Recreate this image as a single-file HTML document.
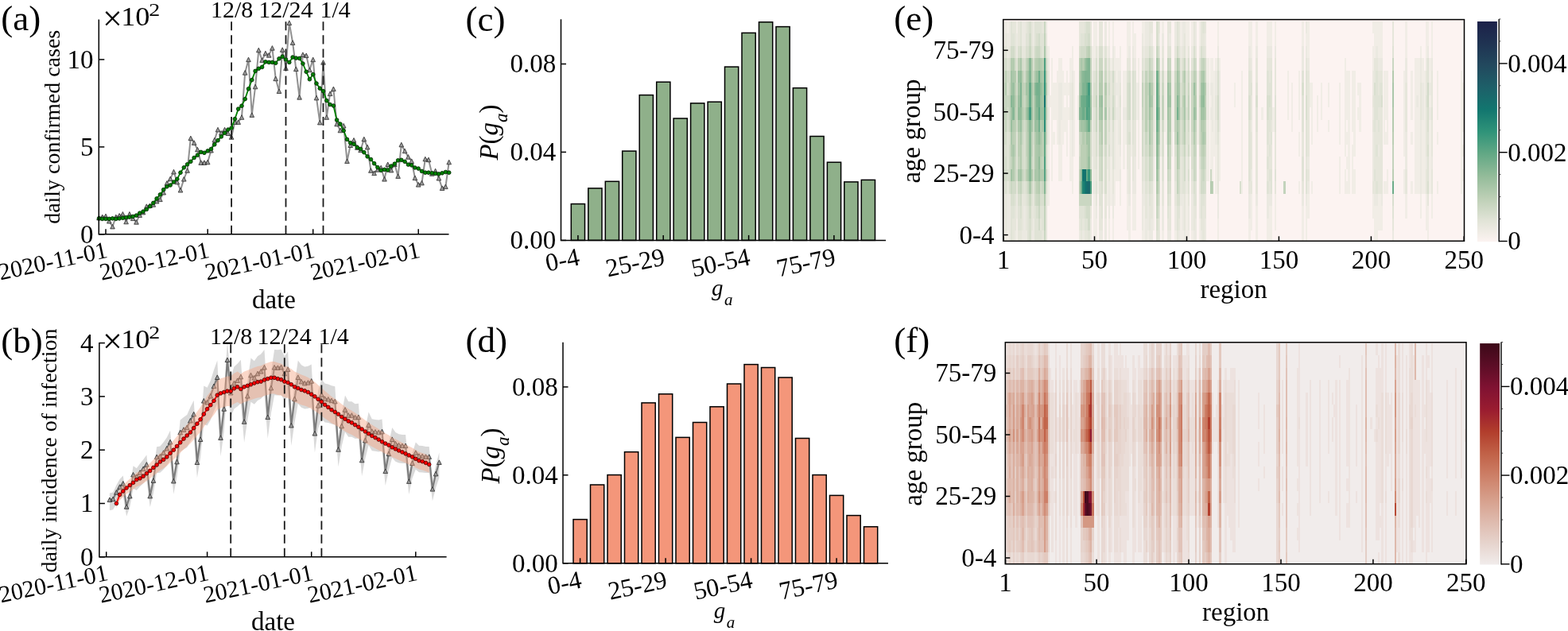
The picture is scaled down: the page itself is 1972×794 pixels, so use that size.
<!DOCTYPE html><html><head><meta charset="utf-8"><title>figure</title><style>html,body{margin:0;padding:0;background:#fff;overflow:hidden}svg{display:block}text{font-family:"Liberation Serif","Times New Roman",serif;fill:#000}</style></head><body>
<svg width="1972" height="794" viewBox="0 0 1972 794">
<rect width="1972" height="794" fill="#fff"/>
<g id="panel-a">
<path d="M124.5 274 L128.7 272.9 L133 271.9 L137.3 278.2 L141.5 285.1 L145.8 272.9 L150.1 271.3 L154.4 269.3 L158.6 279 L162.9 269.3 L167.2 274.8 L171.5 279.4 L175.7 270.6 L180 267.1 L184.3 259.6 L188.6 258.7 L192.8 257.4 L197.1 253.2 L201.4 250.8 L205.7 242.2 L209.9 230.4 L214.2 224.9 L218.5 216.1 L222.8 229 L227 239.2 L231.3 225.3 L235.6 214.5 L239.8 173.9 L244.1 179.6 L248.4 188.1 L252.7 204.6 L256.9 204.6 L261.2 204 L265.5 189.2 L269.8 176.1 L274 163.1 L278.3 167.3 L282.6 163.1 L286.9 167.7 L291.1 172.5 L295.4 153.6 L299.7 153.6 L304 147.5 L308.2 91.4 L312.5 74.9 L316.8 144.6 L321.1 109 L325.3 63 L329.6 75.6 L333.9 67 L338.2 69.4 L342.4 60.4 L346.7 98.9 L351 114.7 L355.2 62.6 L359.5 85.7 L363.8 28.7 L368.1 53.6 L372.3 86.8 L376.6 122.4 L380.9 68.7 L385.2 69.8 L389.4 87.9 L393.7 74.9 L398 123.1 L402.3 154.1 L406.5 78.4 L410.8 147.5 L415.1 117.8 L419.4 111.8 L423.6 156 L427.9 164 L432.2 158.2 L436.5 202.7 L440.7 182.7 L445 176.3 L449.3 185.5 L453.6 188.8 L457.8 175 L462.1 185.1 L466.4 214.5 L470.6 217.8 L474.9 213.4 L479.2 211 L483.5 225.3 L487.7 206.8 L492 214.1 L496.3 206.8 L500.6 221.6 L504.8 182 L509.1 189.9 L513.4 197.4 L517.7 202.7 L521.9 223.8 L526.2 232.3 L530.5 230.1 L534.8 200 L539 200.9 L543.3 218.5 L547.6 215 L551.9 224.2 L556.1 236.7 L560.4 234.8 L564.7 204" fill="none" stroke="#909090" stroke-width="2" stroke-linejoin="round"/>
<path d="M124.5 271.2L121.7 276.8L127.3 276.8ZM128.7 270.1L125.9 275.7L131.5 275.7ZM133 269.1L130.2 274.7L135.8 274.7ZM137.3 275.4L134.5 281L140.1 281ZM141.5 282.3L138.7 287.9L144.3 287.9ZM145.8 270.1L143 275.7L148.6 275.7ZM150.1 268.5L147.3 274.1L152.9 274.1ZM154.4 266.5L151.6 272.1L157.2 272.1ZM158.6 276.2L155.8 281.8L161.4 281.8ZM162.9 266.5L160.1 272.1L165.7 272.1ZM167.2 272L164.4 277.6L170 277.6ZM171.5 276.6L168.7 282.2L174.3 282.2ZM175.7 267.8L172.9 273.4L178.5 273.4ZM180 264.3L177.2 269.9L182.8 269.9ZM184.3 256.8L181.5 262.4L187.1 262.4ZM188.6 255.9L185.8 261.5L191.4 261.5ZM192.8 254.6L190 260.2L195.6 260.2ZM197.1 250.4L194.3 256L199.9 256ZM201.4 248L198.6 253.6L204.2 253.6ZM205.7 239.4L202.9 245L208.5 245ZM209.9 227.6L207.1 233.2L212.7 233.2ZM214.2 222.1L211.4 227.7L217 227.7ZM218.5 213.3L215.7 218.9L221.3 218.9ZM222.8 226.2L220 231.8L225.6 231.8ZM227 236.4L224.2 242L229.8 242ZM231.3 222.5L228.5 228.1L234.1 228.1ZM235.6 211.7L232.8 217.3L238.4 217.3ZM239.8 171.1L237 176.7L242.7 176.7ZM244.1 176.8L241.3 182.4L246.9 182.4ZM248.4 185.3L245.6 190.9L251.2 190.9ZM252.7 201.8L249.9 207.4L255.5 207.4ZM256.9 201.8L254.1 207.4L259.7 207.4ZM261.2 201.2L258.4 206.8L264 206.8ZM265.5 186.4L262.7 192L268.3 192ZM269.8 173.3L267 178.9L272.6 178.9ZM274 160.3L271.2 165.9L276.8 165.9ZM278.3 164.5L275.5 170.1L281.1 170.1ZM282.6 160.3L279.8 165.9L285.4 165.9ZM286.9 164.9L284.1 170.5L289.7 170.5ZM291.1 169.7L288.3 175.3L293.9 175.3ZM295.4 150.8L292.6 156.4L298.2 156.4ZM299.7 150.8L296.9 156.4L302.5 156.4ZM304 144.7L301.2 150.3L306.8 150.3ZM308.2 88.6L305.4 94.2L311 94.2ZM312.5 72.1L309.7 77.7L315.3 77.7ZM316.8 141.8L314 147.4L319.6 147.4ZM321.1 106.2L318.3 111.8L323.9 111.8ZM325.3 60.2L322.5 65.8L328.1 65.8ZM329.6 72.8L326.8 78.4L332.4 78.4ZM333.9 64.2L331.1 69.8L336.7 69.8ZM338.2 66.6L335.4 72.2L341 72.2ZM342.4 57.6L339.6 63.2L345.2 63.2ZM346.7 96.1L343.9 101.7L349.5 101.7ZM351 111.9L348.2 117.5L353.8 117.5ZM355.2 59.8L352.4 65.4L358 65.4ZM359.5 82.9L356.7 88.5L362.3 88.5ZM363.8 25.9L361 31.5L366.6 31.5ZM368.1 50.8L365.3 56.4L370.9 56.4ZM372.3 84L369.5 89.6L375.1 89.6ZM376.6 119.6L373.8 125.2L379.4 125.2ZM380.9 65.9L378.1 71.5L383.7 71.5ZM385.2 67L382.4 72.6L388 72.6ZM389.4 85.1L386.6 90.7L392.2 90.7ZM393.7 72.1L390.9 77.7L396.5 77.7ZM398 120.3L395.2 125.9L400.8 125.9ZM402.3 151.3L399.5 156.9L405.1 156.9ZM406.5 75.6L403.7 81.2L409.3 81.2ZM410.8 144.7L408 150.3L413.6 150.3ZM415.1 115L412.3 120.6L417.9 120.6ZM419.4 109L416.6 114.6L422.2 114.6ZM423.6 153.2L420.8 158.8L426.4 158.8ZM427.9 161.2L425.1 166.8L430.7 166.8ZM432.2 155.4L429.4 161L435 161ZM436.5 199.9L433.7 205.5L439.3 205.5ZM440.7 179.9L437.9 185.5L443.5 185.5ZM445 173.5L442.2 179.1L447.8 179.1ZM449.3 182.7L446.5 188.3L452.1 188.3ZM453.6 186L450.8 191.6L456.4 191.6ZM457.8 172.2L455 177.8L460.6 177.8ZM462.1 182.3L459.3 187.9L464.9 187.9ZM466.4 211.7L463.6 217.3L469.2 217.3ZM470.6 215L467.8 220.6L473.4 220.6ZM474.9 210.6L472.1 216.2L477.7 216.2ZM479.2 208.2L476.4 213.8L482 213.8ZM483.5 222.5L480.7 228.1L486.3 228.1ZM487.7 204L484.9 209.6L490.5 209.6ZM492 211.3L489.2 216.9L494.8 216.9ZM496.3 204L493.5 209.6L499.1 209.6ZM500.6 218.8L497.8 224.4L503.4 224.4ZM504.8 179.2L502 184.8L507.6 184.8ZM509.1 187.1L506.3 192.7L511.9 192.7ZM513.4 194.6L510.6 200.2L516.2 200.2ZM517.7 199.9L514.9 205.5L520.5 205.5ZM521.9 221L519.1 226.6L524.7 226.6ZM526.2 229.5L523.4 235.1L529 235.1ZM530.5 227.3L527.7 232.9L533.3 232.9ZM534.8 197.2L532 202.8L537.6 202.8ZM539 198.1L536.2 203.7L541.8 203.7ZM543.3 215.7L540.5 221.3L546.1 221.3ZM547.6 212.2L544.8 217.8L550.4 217.8ZM551.9 221.4L549.1 227L554.7 227ZM556.1 233.9L553.3 239.5L558.9 239.5ZM560.4 232L557.6 237.6L563.2 237.6ZM564.7 201.2L561.9 206.8L567.5 206.8Z" fill="#9a9a9a" stroke="#2a2a2a" stroke-width="0.8"/>
<path d="M291.1 294.8L291.1 26.2" stroke="#1a1a1a" stroke-width="1.8" stroke-dasharray="11.1 6"/>
<path d="M359.5 294.8L359.5 26.2" stroke="#1a1a1a" stroke-width="1.8" stroke-dasharray="11.1 6"/>
<path d="M406.5 294.8L406.5 26.2" stroke="#1a1a1a" stroke-width="1.8" stroke-dasharray="11.1 6"/>
<path d="M124.5 274.9 L128.7 275.4 L133 275.4 L137.3 275.4 L141.5 274.9 L145.8 275.4 L150.1 274.9 L154.4 274.3 L158.6 273.7 L162.9 273.2 L167.2 272.4 L171.5 271.1 L175.7 268.2 L180 266.2 L184.3 263.4 L188.6 259.6 L192.8 255.4 L197.1 249.9 L201.4 244.9 L205.7 238.7 L209.9 234.8 L214.2 233 L218.5 229 L222.8 225.3 L227 217.2 L231.3 210.8 L235.6 206.8 L239.8 203.3 L244.1 198.5 L248.4 195.2 L252.7 191.4 L256.9 192.3 L261.2 189.9 L265.5 187.5 L269.8 181.8 L274 176.7 L278.3 171.9 L282.6 167.3 L286.9 163.1 L291.1 161.1 L295.4 149.7 L299.7 137.1 L304 133.2 L308.2 124.6 L312.5 111.8 L316.8 100.6 L321.1 89.4 L325.3 86.3 L329.6 84.4 L333.9 77.8 L338.2 78.4 L342.4 78.4 L346.7 79.3 L351 73.8 L355.2 71.2 L359.5 74.9 L363.8 78.4 L368.1 72 L372.3 73.1 L376.6 73.4 L380.9 80 L385.2 90.3 L389.4 99.7 L393.7 93.6 L398 105 L402.3 111.2 L406.5 114.7 L410.8 126.6 L415.1 131.6 L419.4 133 L423.6 151 L427.9 156 L432.2 164.4 L436.5 175.4 L440.7 179.8 L445 181.3 L449.3 185.5 L453.6 187.5 L457.8 191.7 L462.1 196.9 L466.4 200.5 L470.6 205.7 L474.9 210.6 L479.2 214.3 L483.5 213.4 L487.7 214.1 L492 209 L496.3 206.2 L500.6 201.8 L504.8 201.3 L509.1 203.3 L513.4 207.1 L517.7 207.9 L521.9 211 L526.2 212.1 L530.5 215.4 L534.8 217.2 L539 217.2 L543.3 217.8 L547.6 218.3 L551.9 218.9 L556.1 217.8 L560.4 216.5 L564.7 217.2" fill="none" stroke="#008000" stroke-width="1.8" stroke-linejoin="round"/>
<g fill="#008000" stroke="#002200" stroke-width="0.8">
<circle cx="124.5" cy="274.9" r="2.35"/>
<circle cx="128.7" cy="275.4" r="2.35"/>
<circle cx="133" cy="275.4" r="2.35"/>
<circle cx="137.3" cy="275.4" r="2.35"/>
<circle cx="141.5" cy="274.9" r="2.35"/>
<circle cx="145.8" cy="275.4" r="2.35"/>
<circle cx="150.1" cy="274.9" r="2.35"/>
<circle cx="154.4" cy="274.3" r="2.35"/>
<circle cx="158.6" cy="273.7" r="2.35"/>
<circle cx="162.9" cy="273.2" r="2.35"/>
<circle cx="167.2" cy="272.4" r="2.35"/>
<circle cx="171.5" cy="271.1" r="2.35"/>
<circle cx="175.7" cy="268.2" r="2.35"/>
<circle cx="180" cy="266.2" r="2.35"/>
<circle cx="184.3" cy="263.4" r="2.35"/>
<circle cx="188.6" cy="259.6" r="2.35"/>
<circle cx="192.8" cy="255.4" r="2.35"/>
<circle cx="197.1" cy="249.9" r="2.35"/>
<circle cx="201.4" cy="244.9" r="2.35"/>
<circle cx="205.7" cy="238.7" r="2.35"/>
<circle cx="209.9" cy="234.8" r="2.35"/>
<circle cx="214.2" cy="233" r="2.35"/>
<circle cx="218.5" cy="229" r="2.35"/>
<circle cx="222.8" cy="225.3" r="2.35"/>
<circle cx="227" cy="217.2" r="2.35"/>
<circle cx="231.3" cy="210.8" r="2.35"/>
<circle cx="235.6" cy="206.8" r="2.35"/>
<circle cx="239.8" cy="203.3" r="2.35"/>
<circle cx="244.1" cy="198.5" r="2.35"/>
<circle cx="248.4" cy="195.2" r="2.35"/>
<circle cx="252.7" cy="191.4" r="2.35"/>
<circle cx="256.9" cy="192.3" r="2.35"/>
<circle cx="261.2" cy="189.9" r="2.35"/>
<circle cx="265.5" cy="187.5" r="2.35"/>
<circle cx="269.8" cy="181.8" r="2.35"/>
<circle cx="274" cy="176.7" r="2.35"/>
<circle cx="278.3" cy="171.9" r="2.35"/>
<circle cx="282.6" cy="167.3" r="2.35"/>
<circle cx="286.9" cy="163.1" r="2.35"/>
<circle cx="291.1" cy="161.1" r="2.35"/>
<circle cx="295.4" cy="149.7" r="2.35"/>
<circle cx="299.7" cy="137.1" r="2.35"/>
<circle cx="304" cy="133.2" r="2.35"/>
<circle cx="308.2" cy="124.6" r="2.35"/>
<circle cx="312.5" cy="111.8" r="2.35"/>
<circle cx="316.8" cy="100.6" r="2.35"/>
<circle cx="321.1" cy="89.4" r="2.35"/>
<circle cx="325.3" cy="86.3" r="2.35"/>
<circle cx="329.6" cy="84.4" r="2.35"/>
<circle cx="333.9" cy="77.8" r="2.35"/>
<circle cx="338.2" cy="78.4" r="2.35"/>
<circle cx="342.4" cy="78.4" r="2.35"/>
<circle cx="346.7" cy="79.3" r="2.35"/>
<circle cx="351" cy="73.8" r="2.35"/>
<circle cx="355.2" cy="71.2" r="2.35"/>
<circle cx="359.5" cy="74.9" r="2.35"/>
<circle cx="363.8" cy="78.4" r="2.35"/>
<circle cx="368.1" cy="72" r="2.35"/>
<circle cx="372.3" cy="73.1" r="2.35"/>
<circle cx="376.6" cy="73.4" r="2.35"/>
<circle cx="380.9" cy="80" r="2.35"/>
<circle cx="385.2" cy="90.3" r="2.35"/>
<circle cx="389.4" cy="99.7" r="2.35"/>
<circle cx="393.7" cy="93.6" r="2.35"/>
<circle cx="398" cy="105" r="2.35"/>
<circle cx="402.3" cy="111.2" r="2.35"/>
<circle cx="406.5" cy="114.7" r="2.35"/>
<circle cx="410.8" cy="126.6" r="2.35"/>
<circle cx="415.1" cy="131.6" r="2.35"/>
<circle cx="419.4" cy="133" r="2.35"/>
<circle cx="423.6" cy="151" r="2.35"/>
<circle cx="427.9" cy="156" r="2.35"/>
<circle cx="432.2" cy="164.4" r="2.35"/>
<circle cx="436.5" cy="175.4" r="2.35"/>
<circle cx="440.7" cy="179.8" r="2.35"/>
<circle cx="445" cy="181.3" r="2.35"/>
<circle cx="449.3" cy="185.5" r="2.35"/>
<circle cx="453.6" cy="187.5" r="2.35"/>
<circle cx="457.8" cy="191.7" r="2.35"/>
<circle cx="462.1" cy="196.9" r="2.35"/>
<circle cx="466.4" cy="200.5" r="2.35"/>
<circle cx="470.6" cy="205.7" r="2.35"/>
<circle cx="474.9" cy="210.6" r="2.35"/>
<circle cx="479.2" cy="214.3" r="2.35"/>
<circle cx="483.5" cy="213.4" r="2.35"/>
<circle cx="487.7" cy="214.1" r="2.35"/>
<circle cx="492" cy="209" r="2.35"/>
<circle cx="496.3" cy="206.2" r="2.35"/>
<circle cx="500.6" cy="201.8" r="2.35"/>
<circle cx="504.8" cy="201.3" r="2.35"/>
<circle cx="509.1" cy="203.3" r="2.35"/>
<circle cx="513.4" cy="207.1" r="2.35"/>
<circle cx="517.7" cy="207.9" r="2.35"/>
<circle cx="521.9" cy="211" r="2.35"/>
<circle cx="526.2" cy="212.1" r="2.35"/>
<circle cx="530.5" cy="215.4" r="2.35"/>
<circle cx="534.8" cy="217.2" r="2.35"/>
<circle cx="539" cy="217.2" r="2.35"/>
<circle cx="543.3" cy="217.8" r="2.35"/>
<circle cx="547.6" cy="218.3" r="2.35"/>
<circle cx="551.9" cy="218.9" r="2.35"/>
<circle cx="556.1" cy="217.8" r="2.35"/>
<circle cx="560.4" cy="216.5" r="2.35"/>
<circle cx="564.7" cy="217.2" r="2.35"/>
</g>
<path d="M124.3 24.5L124.3 294.8L564.5 294.8" fill="none" stroke="#000" stroke-width="1.5"/>
<line x1="124.3" y1="294.8" x2="131.3" y2="294.8" stroke="#000" stroke-width="1.5"/>
<text x="117.6" y="305.7" font-size="33" text-anchor="end">0</text>
<line x1="124.3" y1="184.9" x2="131.3" y2="184.9" stroke="#000" stroke-width="1.5"/>
<text x="117.6" y="195.8" font-size="33" text-anchor="end">5</text>
<line x1="124.3" y1="74.9" x2="131.3" y2="74.9" stroke="#000" stroke-width="1.5"/>
<text x="117.6" y="85.8" font-size="33" text-anchor="end">10</text>
<line x1="133" y1="294.8" x2="133" y2="288.3" stroke="#000" stroke-width="1.5"/>
<text x="136.4" y="323.7" font-size="30" text-anchor="end" transform="rotate(-12 136.4 323.7)">2020-11-01</text>
<line x1="261.2" y1="294.8" x2="261.2" y2="288.3" stroke="#000" stroke-width="1.5"/>
<text x="264.6" y="323.7" font-size="30" text-anchor="end" transform="rotate(-12 264.6 323.7)">2020-12-01</text>
<line x1="393.7" y1="294.8" x2="393.7" y2="288.3" stroke="#000" stroke-width="1.5"/>
<text x="397.1" y="323.7" font-size="30" text-anchor="end" transform="rotate(-12 397.1 323.7)">2021-01-01</text>
<line x1="526.2" y1="294.8" x2="526.2" y2="288.3" stroke="#000" stroke-width="1.5"/>
<text x="529.6" y="323.7" font-size="30" text-anchor="end" transform="rotate(-12 529.6 323.7)">2021-02-01</text>
<text x="1.2" y="38.4" font-size="45">(a)</text>
<text x="129.1" y="37.9" font-size="44">×</text>
<text transform="translate(152.2 31.9) scale(1.1 1)" font-size="33">10</text>
<text transform="translate(187.2 19.9) scale(1.2 1)" font-size="23.3">2</text>
<text x="75" y="159.8" font-size="28" text-anchor="middle" transform="rotate(-90 75 159.8)">daily confirmed cases</text>
<text x="344.5" y="387.8" font-size="33" text-anchor="middle">date</text>
<text x="291.6" y="22" font-size="30" text-anchor="middle">12/8</text>
<text x="359.3" y="22" font-size="30" text-anchor="middle">12/24</text>
<text x="402.5" y="22" font-size="30">1/4</text>
</g>
<g id="panel-b">
<path d="M137.9 620.6 L142.2 619.6 L146.4 610.4 L150.6 603.1 L154.8 598.4 L159.1 630.1 L163.3 615.5 L167.5 586.3 L171.8 589.3 L176 583.4 L180.2 578.3 L184.4 572.5 L188.7 615.5 L192.9 594.4 L197.1 562.2 L201.4 561.5 L205.6 556.4 L209.8 550.5 L214.1 541.8 L218.3 595.1 L222.5 568.8 L226.7 528.6 L231 525 L235.2 522.1 L239.4 512.6 L243.7 503.8 L247.9 569.5 L252.1 538.1 L256.3 485.6 L260.6 487.8 L264.8 479 L269 465.5 L273.3 453.4 L277.5 535.9 L281.7 496.5 L285.9 429.7 L290.2 474.6 L294.4 461.5 L298.6 457.8 L302.9 452.7 L307.1 514 L311.3 479 L315.5 450.5 L319.8 454.2 L324 448.3 L328.2 445.4 L332.5 439.9 L336.7 507.8 L340.9 468 L345.1 439.9 L349.4 440.3 L353.6 439.6 L357.8 448.3 L362.1 442.5 L366.3 519.2 L370.5 483 L374.8 453.4 L379 459.3 L383.2 461.5 L387.4 460.7 L391.7 458.5 L395.9 530.1 L400.1 492.1 L404.4 477.2 L408.6 482.6 L412.8 483.4 L417 485.2 L421.3 486.3 L425.5 552 L429.7 519.9 L434 497.6 L438.2 505.3 L442.4 505.3 L446.6 508.2 L450.9 507.8 L455.1 566.6 L459.3 539.6 L463.6 518.4 L467.8 527.2 L472 527.9 L476.2 528.6 L480.5 527.5 L484.7 581.6 L488.9 557.9 L493.2 538.1 L497.4 544 L501.6 546.2 L505.9 546.9 L510.1 546.9 L514.3 595.5 L518.5 570.6 L522.8 556.4 L527 560.8 L531.2 561.1 L535.5 561.9 L539.7 561.9 L543.9 606 L548.1 585.2 L552.4 569.5 L552.4 601.2 L548.1 613.8 L543.9 630.5 L539.7 595.1 L535.5 595.1 L531.2 594.5 L527 594.2 L522.8 590.7 L518.5 602.1 L514.3 622 L510.1 583.1 L505.9 583.1 L501.6 582.5 L497.4 580.7 L493.2 576 L488.9 591.8 L484.7 610.9 L480.5 567.5 L476.2 568.4 L472 567.8 L467.8 567.2 L463.6 560.2 L459.3 577.2 L455.1 598.9 L450.9 551.7 L446.6 552 L442.4 549.7 L438.2 549.7 L434 543.5 L429.7 561.4 L425.5 587.2 L421.3 534.5 L417 533.6 L412.8 532.1 L408.6 531.5 L404.4 527.1 L400.1 539.1 L395.9 569.6 L391.7 512.2 L387.4 514 L383.2 514.5 L379 512.8 L374.8 508.1 L370.5 531.8 L366.3 560.8 L362.1 499.3 L357.8 504 L353.6 497 L349.4 497.6 L345.1 497.3 L340.9 519.8 L336.7 551.7 L332.5 497.3 L328.2 501.7 L324 504 L319.8 508.7 L315.5 505.8 L311.3 528.6 L307.1 556.7 L302.9 507.5 L298.6 511.6 L294.4 514.5 L290.2 525.1 L285.9 489.1 L281.7 542.7 L277.5 574.3 L273.3 508.1 L269 517.8 L264.8 528.6 L260.6 535.6 L256.3 533.9 L252.1 576 L247.9 601.2 L243.7 548.5 L239.4 555.5 L235.2 563.1 L231 565.5 L226.7 568.4 L222.5 600.6 L218.3 621.7 L214.1 579 L209.8 586 L205.6 590.7 L201.4 594.8 L197.1 595.3 L192.9 621.1 L188.7 638.1 L184.4 603.5 L180.2 608.2 L176 612.3 L171.8 617 L167.5 614.7 L163.3 638.1 L159.1 649.8 L154.8 624.3 L150.6 628.1 L146.4 634 L142.2 641.3 L137.9 642.2Z" fill="#c0c0c0" fill-opacity="0.6"/>
<path d="M137.9 628.8 L142.2 627.8 L146.4 619.4 L150.6 612.6 L154.8 608.3 L159.1 637.5 L163.3 624.1 L167.5 597.2 L171.8 599.8 L176 594.5 L180.2 589.8 L184.4 584.4 L188.7 624.1 L192.9 604.6 L197.1 574.9 L201.4 574.3 L205.6 569.6 L209.8 564.2 L214.1 556.1 L218.3 605.2 L222.5 581 L226.7 544 L231 540.6 L235.2 537.9 L239.4 529.2 L243.7 521.1 L247.9 581.7 L252.1 552.7 L256.3 504.3 L260.6 506.3 L264.8 498.2 L269 485.8 L273.3 474.7 L277.5 550.7 L281.7 514.4 L285.9 452.8 L290.2 494.2 L294.4 482.1 L298.6 478.7 L302.9 474 L307.1 530.5 L311.3 498.2 L315.5 472 L319.8 475.3 L324 470 L328.2 467.3 L332.5 462.2 L336.7 524.8 L340.9 488.1 L345.1 462.2 L349.4 462.6 L353.6 461.9 L357.8 470 L362.1 464.6 L366.3 535.2 L370.5 501.9 L374.8 474.7 L379 480.1 L383.2 482.1 L387.4 481.4 L391.7 479.4 L395.9 545.3 L400.1 510.3 L404.4 496.5 L408.6 501.6 L412.8 502.3 L417 503.9 L421.3 505 L425.5 565.5 L429.7 535.9 L434 515.4 L438.2 522.5 L442.4 522.5 L446.6 525.1 L450.9 524.8 L455.1 579 L459.3 554.1 L463.6 534.6 L467.8 542.6 L472 543.3 L476.2 544 L480.5 543 L484.7 592.8 L488.9 570.9 L493.2 552.7 L497.4 558.1 L501.6 560.1 L505.9 560.8 L510.1 560.8 L514.3 605.6 L518.5 582.7 L522.8 569.6 L527 573.6 L531.2 573.9 L535.5 574.6 L539.7 574.6 L543.9 615.3 L548.1 596.1 L552.4 581.7" fill="none" stroke="#7c7c7c" stroke-width="2.2" stroke-linejoin="round"/>
<path d="M137.9 626L135.1 631.6L140.7 631.6ZM142.2 625L139.4 630.6L145 630.6ZM146.4 616.6L143.6 622.2L149.2 622.2ZM150.6 609.8L147.8 615.4L153.4 615.4ZM154.8 605.5L152 611.1L157.6 611.1ZM159.1 634.7L156.3 640.3L161.9 640.3ZM163.3 621.3L160.5 626.9L166.1 626.9ZM167.5 594.4L164.7 600L170.3 600ZM171.8 597L169 602.6L174.6 602.6ZM176 591.7L173.2 597.3L178.8 597.3ZM180.2 587L177.4 592.6L183 592.6ZM184.4 581.6L181.6 587.2L187.2 587.2ZM188.7 621.3L185.9 626.9L191.5 626.9ZM192.9 601.8L190.1 607.4L195.7 607.4ZM197.1 572.1L194.3 577.7L199.9 577.7ZM201.4 571.5L198.6 577.1L204.2 577.1ZM205.6 566.8L202.8 572.4L208.4 572.4ZM209.8 561.4L207 567L212.6 567ZM214.1 553.3L211.3 558.9L216.9 558.9ZM218.3 602.4L215.5 608L221.1 608ZM222.5 578.2L219.7 583.8L225.3 583.8ZM226.7 541.2L223.9 546.8L229.5 546.8ZM231 537.8L228.2 543.4L233.8 543.4ZM235.2 535.1L232.4 540.7L238 540.7ZM239.4 526.4L236.6 532L242.2 532ZM243.7 518.3L240.9 523.9L246.5 523.9ZM247.9 578.9L245.1 584.5L250.7 584.5ZM252.1 549.9L249.3 555.5L254.9 555.5ZM256.3 501.5L253.5 507.1L259.1 507.1ZM260.6 503.5L257.8 509.1L263.4 509.1ZM264.8 495.4L262 501L267.6 501ZM269 483L266.2 488.6L271.8 488.6ZM273.3 471.9L270.5 477.5L276.1 477.5ZM277.5 547.9L274.7 553.5L280.3 553.5ZM281.7 511.6L278.9 517.2L284.5 517.2ZM285.9 450L283.1 455.6L288.7 455.6ZM290.2 491.4L287.4 497L293 497ZM294.4 479.3L291.6 484.9L297.2 484.9ZM298.6 475.9L295.8 481.5L301.4 481.5ZM302.9 471.2L300.1 476.8L305.7 476.8ZM307.1 527.7L304.3 533.3L309.9 533.3ZM311.3 495.4L308.5 501L314.1 501ZM315.5 469.2L312.7 474.8L318.3 474.8ZM319.8 472.5L317 478.1L322.6 478.1ZM324 467.2L321.2 472.8L326.8 472.8ZM328.2 464.5L325.4 470.1L331 470.1ZM332.5 459.4L329.7 465L335.3 465ZM336.7 522L333.9 527.6L339.5 527.6ZM340.9 485.3L338.1 490.9L343.7 490.9ZM345.1 459.4L342.3 465L347.9 465ZM349.4 459.8L346.6 465.4L352.2 465.4ZM353.6 459.1L350.8 464.7L356.4 464.7ZM357.8 467.2L355 472.8L360.6 472.8ZM362.1 461.8L359.3 467.4L364.9 467.4ZM366.3 532.4L363.5 538L369.1 538ZM370.5 499.1L367.7 504.7L373.3 504.7ZM374.8 471.9L372 477.5L377.6 477.5ZM379 477.3L376.2 482.9L381.8 482.9ZM383.2 479.3L380.4 484.9L386 484.9ZM387.4 478.6L384.6 484.2L390.2 484.2ZM391.7 476.6L388.9 482.2L394.5 482.2ZM395.9 542.5L393.1 548.1L398.7 548.1ZM400.1 507.5L397.3 513.1L402.9 513.1ZM404.4 493.7L401.6 499.3L407.2 499.3ZM408.6 498.8L405.8 504.4L411.4 504.4ZM412.8 499.5L410 505.1L415.6 505.1ZM417 501.1L414.2 506.7L419.8 506.7ZM421.3 502.2L418.5 507.8L424.1 507.8ZM425.5 562.7L422.7 568.3L428.3 568.3ZM429.7 533.1L426.9 538.7L432.5 538.7ZM434 512.6L431.2 518.2L436.8 518.2ZM438.2 519.7L435.4 525.3L441 525.3ZM442.4 519.7L439.6 525.3L445.2 525.3ZM446.6 522.3L443.8 527.9L449.4 527.9ZM450.9 522L448.1 527.6L453.7 527.6ZM455.1 576.2L452.3 581.8L457.9 581.8ZM459.3 551.3L456.5 556.9L462.1 556.9ZM463.6 531.8L460.8 537.4L466.4 537.4ZM467.8 539.8L465 545.4L470.6 545.4ZM472 540.5L469.2 546.1L474.8 546.1ZM476.2 541.2L473.4 546.8L479 546.8ZM480.5 540.2L477.7 545.8L483.3 545.8ZM484.7 590L481.9 595.6L487.5 595.6ZM488.9 568.1L486.1 573.7L491.7 573.7ZM493.2 549.9L490.4 555.5L496 555.5ZM497.4 555.3L494.6 560.9L500.2 560.9ZM501.6 557.3L498.8 562.9L504.4 562.9ZM505.9 558L503.1 563.6L508.7 563.6ZM510.1 558L507.3 563.6L512.9 563.6ZM514.3 602.8L511.5 608.4L517.1 608.4ZM518.5 579.9L515.7 585.5L521.3 585.5ZM522.8 566.8L520 572.4L525.6 572.4ZM527 570.8L524.2 576.4L529.8 576.4ZM531.2 571.1L528.4 576.7L534 576.7ZM535.5 571.8L532.7 577.4L538.3 577.4ZM539.7 571.8L536.9 577.4L542.5 577.4ZM543.9 612.5L541.1 618.1L546.7 618.1ZM548.1 593.3L545.3 598.9L550.9 598.9ZM552.4 578.9L549.6 584.5L555.2 584.5Z" fill="#9a9a9a" stroke="#2a2a2a" stroke-width="0.8"/>
<path d="M146.4 627.4 L150.6 615.3 L154.8 610.6 L159.1 606.2 L163.3 602.5 L167.5 598.8 L171.8 594.8 L176 593 L180.2 590 L184.4 586.4 L188.7 582.7 L192.9 578.3 L197.1 574.6 L201.4 570.2 L205.6 567.3 L209.8 563.6 L214.1 558.5 L218.3 554.1 L222.5 549 L226.7 543.8 L231 538.7 L235.2 534.3 L239.4 529.9 L243.7 524 L247.9 518.1 L252.1 512.3 L256.3 504.9 L260.6 498 L264.8 492.5 L269 486.6 L273.3 478.9 L277.5 476.3 L281.7 474.9 L285.9 473.4 L290.2 473.4 L294.4 469.7 L298.6 467.5 L302.9 470.5 L307.1 467.5 L311.3 466.1 L315.5 464.2 L319.8 462.4 L324 460.9 L328.2 460.2 L332.5 458 L336.7 456.5 L340.9 455.1 L345.1 455.1 L349.4 456.5 L353.6 457.6 L357.8 460.2 L362.1 461.7 L366.3 464.2 L370.5 467.5 L374.8 469.4 L379 471.6 L383.2 473 L387.4 474.9 L391.7 477.8 L395.9 480.7 L400.1 484.4 L404.4 488.1 L408.6 492.1 L412.8 495.4 L417 499.1 L421.3 502 L425.5 504.9 L429.7 508.6 L434 511.5 L438.2 514.5 L442.4 516.7 L446.6 519.6 L450.9 522.5 L455.1 525.5 L459.3 528.8 L463.6 531.7 L467.8 534.6 L472 537.2 L476.2 539.8 L480.5 542.7 L484.7 545.3 L488.9 547.5 L493.2 550.4 L497.4 552.6 L501.6 554.8 L505.9 557 L510.1 559.2 L514.3 561.4 L518.5 563.6 L522.8 566.2 L527 568.8 L531.2 569.9 L535.5 571.7 L539.7 573.9 L539.7 594.8 L535.5 593 L531.2 591.5 L527 590.6 L522.8 588.4 L518.5 586.3 L514.3 584.4 L510.1 582.6 L505.9 580.8 L501.6 578.9 L497.4 577.1 L493.2 575.3 L488.9 572.8 L484.7 571 L480.5 568.8 L476.2 566.4 L472 564.2 L467.8 562.1 L463.6 559.6 L459.3 557.2 L455.1 554.4 L450.9 552 L446.6 549.5 L442.4 547.1 L438.2 545.2 L434 542.8 L429.7 540.3 L425.5 537.3 L421.3 534.8 L417 532.4 L412.8 529.3 L408.6 526.6 L404.4 523.2 L400.1 520.1 L395.9 517.1 L391.7 514.6 L387.4 512.2 L383.2 510.6 L379 509.4 L374.8 507.6 L370.5 506 L366.3 503.3 L362.1 501.1 L357.8 499.9 L353.6 497.8 L349.4 496.9 L345.1 495.6 L340.9 495.6 L336.7 496.9 L332.5 498.1 L328.2 499.9 L324 500.5 L319.8 501.8 L315.5 503.3 L311.3 504.8 L307.1 506 L302.9 508.5 L298.6 506 L294.4 507.9 L290.2 510.9 L285.9 510.9 L281.7 512.2 L277.5 513.4 L273.3 515.5 L269 522 L264.8 526.9 L260.6 531.5 L256.3 537.3 L252.1 543.4 L247.9 548.3 L243.7 553.2 L239.4 558.1 L235.2 561.8 L231 565.5 L226.7 569.7 L222.5 574 L218.3 578.3 L214.1 582 L209.8 586.3 L205.6 589.3 L201.4 591.8 L197.1 595.5 L192.9 598.5 L188.7 602.2 L184.4 605.3 L180.2 608.3 L176 610.8 L171.8 612.3 L167.5 615.7 L163.3 618.7 L159.1 621.8 L154.8 625.5 L150.6 629.5 L146.4 639.6Z" fill="#f4a582" fill-opacity="0.45"/>
<path d="M290.2 700.8L290.2 432" stroke="#1a1a1a" stroke-width="1.8" stroke-dasharray="11.1 6"/>
<path d="M357.8 700.8L357.8 432" stroke="#1a1a1a" stroke-width="1.8" stroke-dasharray="11.1 6"/>
<path d="M404.4 700.8L404.4 432" stroke="#1a1a1a" stroke-width="1.8" stroke-dasharray="11.1 6"/>
<path d="M146.4 633.5 L150.6 622.4 L154.8 618 L159.1 614 L163.3 610.6 L167.5 607.3 L171.8 603.6 L176 601.9 L180.2 599.2 L184.4 595.8 L188.7 592.4 L192.9 588.4 L197.1 585 L201.4 581 L205.6 578.3 L209.8 574.9 L214.1 570.2 L218.3 566.2 L222.5 561.5 L226.7 556.8 L231 552.1 L235.2 548 L239.4 544 L243.7 538.6 L247.9 533.2 L252.1 527.8 L256.3 521.1 L260.6 514.7 L264.8 509.7 L269 504.3 L273.3 497.2 L277.5 494.9 L281.7 493.5 L285.9 492.2 L290.2 492.2 L294.4 488.8 L298.6 486.8 L302.9 489.5 L307.1 486.8 L311.3 485.4 L315.5 483.8 L319.8 482.1 L324 480.7 L328.2 480.1 L332.5 478 L336.7 476.7 L340.9 475.3 L345.1 475.3 L349.4 476.7 L353.6 477.7 L357.8 480.1 L362.1 481.4 L366.3 483.8 L370.5 486.8 L374.8 488.5 L379 490.5 L383.2 491.8 L387.4 493.5 L391.7 496.2 L395.9 498.9 L400.1 502.3 L404.4 505.6 L408.6 509.3 L412.8 512.4 L417 515.7 L421.3 518.4 L425.5 521.1 L429.7 524.5 L434 527.2 L438.2 529.9 L442.4 531.9 L446.6 534.6 L450.9 537.3 L455.1 540 L459.3 543 L463.6 545.7 L467.8 548.4 L472 550.7 L476.2 553.1 L480.5 555.8 L484.7 558.1 L488.9 560.1 L493.2 562.8 L497.4 564.9 L501.6 566.9 L505.9 568.9 L510.1 570.9 L514.3 572.9 L518.5 574.9 L522.8 577.3 L527 579.7 L531.2 580.7 L535.5 582.4 L539.7 584.4" fill="none" stroke="#ff0000" stroke-width="1.8" stroke-linejoin="round"/>
<g fill="#ff0000" stroke="#400000" stroke-width="0.8">
<circle cx="146.4" cy="633.5" r="2.35"/>
<circle cx="150.6" cy="622.4" r="2.35"/>
<circle cx="154.8" cy="618" r="2.35"/>
<circle cx="159.1" cy="614" r="2.35"/>
<circle cx="163.3" cy="610.6" r="2.35"/>
<circle cx="167.5" cy="607.3" r="2.35"/>
<circle cx="171.8" cy="603.6" r="2.35"/>
<circle cx="176" cy="601.9" r="2.35"/>
<circle cx="180.2" cy="599.2" r="2.35"/>
<circle cx="184.4" cy="595.8" r="2.35"/>
<circle cx="188.7" cy="592.4" r="2.35"/>
<circle cx="192.9" cy="588.4" r="2.35"/>
<circle cx="197.1" cy="585" r="2.35"/>
<circle cx="201.4" cy="581" r="2.35"/>
<circle cx="205.6" cy="578.3" r="2.35"/>
<circle cx="209.8" cy="574.9" r="2.35"/>
<circle cx="214.1" cy="570.2" r="2.35"/>
<circle cx="218.3" cy="566.2" r="2.35"/>
<circle cx="222.5" cy="561.5" r="2.35"/>
<circle cx="226.7" cy="556.8" r="2.35"/>
<circle cx="231" cy="552.1" r="2.35"/>
<circle cx="235.2" cy="548" r="2.35"/>
<circle cx="239.4" cy="544" r="2.35"/>
<circle cx="243.7" cy="538.6" r="2.35"/>
<circle cx="247.9" cy="533.2" r="2.35"/>
<circle cx="252.1" cy="527.8" r="2.35"/>
<circle cx="256.3" cy="521.1" r="2.35"/>
<circle cx="260.6" cy="514.7" r="2.35"/>
<circle cx="264.8" cy="509.7" r="2.35"/>
<circle cx="269" cy="504.3" r="2.35"/>
<circle cx="273.3" cy="497.2" r="2.35"/>
<circle cx="277.5" cy="494.9" r="2.35"/>
<circle cx="281.7" cy="493.5" r="2.35"/>
<circle cx="285.9" cy="492.2" r="2.35"/>
<circle cx="290.2" cy="492.2" r="2.35"/>
<circle cx="294.4" cy="488.8" r="2.35"/>
<circle cx="298.6" cy="486.8" r="2.35"/>
<circle cx="302.9" cy="489.5" r="2.35"/>
<circle cx="307.1" cy="486.8" r="2.35"/>
<circle cx="311.3" cy="485.4" r="2.35"/>
<circle cx="315.5" cy="483.8" r="2.35"/>
<circle cx="319.8" cy="482.1" r="2.35"/>
<circle cx="324" cy="480.7" r="2.35"/>
<circle cx="328.2" cy="480.1" r="2.35"/>
<circle cx="332.5" cy="478" r="2.35"/>
<circle cx="336.7" cy="476.7" r="2.35"/>
<circle cx="340.9" cy="475.3" r="2.35"/>
<circle cx="345.1" cy="475.3" r="2.35"/>
<circle cx="349.4" cy="476.7" r="2.35"/>
<circle cx="353.6" cy="477.7" r="2.35"/>
<circle cx="357.8" cy="480.1" r="2.35"/>
<circle cx="362.1" cy="481.4" r="2.35"/>
<circle cx="366.3" cy="483.8" r="2.35"/>
<circle cx="370.5" cy="486.8" r="2.35"/>
<circle cx="374.8" cy="488.5" r="2.35"/>
<circle cx="379" cy="490.5" r="2.35"/>
<circle cx="383.2" cy="491.8" r="2.35"/>
<circle cx="387.4" cy="493.5" r="2.35"/>
<circle cx="391.7" cy="496.2" r="2.35"/>
<circle cx="395.9" cy="498.9" r="2.35"/>
<circle cx="400.1" cy="502.3" r="2.35"/>
<circle cx="404.4" cy="505.6" r="2.35"/>
<circle cx="408.6" cy="509.3" r="2.35"/>
<circle cx="412.8" cy="512.4" r="2.35"/>
<circle cx="417" cy="515.7" r="2.35"/>
<circle cx="421.3" cy="518.4" r="2.35"/>
<circle cx="425.5" cy="521.1" r="2.35"/>
<circle cx="429.7" cy="524.5" r="2.35"/>
<circle cx="434" cy="527.2" r="2.35"/>
<circle cx="438.2" cy="529.9" r="2.35"/>
<circle cx="442.4" cy="531.9" r="2.35"/>
<circle cx="446.6" cy="534.6" r="2.35"/>
<circle cx="450.9" cy="537.3" r="2.35"/>
<circle cx="455.1" cy="540" r="2.35"/>
<circle cx="459.3" cy="543" r="2.35"/>
<circle cx="463.6" cy="545.7" r="2.35"/>
<circle cx="467.8" cy="548.4" r="2.35"/>
<circle cx="472" cy="550.7" r="2.35"/>
<circle cx="476.2" cy="553.1" r="2.35"/>
<circle cx="480.5" cy="555.8" r="2.35"/>
<circle cx="484.7" cy="558.1" r="2.35"/>
<circle cx="488.9" cy="560.1" r="2.35"/>
<circle cx="493.2" cy="562.8" r="2.35"/>
<circle cx="497.4" cy="564.9" r="2.35"/>
<circle cx="501.6" cy="566.9" r="2.35"/>
<circle cx="505.9" cy="568.9" r="2.35"/>
<circle cx="510.1" cy="570.9" r="2.35"/>
<circle cx="514.3" cy="572.9" r="2.35"/>
<circle cx="518.5" cy="574.9" r="2.35"/>
<circle cx="522.8" cy="577.3" r="2.35"/>
<circle cx="527" cy="579.7" r="2.35"/>
<circle cx="531.2" cy="580.7" r="2.35"/>
<circle cx="535.5" cy="582.4" r="2.35"/>
<circle cx="539.7" cy="584.4" r="2.35"/>
</g>
<path d="M124.9 430.9L124.9 700.8L561.6 700.8" fill="none" stroke="#000" stroke-width="1.5"/>
<line x1="124.9" y1="700.8" x2="131.9" y2="700.8" stroke="#000" stroke-width="1.5"/>
<text x="117.6" y="711.7" font-size="33" text-anchor="end">0</text>
<line x1="124.9" y1="633.5" x2="131.9" y2="633.5" stroke="#000" stroke-width="1.5"/>
<text x="117.6" y="644.4" font-size="33" text-anchor="end">1</text>
<line x1="124.9" y1="566.2" x2="131.9" y2="566.2" stroke="#000" stroke-width="1.5"/>
<text x="117.6" y="577.1" font-size="33" text-anchor="end">2</text>
<line x1="124.9" y1="498.9" x2="131.9" y2="498.9" stroke="#000" stroke-width="1.5"/>
<text x="117.6" y="509.8" font-size="33" text-anchor="end">3</text>
<line x1="124.9" y1="431.6" x2="131.9" y2="431.6" stroke="#000" stroke-width="1.5"/>
<text x="117.6" y="442.5" font-size="33" text-anchor="end">4</text>
<line x1="133.7" y1="700.8" x2="133.7" y2="694.3" stroke="#000" stroke-width="1.5"/>
<text x="137.1" y="729.7" font-size="30" text-anchor="end" transform="rotate(-12 137.1 729.7)">2020-11-01</text>
<line x1="260.6" y1="700.8" x2="260.6" y2="694.3" stroke="#000" stroke-width="1.5"/>
<text x="264" y="729.7" font-size="30" text-anchor="end" transform="rotate(-12 264 729.7)">2020-12-01</text>
<line x1="391.7" y1="700.8" x2="391.7" y2="694.3" stroke="#000" stroke-width="1.5"/>
<text x="395.1" y="729.7" font-size="30" text-anchor="end" transform="rotate(-12 395.1 729.7)">2021-01-01</text>
<line x1="522.8" y1="700.8" x2="522.8" y2="694.3" stroke="#000" stroke-width="1.5"/>
<text x="526.2" y="729.7" font-size="30" text-anchor="end" transform="rotate(-12 526.2 729.7)">2021-02-01</text>
<text x="1.2" y="443.7" font-size="45">(b)</text>
<text x="129.1" y="443.8" font-size="44">×</text>
<text transform="translate(152.2 437.8) scale(1.1 1)" font-size="33">10</text>
<text transform="translate(187.2 425.8) scale(1.2 1)" font-size="23.3">2</text>
<text x="71.2" y="567" font-size="28" text-anchor="middle" transform="rotate(-90 71.2 567)">daily incidence of infection</text>
<text x="343.5" y="793" font-size="33" text-anchor="middle">date</text>
<text x="290.7" y="433.3" font-size="30" text-anchor="middle">12/8</text>
<text x="357.6" y="433.3" font-size="30" text-anchor="middle">12/24</text>
<text x="400.4" y="433.3" font-size="30">1/4</text>
</g>
<g id="panel-c">
<rect x="718.3" y="256.6" width="17.2" height="45.8" fill="#8fb08a" stroke="#000" stroke-width="1.5"/>
<rect x="739.8" y="236.9" width="17.2" height="65.5" fill="#8fb08a" stroke="#000" stroke-width="1.5"/>
<rect x="761.3" y="228.3" width="17.2" height="74.1" fill="#8fb08a" stroke="#000" stroke-width="1.5"/>
<rect x="782.7" y="190.1" width="17.2" height="112.3" fill="#8fb08a" stroke="#000" stroke-width="1.5"/>
<rect x="804.2" y="119.6" width="17.2" height="182.8" fill="#8fb08a" stroke="#000" stroke-width="1.5"/>
<rect x="825.7" y="103.2" width="17.2" height="199.2" fill="#8fb08a" stroke="#000" stroke-width="1.5"/>
<rect x="847.1" y="149" width="17.2" height="153.4" fill="#8fb08a" stroke="#000" stroke-width="1.5"/>
<rect x="868.6" y="129.9" width="17.2" height="172.5" fill="#8fb08a" stroke="#000" stroke-width="1.5"/>
<rect x="890.1" y="128.2" width="17.2" height="174.2" fill="#8fb08a" stroke="#000" stroke-width="1.5"/>
<rect x="911.5" y="84.1" width="17.2" height="218.3" fill="#8fb08a" stroke="#000" stroke-width="1.5"/>
<rect x="933" y="41.4" width="17.2" height="261" fill="#8fb08a" stroke="#000" stroke-width="1.5"/>
<rect x="954.5" y="27.8" width="17.2" height="274.6" fill="#8fb08a" stroke="#000" stroke-width="1.5"/>
<rect x="976" y="33.6" width="17.2" height="268.8" fill="#8fb08a" stroke="#000" stroke-width="1.5"/>
<rect x="997.4" y="110.7" width="17.2" height="191.7" fill="#8fb08a" stroke="#000" stroke-width="1.5"/>
<rect x="1018.9" y="171.5" width="17.2" height="130.9" fill="#8fb08a" stroke="#000" stroke-width="1.5"/>
<rect x="1040.4" y="204.2" width="17.2" height="98.2" fill="#8fb08a" stroke="#000" stroke-width="1.5"/>
<rect x="1061.8" y="228.9" width="17.2" height="73.5" fill="#8fb08a" stroke="#000" stroke-width="1.5"/>
<rect x="1083.3" y="226.4" width="17.2" height="76" fill="#8fb08a" stroke="#000" stroke-width="1.5"/>
<path d="M705.5 24.2L705.5 302.4L1114 302.4" fill="none" stroke="#000" stroke-width="1.5"/>
<line x1="705.5" y1="302.4" x2="712" y2="302.4" stroke="#000" stroke-width="1.5"/>
<text x="699.2" y="313.3" font-size="33" text-anchor="end">0.00</text>
<line x1="705.5" y1="191.4" x2="712" y2="191.4" stroke="#000" stroke-width="1.5"/>
<text x="699.2" y="202.3" font-size="33" text-anchor="end">0.04</text>
<line x1="705.5" y1="80.5" x2="712" y2="80.5" stroke="#000" stroke-width="1.5"/>
<text x="699.2" y="91.4" font-size="33" text-anchor="end">0.08</text>
<line x1="726.9" y1="302.4" x2="726.9" y2="295.9" stroke="#000" stroke-width="1.5"/>
<text x="730.3" y="332.9" font-size="32" text-anchor="end" transform="rotate(-12 730.3 332.9)">0-4</text>
<line x1="834.2" y1="302.4" x2="834.2" y2="295.9" stroke="#000" stroke-width="1.5"/>
<text x="837.6" y="332.9" font-size="32" text-anchor="end" transform="rotate(-12 837.6 332.9)">25-29</text>
<line x1="941.6" y1="302.4" x2="941.6" y2="295.9" stroke="#000" stroke-width="1.5"/>
<text x="945" y="332.9" font-size="32" text-anchor="end" transform="rotate(-12 945 332.9)">50-54</text>
<line x1="1048.9" y1="302.4" x2="1048.9" y2="295.9" stroke="#000" stroke-width="1.5"/>
<text x="1052.3" y="332.9" font-size="32" text-anchor="end" transform="rotate(-12 1052.3 332.9)">75-79</text>
<text x="585.5" y="38.6" font-size="45">(c)</text>
<text transform="translate(625.7 166.5) rotate(-90)" font-size="33" text-anchor="middle"><tspan font-style="italic">P</tspan>(<tspan font-style="italic">g</tspan><tspan font-style="italic" font-size="23" dy="12">a</tspan><tspan dy="-12">)</tspan></text>
<text x="894.9" y="371.5" font-size="29" font-style="italic">g<tspan font-size="21" dx="1.5" dy="12.5">a</tspan></text>
</g>
<g id="panel-d">
<rect x="721" y="653.6" width="17.2" height="55.2" fill="#f4967a" stroke="#000" stroke-width="1.5"/>
<rect x="742.5" y="610" width="17.2" height="98.8" fill="#f4967a" stroke="#000" stroke-width="1.5"/>
<rect x="764" y="597.6" width="17.2" height="111.2" fill="#f4967a" stroke="#000" stroke-width="1.5"/>
<rect x="785.5" y="568.7" width="17.2" height="140.1" fill="#f4967a" stroke="#000" stroke-width="1.5"/>
<rect x="807" y="506.9" width="17.2" height="201.9" fill="#f4967a" stroke="#000" stroke-width="1.5"/>
<rect x="828.5" y="495.8" width="17.2" height="213" fill="#f4967a" stroke="#000" stroke-width="1.5"/>
<rect x="850" y="550.4" width="17.2" height="158.4" fill="#f4967a" stroke="#000" stroke-width="1.5"/>
<rect x="871.5" y="531.5" width="17.2" height="177.3" fill="#f4967a" stroke="#000" stroke-width="1.5"/>
<rect x="893" y="511.8" width="17.2" height="197" fill="#f4967a" stroke="#000" stroke-width="1.5"/>
<rect x="914.5" y="483" width="17.2" height="225.8" fill="#f4967a" stroke="#000" stroke-width="1.5"/>
<rect x="936" y="458.6" width="17.2" height="250.2" fill="#f4967a" stroke="#000" stroke-width="1.5"/>
<rect x="957.5" y="462.5" width="17.2" height="246.3" fill="#f4967a" stroke="#000" stroke-width="1.5"/>
<rect x="979" y="475" width="17.2" height="233.8" fill="#f4967a" stroke="#000" stroke-width="1.5"/>
<rect x="1000.5" y="551.5" width="17.2" height="157.3" fill="#f4967a" stroke="#000" stroke-width="1.5"/>
<rect x="1022" y="597.6" width="17.2" height="111.2" fill="#f4967a" stroke="#000" stroke-width="1.5"/>
<rect x="1043.5" y="623.4" width="17.2" height="85.4" fill="#f4967a" stroke="#000" stroke-width="1.5"/>
<rect x="1065" y="648.6" width="17.2" height="60.2" fill="#f4967a" stroke="#000" stroke-width="1.5"/>
<rect x="1086.5" y="662.8" width="17.2" height="46" fill="#f4967a" stroke="#000" stroke-width="1.5"/>
<path d="M708 430.8L708 708.8L1117 708.8" fill="none" stroke="#000" stroke-width="1.5"/>
<line x1="708" y1="708.8" x2="714.5" y2="708.8" stroke="#000" stroke-width="1.5"/>
<text x="701.7" y="719.7" font-size="33" text-anchor="end">0.00</text>
<line x1="708" y1="597.8" x2="714.5" y2="597.8" stroke="#000" stroke-width="1.5"/>
<text x="701.7" y="608.7" font-size="33" text-anchor="end">0.04</text>
<line x1="708" y1="486.9" x2="714.5" y2="486.9" stroke="#000" stroke-width="1.5"/>
<text x="701.7" y="497.8" font-size="33" text-anchor="end">0.08</text>
<line x1="729.6" y1="708.8" x2="729.6" y2="702.3" stroke="#000" stroke-width="1.5"/>
<text x="733" y="739.3" font-size="32" text-anchor="end" transform="rotate(-12 733 739.3)">0-4</text>
<line x1="837.1" y1="708.8" x2="837.1" y2="702.3" stroke="#000" stroke-width="1.5"/>
<text x="840.5" y="739.3" font-size="32" text-anchor="end" transform="rotate(-12 840.5 739.3)">25-29</text>
<line x1="944.6" y1="708.8" x2="944.6" y2="702.3" stroke="#000" stroke-width="1.5"/>
<text x="948" y="739.3" font-size="32" text-anchor="end" transform="rotate(-12 948 739.3)">50-54</text>
<line x1="1052.1" y1="708.8" x2="1052.1" y2="702.3" stroke="#000" stroke-width="1.5"/>
<text x="1055.5" y="739.3" font-size="32" text-anchor="end" transform="rotate(-12 1055.5 739.3)">75-79</text>
<text x="585.5" y="443.3" font-size="45">(d)</text>
<text transform="translate(628.2 573.5) rotate(-90)" font-size="33" text-anchor="middle"><tspan font-style="italic">P</tspan>(<tspan font-style="italic">g</tspan><tspan font-style="italic" font-size="23" dy="12">a</tspan><tspan dy="-12">)</tspan></text>
<text x="897.7" y="777.8" font-size="29" font-style="italic">g<tspan font-size="21" dx="1.5" dy="12.5">a</tspan></text>
</g>
<g id="panel-e">
<rect x="1261.7" y="24.6" width="579.8" height="278.7" fill="#fcf3f1"/>
<defs><clipPath id="clipe"><rect x="1261.7" y="24.6" width="579.8" height="278.7"/></clipPath></defs>
<g clip-path="url(#clipe)"><g transform="translate(0 2.3)">
<path fill="#f1ede6" shape-rendering="crispEdges" d="M1261.7 287.8h2.3v15.5h-2.3zM1261.7 272.3h2.3v15.5h-2.3zM1261.7 40.1h2.3v15.5h-2.3zM1261.7 24.6h2.3v15.5h-2.3zM1266.3 287.8h2.3v15.5h-2.3zM1266.3 24.6h2.3v15.5h-2.3zM1277.9 287.8h2.3v15.5h-2.3zM1277.9 272.3h2.3v15.5h-2.3zM1277.9 24.6h2.3v15.5h-2.3zM1317.4 241.4h2.3v15.5h-2.3zM1317.4 225.9h2.3v15.5h-2.3zM1317.4 194.9h2.3v15.5h-2.3zM1317.4 179.4h2.3v15.5h-2.3zM1317.4 55.6h2.3v15.5h-2.3zM1319.7 117.5h2.3v15.5h-2.3zM1322 210.4h2.3v15.5h-2.3zM1322 194.9h2.3v15.5h-2.3zM1322 179.4h2.3v15.5h-2.3zM1322 164h2.3v15.5h-2.3zM1322 148.5h2.3v15.5h-2.3zM1322 133h2.3v15.5h-2.3zM1322 117.5h2.3v15.5h-2.3zM1322 102h2.3v15.5h-2.3zM1322 86.5h2.3v15.5h-2.3zM1322 71.1h2.3v15.5h-2.3zM1324.3 164h2.3v15.5h-2.3zM1324.3 133h2.3v15.5h-2.3zM1324.3 117.5h2.3v15.5h-2.3zM1324.3 102h2.3v15.5h-2.3zM1326.6 133h2.3v15.5h-2.3zM1326.6 117.5h2.3v15.5h-2.3zM1326.6 102h2.3v15.5h-2.3zM1329 164h2.3v15.5h-2.3zM1329 148.5h2.3v15.5h-2.3zM1329 133h2.3v15.5h-2.3zM1329 117.5h2.3v15.5h-2.3zM1329 102h2.3v15.5h-2.3zM1329 86.5h2.3v15.5h-2.3zM1331.3 210.4h2.3v15.5h-2.3zM1331.3 194.9h2.3v15.5h-2.3zM1331.3 179.4h2.3v15.5h-2.3zM1331.3 86.5h2.3v15.5h-2.3zM1331.3 71.1h2.3v15.5h-2.3zM1333.6 210.4h2.3v15.5h-2.3zM1333.6 194.9h2.3v15.5h-2.3zM1333.6 179.4h2.3v15.5h-2.3zM1333.6 164h2.3v15.5h-2.3zM1333.6 148.5h2.3v15.5h-2.3zM1333.6 86.5h2.3v15.5h-2.3zM1333.6 71.1h2.3v15.5h-2.3zM1335.9 164h2.3v15.5h-2.3zM1335.9 148.5h2.3v15.5h-2.3zM1335.9 133h2.3v15.5h-2.3zM1335.9 117.5h2.3v15.5h-2.3zM1335.9 102h2.3v15.5h-2.3zM1335.9 86.5h2.3v15.5h-2.3zM1338.2 148.5h2.3v15.5h-2.3zM1338.2 133h2.3v15.5h-2.3zM1338.2 102h2.3v15.5h-2.3zM1340.6 179.4h2.3v15.5h-2.3zM1340.6 164h2.3v15.5h-2.3zM1340.6 148.5h2.3v15.5h-2.3zM1340.6 133h2.3v15.5h-2.3zM1340.6 117.5h2.3v15.5h-2.3zM1340.6 102h2.3v15.5h-2.3zM1340.6 86.5h2.3v15.5h-2.3zM1342.9 133h2.3v15.5h-2.3zM1342.9 102h2.3v15.5h-2.3zM1345.2 210.4h2.3v15.5h-2.3zM1345.2 194.9h2.3v15.5h-2.3zM1345.2 179.4h2.3v15.5h-2.3zM1345.2 164h2.3v15.5h-2.3zM1345.2 148.5h2.3v15.5h-2.3zM1345.2 86.5h2.3v15.5h-2.3zM1345.2 71.1h2.3v15.5h-2.3zM1347.5 225.9h2.3v15.5h-2.3zM1347.5 210.4h2.3v15.5h-2.3zM1347.5 194.9h2.3v15.5h-2.3zM1347.5 71.1h2.3v15.5h-2.3zM1347.5 55.6h2.3v15.5h-2.3zM1349.8 179.4h2.3v15.5h-2.3zM1349.8 164h2.3v15.5h-2.3zM1349.8 148.5h2.3v15.5h-2.3zM1349.8 133h2.3v15.5h-2.3zM1349.8 117.5h2.3v15.5h-2.3zM1349.8 102h2.3v15.5h-2.3zM1349.8 86.5h2.3v15.5h-2.3zM1354.5 133h2.3v15.5h-2.3zM1354.5 117.5h2.3v15.5h-2.3zM1373 225.9h2.3v15.5h-2.3zM1373 210.4h2.3v15.5h-2.3zM1373 194.9h2.3v15.5h-2.3zM1373 71.1h2.3v15.5h-2.3zM1373 55.6h2.3v15.5h-2.3zM1375.3 287.8h2.3v15.5h-2.3zM1375.3 272.3h2.3v15.5h-2.3zM1375.3 256.9h2.3v15.5h-2.3zM1375.3 241.4h2.3v15.5h-2.3zM1375.3 55.6h2.3v15.5h-2.3zM1375.3 40.1h2.3v15.5h-2.3zM1375.3 24.6h2.3v15.5h-2.3zM1377.7 287.8h2.3v15.5h-2.3zM1377.7 272.3h2.3v15.5h-2.3zM1377.7 40.1h2.3v15.5h-2.3zM1377.7 24.6h2.3v15.5h-2.3zM1380 225.9h2.3v15.5h-2.3zM1380 210.4h2.3v15.5h-2.3zM1380 194.9h2.3v15.5h-2.3zM1380 71.1h2.3v15.5h-2.3zM1380 55.6h2.3v15.5h-2.3zM1386.9 225.9h2.3v15.5h-2.3zM1386.9 210.4h2.3v15.5h-2.3zM1386.9 194.9h2.3v15.5h-2.3zM1386.9 71.1h2.3v15.5h-2.3zM1386.9 55.6h2.3v15.5h-2.3zM1391.6 241.4h2.3v15.5h-2.3zM1391.6 225.9h2.3v15.5h-2.3zM1391.6 210.4h2.3v15.5h-2.3zM1391.6 55.6h2.3v15.5h-2.3zM1393.9 287.8h2.3v15.5h-2.3zM1393.9 272.3h2.3v15.5h-2.3zM1393.9 40.1h2.3v15.5h-2.3zM1393.9 24.6h2.3v15.5h-2.3zM1396.2 241.4h2.3v15.5h-2.3zM1396.2 225.9h2.3v15.5h-2.3zM1396.2 210.4h2.3v15.5h-2.3zM1396.2 194.9h2.3v15.5h-2.3zM1396.2 71.1h2.3v15.5h-2.3zM1398.5 287.8h2.3v15.5h-2.3zM1398.5 272.3h2.3v15.5h-2.3zM1398.5 40.1h2.3v15.5h-2.3zM1398.5 24.6h2.3v15.5h-2.3zM1400.9 241.4h2.3v15.5h-2.3zM1400.9 225.9h2.3v15.5h-2.3zM1400.9 210.4h2.3v15.5h-2.3zM1400.9 71.1h2.3v15.5h-2.3zM1400.9 55.6h2.3v15.5h-2.3zM1403.2 210.4h2.3v15.5h-2.3zM1403.2 194.9h2.3v15.5h-2.3zM1403.2 179.4h2.3v15.5h-2.3zM1403.2 164h2.3v15.5h-2.3zM1403.2 148.5h2.3v15.5h-2.3zM1403.2 117.5h2.3v15.5h-2.3zM1403.2 86.5h2.3v15.5h-2.3zM1403.2 71.1h2.3v15.5h-2.3zM1405.5 210.4h2.3v15.5h-2.3zM1405.5 194.9h2.3v15.5h-2.3zM1405.5 179.4h2.3v15.5h-2.3zM1405.5 71.1h2.3v15.5h-2.3zM1407.8 241.4h2.3v15.5h-2.3zM1407.8 225.9h2.3v15.5h-2.3zM1407.8 194.9h2.3v15.5h-2.3zM1407.8 71.1h2.3v15.5h-2.3zM1407.8 55.6h2.3v15.5h-2.3zM1412.4 194.9h2.3v15.5h-2.3zM1412.4 179.4h2.3v15.5h-2.3zM1412.4 164h2.3v15.5h-2.3zM1412.4 148.5h2.3v15.5h-2.3zM1412.4 117.5h2.3v15.5h-2.3zM1412.4 102h2.3v15.5h-2.3zM1412.4 86.5h2.3v15.5h-2.3zM1414.8 164h2.3v15.5h-2.3zM1414.8 148.5h2.3v15.5h-2.3zM1414.8 117.5h2.3v15.5h-2.3zM1414.8 102h2.3v15.5h-2.3zM1414.8 86.5h2.3v15.5h-2.3zM1417.1 272.3h2.3v15.5h-2.3zM1417.1 256.9h2.3v15.5h-2.3zM1417.1 241.4h2.3v15.5h-2.3zM1417.1 55.6h2.3v15.5h-2.3zM1417.1 40.1h2.3v15.5h-2.3zM1417.1 24.6h2.3v15.5h-2.3zM1419.4 287.8h2.3v15.5h-2.3zM1419.4 272.3h2.3v15.5h-2.3zM1419.4 256.9h2.3v15.5h-2.3zM1419.4 40.1h2.3v15.5h-2.3zM1419.4 24.6h2.3v15.5h-2.3zM1421.7 179.4h2.3v15.5h-2.3zM1421.7 164h2.3v15.5h-2.3zM1421.7 148.5h2.3v15.5h-2.3zM1421.7 133h2.3v15.5h-2.3zM1421.7 117.5h2.3v15.5h-2.3zM1421.7 102h2.3v15.5h-2.3zM1421.7 86.5h2.3v15.5h-2.3zM1424 272.3h2.3v15.5h-2.3zM1424 256.9h2.3v15.5h-2.3zM1424 241.4h2.3v15.5h-2.3zM1424 40.1h2.3v15.5h-2.3zM1424 24.6h2.3v15.5h-2.3zM1426.4 272.3h2.3v15.5h-2.3zM1426.4 256.9h2.3v15.5h-2.3zM1426.4 241.4h2.3v15.5h-2.3zM1426.4 55.6h2.3v15.5h-2.3zM1426.4 40.1h2.3v15.5h-2.3zM1428.7 133h2.3v15.5h-2.3zM1428.7 117.5h2.3v15.5h-2.3zM1428.7 102h2.3v15.5h-2.3zM1431 194.9h2.3v15.5h-2.3zM1431 179.4h2.3v15.5h-2.3zM1431 164h2.3v15.5h-2.3zM1431 148.5h2.3v15.5h-2.3zM1431 86.5h2.3v15.5h-2.3zM1431 71.1h2.3v15.5h-2.3zM1435.6 287.8h2.3v15.5h-2.3zM1435.6 24.6h2.3v15.5h-2.3zM1438 287.8h2.3v15.5h-2.3zM1438 272.3h2.3v15.5h-2.3zM1438 256.9h2.3v15.5h-2.3zM1438 40.1h2.3v15.5h-2.3zM1438 24.6h2.3v15.5h-2.3zM1442.6 287.8h2.3v15.5h-2.3zM1449.6 272.3h2.3v15.5h-2.3zM1449.6 256.9h2.3v15.5h-2.3zM1449.6 241.4h2.3v15.5h-2.3zM1449.6 225.9h2.3v15.5h-2.3zM1449.6 55.6h2.3v15.5h-2.3zM1451.9 179.4h2.3v15.5h-2.3zM1451.9 164h2.3v15.5h-2.3zM1451.9 148.5h2.3v15.5h-2.3zM1451.9 133h2.3v15.5h-2.3zM1451.9 117.5h2.3v15.5h-2.3zM1451.9 102h2.3v15.5h-2.3zM1451.9 86.5h2.3v15.5h-2.3zM1458.8 179.4h2.3v15.5h-2.3zM1458.8 164h2.3v15.5h-2.3zM1458.8 148.5h2.3v15.5h-2.3zM1458.8 133h2.3v15.5h-2.3zM1458.8 117.5h2.3v15.5h-2.3zM1458.8 102h2.3v15.5h-2.3zM1458.8 86.5h2.3v15.5h-2.3zM1461.2 287.8h2.3v15.5h-2.3zM1461.2 24.6h2.3v15.5h-2.3zM1463.5 148.5h2.3v15.5h-2.3zM1463.5 133h2.3v15.5h-2.3zM1463.5 117.5h2.3v15.5h-2.3zM1463.5 102h2.3v15.5h-2.3zM1463.5 86.5h2.3v15.5h-2.3zM1465.8 164h2.3v15.5h-2.3zM1465.8 148.5h2.3v15.5h-2.3zM1465.8 133h2.3v15.5h-2.3zM1465.8 117.5h2.3v15.5h-2.3zM1465.8 102h2.3v15.5h-2.3zM1465.8 86.5h2.3v15.5h-2.3zM1472.7 179.4h2.3v15.5h-2.3zM1472.7 164h2.3v15.5h-2.3zM1472.7 148.5h2.3v15.5h-2.3zM1472.7 133h2.3v15.5h-2.3zM1472.7 117.5h2.3v15.5h-2.3zM1472.7 102h2.3v15.5h-2.3zM1472.7 86.5h2.3v15.5h-2.3zM1475.1 148.5h2.3v15.5h-2.3zM1475.1 133h2.3v15.5h-2.3zM1475.1 117.5h2.3v15.5h-2.3zM1475.1 102h2.3v15.5h-2.3zM1475.1 86.5h2.3v15.5h-2.3zM1477.4 287.8h2.3v15.5h-2.3zM1484.3 287.8h2.3v15.5h-2.3zM1484.3 272.3h2.3v15.5h-2.3zM1484.3 256.9h2.3v15.5h-2.3zM1484.3 40.1h2.3v15.5h-2.3zM1484.3 24.6h2.3v15.5h-2.3zM1486.7 287.8h2.3v15.5h-2.3zM1491.3 287.8h2.3v15.5h-2.3zM1491.3 272.3h2.3v15.5h-2.3zM1491.3 256.9h2.3v15.5h-2.3zM1491.3 241.4h2.3v15.5h-2.3zM1491.3 55.6h2.3v15.5h-2.3zM1491.3 40.1h2.3v15.5h-2.3zM1491.3 24.6h2.3v15.5h-2.3zM1493.6 287.8h2.3v15.5h-2.3zM1493.6 40.1h2.3v15.5h-2.3zM1493.6 24.6h2.3v15.5h-2.3zM1495.9 179.4h2.3v15.5h-2.3zM1495.9 164h2.3v15.5h-2.3zM1495.9 148.5h2.3v15.5h-2.3zM1495.9 133h2.3v15.5h-2.3zM1495.9 117.5h2.3v15.5h-2.3zM1495.9 102h2.3v15.5h-2.3zM1495.9 86.5h2.3v15.5h-2.3zM1498.3 287.8h2.3v15.5h-2.3zM1498.3 40.1h2.3v15.5h-2.3zM1498.3 24.6h2.3v15.5h-2.3zM1505.2 164h2.3v15.5h-2.3zM1505.2 148.5h2.3v15.5h-2.3zM1505.2 133h2.3v15.5h-2.3zM1505.2 117.5h2.3v15.5h-2.3zM1505.2 102h2.3v15.5h-2.3zM1505.2 86.5h2.3v15.5h-2.3zM1507.5 287.8h2.3v15.5h-2.3zM1507.5 272.3h2.3v15.5h-2.3zM1507.5 40.1h2.3v15.5h-2.3zM1507.5 24.6h2.3v15.5h-2.3zM1516.8 210.4h2.3v15.5h-2.3zM1516.8 194.9h2.3v15.5h-2.3zM1516.8 179.4h2.3v15.5h-2.3zM1516.8 164h2.3v15.5h-2.3zM1516.8 148.5h2.3v15.5h-2.3zM1516.8 86.5h2.3v15.5h-2.3zM1516.8 71.1h2.3v15.5h-2.3zM1519.1 210.4h2.3v15.5h-2.3zM1519.1 194.9h2.3v15.5h-2.3zM1519.1 179.4h2.3v15.5h-2.3zM1519.1 164h2.3v15.5h-2.3zM1519.1 148.5h2.3v15.5h-2.3zM1519.1 86.5h2.3v15.5h-2.3zM1519.1 71.1h2.3v15.5h-2.3zM1521.5 194.9h2.3v15.5h-2.3zM1521.5 179.4h2.3v15.5h-2.3zM1521.5 164h2.3v15.5h-2.3zM1521.5 148.5h2.3v15.5h-2.3zM1521.5 117.5h2.3v15.5h-2.3zM1521.5 86.5h2.3v15.5h-2.3zM1521.5 71.1h2.3v15.5h-2.3zM1523.8 210.4h2.3v15.5h-2.3zM1523.8 194.9h2.3v15.5h-2.3zM1523.8 179.4h2.3v15.5h-2.3zM1523.8 164h2.3v15.5h-2.3zM1523.8 86.5h2.3v15.5h-2.3zM1523.8 71.1h2.3v15.5h-2.3zM1526.1 179.4h2.3v15.5h-2.3zM1526.1 164h2.3v15.5h-2.3zM1526.1 148.5h2.3v15.5h-2.3zM1526.1 133h2.3v15.5h-2.3zM1526.1 117.5h2.3v15.5h-2.3zM1526.1 102h2.3v15.5h-2.3zM1526.1 86.5h2.3v15.5h-2.3zM1528.4 225.9h2.3v15.5h-2.3zM1528.4 210.4h2.3v15.5h-2.3zM1528.4 194.9h2.3v15.5h-2.3zM1528.4 179.4h2.3v15.5h-2.3zM1528.4 71.1h2.3v15.5h-2.3zM1530.7 287.8h2.3v15.5h-2.3zM1530.7 272.3h2.3v15.5h-2.3zM1530.7 40.1h2.3v15.5h-2.3zM1530.7 24.6h2.3v15.5h-2.3zM1533 210.4h2.3v15.5h-2.3zM1533 194.9h2.3v15.5h-2.3zM1533 179.4h2.3v15.5h-2.3zM1533 164h2.3v15.5h-2.3zM1533 71.1h2.3v15.5h-2.3zM1551.6 117.5h2.3v15.5h-2.3zM1551.6 102h2.3v15.5h-2.3zM1560.9 225.9h2.3v15.5h-2.3zM1560.9 210.4h2.3v15.5h-2.3zM1560.9 194.9h2.3v15.5h-2.3zM1560.9 179.4h2.3v15.5h-2.3zM1560.9 164h2.3v15.5h-2.3zM1560.9 148.5h2.3v15.5h-2.3zM1560.9 133h2.3v15.5h-2.3zM1560.9 117.5h2.3v15.5h-2.3zM1560.9 102h2.3v15.5h-2.3zM1560.9 86.5h2.3v15.5h-2.3zM1570.2 287.8h2.3v15.5h-2.3zM1570.2 272.3h2.3v15.5h-2.3zM1570.2 40.1h2.3v15.5h-2.3zM1570.2 24.6h2.3v15.5h-2.3zM1572.5 272.3h2.3v15.5h-2.3zM1572.5 256.9h2.3v15.5h-2.3zM1572.5 241.4h2.3v15.5h-2.3zM1572.5 55.6h2.3v15.5h-2.3zM1572.5 40.1h2.3v15.5h-2.3zM1572.5 24.6h2.3v15.5h-2.3zM1579.4 287.8h2.3v15.5h-2.3zM1579.4 272.3h2.3v15.5h-2.3zM1579.4 256.9h2.3v15.5h-2.3zM1579.4 40.1h2.3v15.5h-2.3zM1579.4 24.6h2.3v15.5h-2.3zM1586.4 133h2.3v15.5h-2.3zM1593.3 287.8h2.3v15.5h-2.3zM1593.3 272.3h2.3v15.5h-2.3zM1593.3 40.1h2.3v15.5h-2.3zM1593.3 24.6h2.3v15.5h-2.3zM1595.7 287.8h2.3v15.5h-2.3zM1595.7 272.3h2.3v15.5h-2.3zM1595.7 256.9h2.3v15.5h-2.3zM1595.7 40.1h2.3v15.5h-2.3zM1595.7 24.6h2.3v15.5h-2.3zM1598 287.8h2.3v15.5h-2.3zM1598 272.3h2.3v15.5h-2.3zM1598 256.9h2.3v15.5h-2.3zM1598 40.1h2.3v15.5h-2.3zM1598 24.6h2.3v15.5h-2.3zM1600.3 148.5h2.3v15.5h-2.3zM1600.3 133h2.3v15.5h-2.3zM1602.6 272.3h2.3v15.5h-2.3zM1602.6 256.9h2.3v15.5h-2.3zM1602.6 241.4h2.3v15.5h-2.3zM1602.6 40.1h2.3v15.5h-2.3zM1602.6 24.6h2.3v15.5h-2.3zM1618.9 133h2.3v15.5h-2.3zM1618.9 117.5h2.3v15.5h-2.3zM1618.9 102h2.3v15.5h-2.3zM1618.9 86.5h2.3v15.5h-2.3zM1623.5 148.5h2.3v15.5h-2.3zM1623.5 133h2.3v15.5h-2.3zM1623.5 117.5h2.3v15.5h-2.3zM1623.5 102h2.3v15.5h-2.3zM1632.8 225.9h2.3v15.5h-2.3zM1632.8 179.4h2.3v15.5h-2.3zM1632.8 164h2.3v15.5h-2.3zM1632.8 133h2.3v15.5h-2.3zM1632.8 117.5h2.3v15.5h-2.3zM1632.8 102h2.3v15.5h-2.3zM1632.8 86.5h2.3v15.5h-2.3zM1637.4 287.8h2.3v15.5h-2.3zM1637.4 272.3h2.3v15.5h-2.3zM1637.4 256.9h2.3v15.5h-2.3zM1637.4 40.1h2.3v15.5h-2.3zM1637.4 24.6h2.3v15.5h-2.3zM1642 287.8h2.3v15.5h-2.3zM1642 272.3h2.3v15.5h-2.3zM1642 256.9h2.3v15.5h-2.3zM1642 40.1h2.3v15.5h-2.3zM1644.4 256.9h2.3v15.5h-2.3zM1644.4 241.4h2.3v15.5h-2.3zM1644.4 55.6h2.3v15.5h-2.3zM1644.4 40.1h2.3v15.5h-2.3zM1644.4 24.6h2.3v15.5h-2.3zM1646.7 117.5h2.3v15.5h-2.3zM1646.7 102h2.3v15.5h-2.3zM1649 225.9h2.3v15.5h-2.3zM1649 164h2.3v15.5h-2.3zM1649 148.5h2.3v15.5h-2.3zM1649 133h2.3v15.5h-2.3zM1649 117.5h2.3v15.5h-2.3zM1649 102h2.3v15.5h-2.3zM1656 148.5h2.3v15.5h-2.3zM1656 133h2.3v15.5h-2.3zM1656 117.5h2.3v15.5h-2.3zM1660.6 133h2.3v15.5h-2.3zM1660.6 117.5h2.3v15.5h-2.3zM1660.6 102h2.3v15.5h-2.3zM1669.9 148.5h2.3v15.5h-2.3zM1669.9 117.5h2.3v15.5h-2.3zM1669.9 102h2.3v15.5h-2.3zM1683.8 225.9h2.3v15.5h-2.3zM1683.8 210.4h2.3v15.5h-2.3zM1683.8 194.9h2.3v15.5h-2.3zM1683.8 164h2.3v15.5h-2.3zM1683.8 148.5h2.3v15.5h-2.3zM1683.8 133h2.3v15.5h-2.3zM1683.8 117.5h2.3v15.5h-2.3zM1683.8 102h2.3v15.5h-2.3zM1690.8 225.9h2.3v15.5h-2.3zM1690.8 210.4h2.3v15.5h-2.3zM1690.8 179.4h2.3v15.5h-2.3zM1690.8 164h2.3v15.5h-2.3zM1690.8 148.5h2.3v15.5h-2.3zM1690.8 133h2.3v15.5h-2.3zM1690.8 117.5h2.3v15.5h-2.3zM1690.8 102h2.3v15.5h-2.3zM1690.8 86.5h2.3v15.5h-2.3zM1690.8 71.1h2.3v15.5h-2.3zM1693.1 225.9h2.3v15.5h-2.3zM1693.1 194.9h2.3v15.5h-2.3zM1693.1 164h2.3v15.5h-2.3zM1693.1 133h2.3v15.5h-2.3zM1693.1 117.5h2.3v15.5h-2.3zM1693.1 102h2.3v15.5h-2.3zM1693.1 86.5h2.3v15.5h-2.3zM1695.4 225.9h2.3v15.5h-2.3zM1695.4 210.4h2.3v15.5h-2.3zM1695.4 194.9h2.3v15.5h-2.3zM1695.4 179.4h2.3v15.5h-2.3zM1695.4 164h2.3v15.5h-2.3zM1695.4 148.5h2.3v15.5h-2.3zM1695.4 133h2.3v15.5h-2.3zM1695.4 117.5h2.3v15.5h-2.3zM1695.4 102h2.3v15.5h-2.3zM1695.4 86.5h2.3v15.5h-2.3zM1700 225.9h2.3v15.5h-2.3zM1700 210.4h2.3v15.5h-2.3zM1700 194.9h2.3v15.5h-2.3zM1700 179.4h2.3v15.5h-2.3zM1700 148.5h2.3v15.5h-2.3zM1700 133h2.3v15.5h-2.3zM1700 117.5h2.3v15.5h-2.3zM1700 102h2.3v15.5h-2.3zM1700 86.5h2.3v15.5h-2.3zM1702.3 225.9h2.3v15.5h-2.3zM1702.3 210.4h2.3v15.5h-2.3zM1702.3 179.4h2.3v15.5h-2.3zM1702.3 164h2.3v15.5h-2.3zM1702.3 148.5h2.3v15.5h-2.3zM1702.3 133h2.3v15.5h-2.3zM1702.3 117.5h2.3v15.5h-2.3zM1702.3 102h2.3v15.5h-2.3zM1702.3 86.5h2.3v15.5h-2.3zM1707 133h2.3v15.5h-2.3zM1707 102h2.3v15.5h-2.3zM1709.3 148.5h2.3v15.5h-2.3zM1709.3 133h2.3v15.5h-2.3zM1709.3 117.5h2.3v15.5h-2.3zM1709.3 102h2.3v15.5h-2.3zM1725.5 256.9h2.3v15.5h-2.3zM1725.5 241.4h2.3v15.5h-2.3zM1725.5 71.1h2.3v15.5h-2.3zM1725.5 55.6h2.3v15.5h-2.3zM1725.5 24.6h2.3v15.5h-2.3zM1727.9 287.8h2.3v15.5h-2.3zM1727.9 272.3h2.3v15.5h-2.3zM1727.9 256.9h2.3v15.5h-2.3zM1727.9 55.6h2.3v15.5h-2.3zM1727.9 40.1h2.3v15.5h-2.3zM1727.9 24.6h2.3v15.5h-2.3zM1730.2 287.8h2.3v15.5h-2.3zM1730.2 272.3h2.3v15.5h-2.3zM1730.2 256.9h2.3v15.5h-2.3zM1730.2 40.1h2.3v15.5h-2.3zM1730.2 24.6h2.3v15.5h-2.3zM1732.5 272.3h2.3v15.5h-2.3zM1732.5 256.9h2.3v15.5h-2.3zM1732.5 241.4h2.3v15.5h-2.3zM1732.5 55.6h2.3v15.5h-2.3zM1732.5 40.1h2.3v15.5h-2.3zM1732.5 24.6h2.3v15.5h-2.3zM1734.8 272.3h2.3v15.5h-2.3zM1734.8 256.9h2.3v15.5h-2.3zM1734.8 241.4h2.3v15.5h-2.3zM1734.8 55.6h2.3v15.5h-2.3zM1734.8 40.1h2.3v15.5h-2.3zM1734.8 24.6h2.3v15.5h-2.3zM1737.1 272.3h2.3v15.5h-2.3zM1737.1 256.9h2.3v15.5h-2.3zM1737.1 55.6h2.3v15.5h-2.3zM1737.1 40.1h2.3v15.5h-2.3zM1737.1 24.6h2.3v15.5h-2.3zM1739.5 225.9h2.3v15.5h-2.3zM1739.5 164h2.3v15.5h-2.3zM1739.5 148.5h2.3v15.5h-2.3zM1739.5 133h2.3v15.5h-2.3zM1739.5 117.5h2.3v15.5h-2.3zM1739.5 102h2.3v15.5h-2.3zM1739.5 86.5h2.3v15.5h-2.3zM1741.8 225.9h2.3v15.5h-2.3zM1741.8 164h2.3v15.5h-2.3zM1741.8 133h2.3v15.5h-2.3zM1741.8 117.5h2.3v15.5h-2.3zM1741.8 102h2.3v15.5h-2.3zM1741.8 86.5h2.3v15.5h-2.3zM1744.1 225.9h2.3v15.5h-2.3zM1744.1 210.4h2.3v15.5h-2.3zM1744.1 164h2.3v15.5h-2.3zM1744.1 148.5h2.3v15.5h-2.3zM1744.1 133h2.3v15.5h-2.3zM1744.1 117.5h2.3v15.5h-2.3zM1744.1 102h2.3v15.5h-2.3zM1744.1 86.5h2.3v15.5h-2.3zM1765 225.9h2.3v15.5h-2.3zM1765 210.4h2.3v15.5h-2.3zM1765 179.4h2.3v15.5h-2.3zM1765 164h2.3v15.5h-2.3zM1765 148.5h2.3v15.5h-2.3zM1765 133h2.3v15.5h-2.3zM1765 117.5h2.3v15.5h-2.3zM1765 102h2.3v15.5h-2.3zM1765 86.5h2.3v15.5h-2.3zM1767.3 256.9h2.3v15.5h-2.3zM1767.3 241.4h2.3v15.5h-2.3zM1767.3 55.6h2.3v15.5h-2.3zM1767.3 40.1h2.3v15.5h-2.3zM1767.3 24.6h2.3v15.5h-2.3zM1774.2 225.9h2.3v15.5h-2.3zM1774.2 164h2.3v15.5h-2.3zM1774.2 133h2.3v15.5h-2.3zM1774.2 117.5h2.3v15.5h-2.3zM1774.2 102h2.3v15.5h-2.3zM1774.2 86.5h2.3v15.5h-2.3zM1778.9 225.9h2.3v15.5h-2.3zM1778.9 210.4h2.3v15.5h-2.3zM1778.9 194.9h2.3v15.5h-2.3zM1778.9 179.4h2.3v15.5h-2.3zM1778.9 164h2.3v15.5h-2.3zM1778.9 148.5h2.3v15.5h-2.3zM1778.9 133h2.3v15.5h-2.3zM1778.9 117.5h2.3v15.5h-2.3zM1778.9 102h2.3v15.5h-2.3zM1778.9 86.5h2.3v15.5h-2.3zM1778.9 71.1h2.3v15.5h-2.3zM1781.2 225.9h2.3v15.5h-2.3zM1781.2 210.4h2.3v15.5h-2.3zM1781.2 194.9h2.3v15.5h-2.3zM1781.2 179.4h2.3v15.5h-2.3zM1781.2 164h2.3v15.5h-2.3zM1781.2 148.5h2.3v15.5h-2.3zM1781.2 133h2.3v15.5h-2.3zM1781.2 102h2.3v15.5h-2.3zM1781.2 86.5h2.3v15.5h-2.3zM1781.2 71.1h2.3v15.5h-2.3zM1783.5 225.9h2.3v15.5h-2.3zM1783.5 210.4h2.3v15.5h-2.3zM1783.5 194.9h2.3v15.5h-2.3zM1783.5 179.4h2.3v15.5h-2.3zM1783.5 164h2.3v15.5h-2.3zM1783.5 148.5h2.3v15.5h-2.3zM1783.5 133h2.3v15.5h-2.3zM1783.5 117.5h2.3v15.5h-2.3zM1783.5 102h2.3v15.5h-2.3zM1783.5 86.5h2.3v15.5h-2.3zM1783.5 71.1h2.3v15.5h-2.3zM1785.8 256.9h2.3v15.5h-2.3zM1785.8 241.4h2.3v15.5h-2.3zM1785.8 55.6h2.3v15.5h-2.3zM1788.2 225.9h2.3v15.5h-2.3zM1788.2 210.4h2.3v15.5h-2.3zM1788.2 194.9h2.3v15.5h-2.3zM1788.2 179.4h2.3v15.5h-2.3zM1788.2 164h2.3v15.5h-2.3zM1788.2 148.5h2.3v15.5h-2.3zM1788.2 86.5h2.3v15.5h-2.3zM1788.2 71.1h2.3v15.5h-2.3zM1790.5 225.9h2.3v15.5h-2.3zM1790.5 210.4h2.3v15.5h-2.3zM1790.5 194.9h2.3v15.5h-2.3zM1790.5 179.4h2.3v15.5h-2.3zM1790.5 164h2.3v15.5h-2.3zM1790.5 148.5h2.3v15.5h-2.3zM1790.5 133h2.3v15.5h-2.3zM1790.5 117.5h2.3v15.5h-2.3zM1790.5 102h2.3v15.5h-2.3zM1790.5 86.5h2.3v15.5h-2.3zM1792.8 272.3h2.3v15.5h-2.3zM1792.8 256.9h2.3v15.5h-2.3zM1792.8 241.4h2.3v15.5h-2.3zM1792.8 55.6h2.3v15.5h-2.3zM1792.8 40.1h2.3v15.5h-2.3zM1792.8 24.6h2.3v15.5h-2.3zM1795.1 287.8h2.3v15.5h-2.3zM1795.1 272.3h2.3v15.5h-2.3zM1795.1 256.9h2.3v15.5h-2.3zM1795.1 40.1h2.3v15.5h-2.3zM1795.1 24.6h2.3v15.5h-2.3zM1797.4 225.9h2.3v15.5h-2.3zM1797.4 210.4h2.3v15.5h-2.3zM1797.4 194.9h2.3v15.5h-2.3zM1797.4 179.4h2.3v15.5h-2.3zM1797.4 164h2.3v15.5h-2.3zM1797.4 148.5h2.3v15.5h-2.3zM1797.4 117.5h2.3v15.5h-2.3zM1797.4 86.5h2.3v15.5h-2.3zM1797.4 71.1h2.3v15.5h-2.3zM1799.8 256.9h2.3v15.5h-2.3zM1799.8 241.4h2.3v15.5h-2.3zM1799.8 55.6h2.3v15.5h-2.3zM1799.8 40.1h2.3v15.5h-2.3zM1799.8 24.6h2.3v15.5h-2.3zM1806.7 225.9h2.3v15.5h-2.3zM1806.7 164h2.3v15.5h-2.3zM1806.7 133h2.3v15.5h-2.3zM1806.7 117.5h2.3v15.5h-2.3zM1806.7 102h2.3v15.5h-2.3zM1806.7 86.5h2.3v15.5h-2.3zM1836.9 225.9h2.3v15.5h-2.3zM1836.9 210.4h2.3v15.5h-2.3zM1836.9 194.9h2.3v15.5h-2.3zM1836.9 179.4h2.3v15.5h-2.3zM1836.9 164h2.3v15.5h-2.3zM1836.9 148.5h2.3v15.5h-2.3zM1836.9 133h2.3v15.5h-2.3zM1836.9 117.5h2.3v15.5h-2.3zM1836.9 102h2.3v15.5h-2.3zM1836.9 86.5h2.3v15.5h-2.3zM1839.2 210.4h2.3v15.5h-2.3zM1839.2 179.4h2.3v15.5h-2.3zM1839.2 148.5h2.3v15.5h-2.3zM1839.2 133h2.3v15.5h-2.3zM1839.2 117.5h2.3v15.5h-2.3zM1839.2 102h2.3v15.5h-2.3z"/>
<path fill="#ebe9e1" shape-rendering="crispEdges" d="M1261.7 256.9h2.3v15.5h-2.3zM1261.7 241.4h2.3v15.5h-2.3zM1261.7 55.6h2.3v15.5h-2.3zM1264 287.8h2.3v15.5h-2.3zM1264 24.6h2.3v15.5h-2.3zM1266.3 272.3h2.3v15.5h-2.3zM1266.3 256.9h2.3v15.5h-2.3zM1266.3 241.4h2.3v15.5h-2.3zM1266.3 55.6h2.3v15.5h-2.3zM1266.3 40.1h2.3v15.5h-2.3zM1268.7 287.8h2.3v15.5h-2.3zM1268.7 272.3h2.3v15.5h-2.3zM1268.7 256.9h2.3v15.5h-2.3zM1268.7 241.4h2.3v15.5h-2.3zM1268.7 40.1h2.3v15.5h-2.3zM1268.7 24.6h2.3v15.5h-2.3zM1275.6 287.8h2.3v15.5h-2.3zM1277.9 256.9h2.3v15.5h-2.3zM1277.9 241.4h2.3v15.5h-2.3zM1277.9 55.6h2.3v15.5h-2.3zM1277.9 40.1h2.3v15.5h-2.3zM1284.9 287.8h2.3v15.5h-2.3zM1284.9 40.1h2.3v15.5h-2.3zM1284.9 24.6h2.3v15.5h-2.3zM1287.2 287.8h2.3v15.5h-2.3zM1287.2 272.3h2.3v15.5h-2.3zM1287.2 256.9h2.3v15.5h-2.3zM1287.2 40.1h2.3v15.5h-2.3zM1287.2 24.6h2.3v15.5h-2.3zM1289.5 287.8h2.3v15.5h-2.3zM1296.5 287.8h2.3v15.5h-2.3zM1298.8 287.8h2.3v15.5h-2.3zM1298.8 272.3h2.3v15.5h-2.3zM1298.8 40.1h2.3v15.5h-2.3zM1298.8 24.6h2.3v15.5h-2.3zM1315 24.6h2.3v15.5h-2.3zM1317.4 210.4h2.3v15.5h-2.3zM1317.4 164h2.3v15.5h-2.3zM1317.4 148.5h2.3v15.5h-2.3zM1317.4 117.5h2.3v15.5h-2.3zM1317.4 71.1h2.3v15.5h-2.3zM1331.3 164h2.3v15.5h-2.3zM1331.3 148.5h2.3v15.5h-2.3zM1331.3 133h2.3v15.5h-2.3zM1331.3 117.5h2.3v15.5h-2.3zM1331.3 102h2.3v15.5h-2.3zM1333.6 133h2.3v15.5h-2.3zM1333.6 117.5h2.3v15.5h-2.3zM1333.6 102h2.3v15.5h-2.3zM1345.2 133h2.3v15.5h-2.3zM1345.2 117.5h2.3v15.5h-2.3zM1345.2 102h2.3v15.5h-2.3zM1347.5 179.4h2.3v15.5h-2.3zM1347.5 164h2.3v15.5h-2.3zM1347.5 148.5h2.3v15.5h-2.3zM1347.5 86.5h2.3v15.5h-2.3zM1356.8 287.8h2.3v15.5h-2.3zM1361.4 287.8h2.3v15.5h-2.3zM1370.7 287.8h2.3v15.5h-2.3zM1370.7 272.3h2.3v15.5h-2.3zM1373 179.4h2.3v15.5h-2.3zM1373 164h2.3v15.5h-2.3zM1373 148.5h2.3v15.5h-2.3zM1373 133h2.3v15.5h-2.3zM1373 102h2.3v15.5h-2.3zM1373 86.5h2.3v15.5h-2.3zM1375.3 225.9h2.3v15.5h-2.3zM1375.3 210.4h2.3v15.5h-2.3zM1375.3 71.1h2.3v15.5h-2.3zM1377.7 256.9h2.3v15.5h-2.3zM1380 179.4h2.3v15.5h-2.3zM1380 164h2.3v15.5h-2.3zM1380 148.5h2.3v15.5h-2.3zM1380 117.5h2.3v15.5h-2.3zM1380 102h2.3v15.5h-2.3zM1380 86.5h2.3v15.5h-2.3zM1382.3 287.8h2.3v15.5h-2.3zM1384.6 287.8h2.3v15.5h-2.3zM1386.9 179.4h2.3v15.5h-2.3zM1386.9 164h2.3v15.5h-2.3zM1386.9 148.5h2.3v15.5h-2.3zM1386.9 86.5h2.3v15.5h-2.3zM1389.3 287.8h2.3v15.5h-2.3zM1389.3 272.3h2.3v15.5h-2.3zM1389.3 40.1h2.3v15.5h-2.3zM1389.3 24.6h2.3v15.5h-2.3zM1391.6 194.9h2.3v15.5h-2.3zM1391.6 179.4h2.3v15.5h-2.3zM1391.6 71.1h2.3v15.5h-2.3zM1393.9 256.9h2.3v15.5h-2.3zM1393.9 241.4h2.3v15.5h-2.3zM1393.9 225.9h2.3v15.5h-2.3zM1393.9 55.6h2.3v15.5h-2.3zM1396.2 179.4h2.3v15.5h-2.3zM1396.2 164h2.3v15.5h-2.3zM1396.2 148.5h2.3v15.5h-2.3zM1398.5 256.9h2.3v15.5h-2.3zM1398.5 241.4h2.3v15.5h-2.3zM1398.5 55.6h2.3v15.5h-2.3zM1400.9 194.9h2.3v15.5h-2.3zM1400.9 179.4h2.3v15.5h-2.3zM1400.9 164h2.3v15.5h-2.3zM1400.9 148.5h2.3v15.5h-2.3zM1403.2 133h2.3v15.5h-2.3zM1403.2 102h2.3v15.5h-2.3zM1405.5 164h2.3v15.5h-2.3zM1405.5 148.5h2.3v15.5h-2.3zM1405.5 133h2.3v15.5h-2.3zM1405.5 117.5h2.3v15.5h-2.3zM1405.5 102h2.3v15.5h-2.3zM1405.5 86.5h2.3v15.5h-2.3zM1407.8 210.4h2.3v15.5h-2.3zM1407.8 179.4h2.3v15.5h-2.3zM1407.8 86.5h2.3v15.5h-2.3zM1412.4 133h2.3v15.5h-2.3zM1414.8 133h2.3v15.5h-2.3zM1417.1 225.9h2.3v15.5h-2.3zM1417.1 210.4h2.3v15.5h-2.3zM1419.4 241.4h2.3v15.5h-2.3zM1419.4 55.6h2.3v15.5h-2.3zM1424 225.9h2.3v15.5h-2.3zM1424 55.6h2.3v15.5h-2.3zM1426.4 225.9h2.3v15.5h-2.3zM1426.4 210.4h2.3v15.5h-2.3zM1426.4 194.9h2.3v15.5h-2.3zM1426.4 71.1h2.3v15.5h-2.3zM1431 133h2.3v15.5h-2.3zM1431 117.5h2.3v15.5h-2.3zM1431 102h2.3v15.5h-2.3zM1435.6 272.3h2.3v15.5h-2.3zM1435.6 256.9h2.3v15.5h-2.3zM1435.6 241.4h2.3v15.5h-2.3zM1435.6 40.1h2.3v15.5h-2.3zM1438 241.4h2.3v15.5h-2.3zM1438 225.9h2.3v15.5h-2.3zM1438 55.6h2.3v15.5h-2.3zM1440.3 287.8h2.3v15.5h-2.3zM1440.3 272.3h2.3v15.5h-2.3zM1440.3 40.1h2.3v15.5h-2.3zM1440.3 24.6h2.3v15.5h-2.3zM1442.6 272.3h2.3v15.5h-2.3zM1442.6 256.9h2.3v15.5h-2.3zM1442.6 241.4h2.3v15.5h-2.3zM1442.6 40.1h2.3v15.5h-2.3zM1442.6 24.6h2.3v15.5h-2.3zM1444.9 287.8h2.3v15.5h-2.3zM1447.2 287.8h2.3v15.5h-2.3zM1447.2 272.3h2.3v15.5h-2.3zM1447.2 40.1h2.3v15.5h-2.3zM1449.6 210.4h2.3v15.5h-2.3zM1449.6 194.9h2.3v15.5h-2.3zM1449.6 71.1h2.3v15.5h-2.3zM1456.5 40.1h2.3v15.5h-2.3zM1461.2 272.3h2.3v15.5h-2.3zM1461.2 256.9h2.3v15.5h-2.3zM1461.2 40.1h2.3v15.5h-2.3zM1468.1 287.8h2.3v15.5h-2.3zM1470.4 287.8h2.3v15.5h-2.3zM1470.4 40.1h2.3v15.5h-2.3zM1477.4 272.3h2.3v15.5h-2.3zM1477.4 256.9h2.3v15.5h-2.3zM1477.4 40.1h2.3v15.5h-2.3zM1477.4 24.6h2.3v15.5h-2.3zM1482 287.8h2.3v15.5h-2.3zM1484.3 241.4h2.3v15.5h-2.3zM1484.3 55.6h2.3v15.5h-2.3zM1486.7 272.3h2.3v15.5h-2.3zM1486.7 256.9h2.3v15.5h-2.3zM1486.7 241.4h2.3v15.5h-2.3zM1486.7 40.1h2.3v15.5h-2.3zM1486.7 24.6h2.3v15.5h-2.3zM1489 287.8h2.3v15.5h-2.3zM1489 24.6h2.3v15.5h-2.3zM1491.3 225.9h2.3v15.5h-2.3zM1491.3 210.4h2.3v15.5h-2.3zM1491.3 194.9h2.3v15.5h-2.3zM1491.3 71.1h2.3v15.5h-2.3zM1493.6 272.3h2.3v15.5h-2.3zM1493.6 256.9h2.3v15.5h-2.3zM1498.3 272.3h2.3v15.5h-2.3zM1498.3 256.9h2.3v15.5h-2.3zM1498.3 241.4h2.3v15.5h-2.3zM1498.3 55.6h2.3v15.5h-2.3zM1500.6 287.8h2.3v15.5h-2.3zM1502.9 287.8h2.3v15.5h-2.3zM1502.9 272.3h2.3v15.5h-2.3zM1502.9 40.1h2.3v15.5h-2.3zM1502.9 24.6h2.3v15.5h-2.3zM1507.5 256.9h2.3v15.5h-2.3zM1507.5 241.4h2.3v15.5h-2.3zM1507.5 55.6h2.3v15.5h-2.3zM1509.9 287.8h2.3v15.5h-2.3zM1514.5 287.8h2.3v15.5h-2.3zM1514.5 272.3h2.3v15.5h-2.3zM1514.5 40.1h2.3v15.5h-2.3zM1516.8 133h2.3v15.5h-2.3zM1516.8 117.5h2.3v15.5h-2.3zM1516.8 102h2.3v15.5h-2.3zM1519.1 133h2.3v15.5h-2.3zM1519.1 117.5h2.3v15.5h-2.3zM1519.1 102h2.3v15.5h-2.3zM1521.5 133h2.3v15.5h-2.3zM1521.5 102h2.3v15.5h-2.3zM1523.8 148.5h2.3v15.5h-2.3zM1523.8 133h2.3v15.5h-2.3zM1523.8 117.5h2.3v15.5h-2.3zM1523.8 102h2.3v15.5h-2.3zM1528.4 164h2.3v15.5h-2.3zM1528.4 148.5h2.3v15.5h-2.3zM1528.4 102h2.3v15.5h-2.3zM1528.4 86.5h2.3v15.5h-2.3zM1530.7 256.9h2.3v15.5h-2.3zM1530.7 241.4h2.3v15.5h-2.3zM1530.7 55.6h2.3v15.5h-2.3zM1533 148.5h2.3v15.5h-2.3zM1533 133h2.3v15.5h-2.3zM1533 117.5h2.3v15.5h-2.3zM1533 102h2.3v15.5h-2.3zM1533 86.5h2.3v15.5h-2.3zM1570.2 256.9h2.3v15.5h-2.3zM1570.2 241.4h2.3v15.5h-2.3zM1570.2 55.6h2.3v15.5h-2.3zM1572.5 210.4h2.3v15.5h-2.3zM1572.5 148.5h2.3v15.5h-2.3zM1572.5 71.1h2.3v15.5h-2.3zM1579.4 241.4h2.3v15.5h-2.3zM1579.4 55.6h2.3v15.5h-2.3zM1593.3 256.9h2.3v15.5h-2.3zM1593.3 241.4h2.3v15.5h-2.3zM1593.3 55.6h2.3v15.5h-2.3zM1595.7 241.4h2.3v15.5h-2.3zM1595.7 55.6h2.3v15.5h-2.3zM1598 241.4h2.3v15.5h-2.3zM1598 55.6h2.3v15.5h-2.3zM1602.6 55.6h2.3v15.5h-2.3zM1637.4 241.4h2.3v15.5h-2.3zM1637.4 71.1h2.3v15.5h-2.3zM1637.4 55.6h2.3v15.5h-2.3zM1642 241.4h2.3v15.5h-2.3zM1642 55.6h2.3v15.5h-2.3zM1642 24.6h2.3v15.5h-2.3zM1644.4 225.9h2.3v15.5h-2.3zM1644.4 194.9h2.3v15.5h-2.3zM1644.4 71.1h2.3v15.5h-2.3zM1725.5 210.4h2.3v15.5h-2.3zM1725.5 194.9h2.3v15.5h-2.3zM1725.5 179.4h2.3v15.5h-2.3zM1725.5 164h2.3v15.5h-2.3zM1725.5 133h2.3v15.5h-2.3zM1725.5 102h2.3v15.5h-2.3zM1725.5 86.5h2.3v15.5h-2.3zM1727.9 241.4h2.3v15.5h-2.3zM1730.2 241.4h2.3v15.5h-2.3zM1730.2 55.6h2.3v15.5h-2.3zM1732.5 179.4h2.3v15.5h-2.3zM1732.5 71.1h2.3v15.5h-2.3zM1734.8 71.1h2.3v15.5h-2.3zM1737.1 241.4h2.3v15.5h-2.3zM1737.1 71.1h2.3v15.5h-2.3zM1751.1 287.8h2.3v15.5h-2.3zM1767.3 194.9h2.3v15.5h-2.3zM1767.3 179.4h2.3v15.5h-2.3zM1767.3 164h2.3v15.5h-2.3zM1767.3 86.5h2.3v15.5h-2.3zM1767.3 71.1h2.3v15.5h-2.3zM1781.2 117.5h2.3v15.5h-2.3zM1785.8 225.9h2.3v15.5h-2.3zM1785.8 210.4h2.3v15.5h-2.3zM1785.8 194.9h2.3v15.5h-2.3zM1785.8 179.4h2.3v15.5h-2.3zM1785.8 164h2.3v15.5h-2.3zM1785.8 148.5h2.3v15.5h-2.3zM1785.8 86.5h2.3v15.5h-2.3zM1785.8 71.1h2.3v15.5h-2.3zM1788.2 133h2.3v15.5h-2.3zM1788.2 117.5h2.3v15.5h-2.3zM1788.2 102h2.3v15.5h-2.3zM1792.8 194.9h2.3v15.5h-2.3zM1792.8 71.1h2.3v15.5h-2.3zM1795.1 55.6h2.3v15.5h-2.3zM1797.4 133h2.3v15.5h-2.3zM1797.4 102h2.3v15.5h-2.3zM1799.8 194.9h2.3v15.5h-2.3zM1799.8 71.1h2.3v15.5h-2.3z"/>
<path fill="#e6e6db" shape-rendering="crispEdges" d="M1261.7 225.9h2.3v15.5h-2.3zM1264 272.3h2.3v15.5h-2.3zM1264 256.9h2.3v15.5h-2.3zM1264 241.4h2.3v15.5h-2.3zM1264 40.1h2.3v15.5h-2.3zM1266.3 225.9h2.3v15.5h-2.3zM1268.7 55.6h2.3v15.5h-2.3zM1273.3 287.8h2.3v15.5h-2.3zM1273.3 272.3h2.3v15.5h-2.3zM1273.3 24.6h2.3v15.5h-2.3zM1275.6 272.3h2.3v15.5h-2.3zM1275.6 256.9h2.3v15.5h-2.3zM1275.6 40.1h2.3v15.5h-2.3zM1275.6 24.6h2.3v15.5h-2.3zM1277.9 225.9h2.3v15.5h-2.3zM1280.3 287.8h2.3v15.5h-2.3zM1280.3 40.1h2.3v15.5h-2.3zM1280.3 24.6h2.3v15.5h-2.3zM1282.6 287.8h2.3v15.5h-2.3zM1284.9 272.3h2.3v15.5h-2.3zM1284.9 256.9h2.3v15.5h-2.3zM1284.9 241.4h2.3v15.5h-2.3zM1284.9 55.6h2.3v15.5h-2.3zM1287.2 241.4h2.3v15.5h-2.3zM1287.2 55.6h2.3v15.5h-2.3zM1289.5 272.3h2.3v15.5h-2.3zM1289.5 256.9h2.3v15.5h-2.3zM1289.5 24.6h2.3v15.5h-2.3zM1296.5 272.3h2.3v15.5h-2.3zM1296.5 256.9h2.3v15.5h-2.3zM1296.5 40.1h2.3v15.5h-2.3zM1296.5 24.6h2.3v15.5h-2.3zM1298.8 256.9h2.3v15.5h-2.3zM1298.8 241.4h2.3v15.5h-2.3zM1298.8 55.6h2.3v15.5h-2.3zM1308.1 272.3h2.3v15.5h-2.3zM1310.4 287.8h2.3v15.5h-2.3zM1310.4 24.6h2.3v15.5h-2.3zM1315 287.8h2.3v15.5h-2.3zM1315 272.3h2.3v15.5h-2.3zM1315 256.9h2.3v15.5h-2.3zM1315 241.4h2.3v15.5h-2.3zM1315 40.1h2.3v15.5h-2.3zM1317.4 133h2.3v15.5h-2.3zM1317.4 102h2.3v15.5h-2.3zM1317.4 86.5h2.3v15.5h-2.3zM1347.5 133h2.3v15.5h-2.3zM1347.5 117.5h2.3v15.5h-2.3zM1347.5 102h2.3v15.5h-2.3zM1356.8 272.3h2.3v15.5h-2.3zM1356.8 40.1h2.3v15.5h-2.3zM1356.8 24.6h2.3v15.5h-2.3zM1359.1 287.8h2.3v15.5h-2.3zM1359.1 24.6h2.3v15.5h-2.3zM1361.4 272.3h2.3v15.5h-2.3zM1361.4 24.6h2.3v15.5h-2.3zM1363.7 287.8h2.3v15.5h-2.3zM1366.1 287.8h2.3v15.5h-2.3zM1370.7 256.9h2.3v15.5h-2.3zM1370.7 40.1h2.3v15.5h-2.3zM1370.7 24.6h2.3v15.5h-2.3zM1373 117.5h2.3v15.5h-2.3zM1375.3 194.9h2.3v15.5h-2.3zM1375.3 179.4h2.3v15.5h-2.3zM1375.3 164h2.3v15.5h-2.3zM1377.7 241.4h2.3v15.5h-2.3zM1377.7 210.4h2.3v15.5h-2.3zM1377.7 55.6h2.3v15.5h-2.3zM1380 133h2.3v15.5h-2.3zM1382.3 272.3h2.3v15.5h-2.3zM1382.3 256.9h2.3v15.5h-2.3zM1382.3 40.1h2.3v15.5h-2.3zM1382.3 24.6h2.3v15.5h-2.3zM1384.6 272.3h2.3v15.5h-2.3zM1384.6 40.1h2.3v15.5h-2.3zM1384.6 24.6h2.3v15.5h-2.3zM1386.9 133h2.3v15.5h-2.3zM1386.9 117.5h2.3v15.5h-2.3zM1386.9 102h2.3v15.5h-2.3zM1389.3 256.9h2.3v15.5h-2.3zM1389.3 241.4h2.3v15.5h-2.3zM1391.6 164h2.3v15.5h-2.3zM1391.6 148.5h2.3v15.5h-2.3zM1391.6 133h2.3v15.5h-2.3zM1391.6 86.5h2.3v15.5h-2.3zM1393.9 210.4h2.3v15.5h-2.3zM1393.9 194.9h2.3v15.5h-2.3zM1396.2 133h2.3v15.5h-2.3zM1396.2 117.5h2.3v15.5h-2.3zM1396.2 102h2.3v15.5h-2.3zM1396.2 86.5h2.3v15.5h-2.3zM1398.5 225.9h2.3v15.5h-2.3zM1398.5 210.4h2.3v15.5h-2.3zM1398.5 71.1h2.3v15.5h-2.3zM1400.9 102h2.3v15.5h-2.3zM1400.9 86.5h2.3v15.5h-2.3zM1407.8 164h2.3v15.5h-2.3zM1407.8 148.5h2.3v15.5h-2.3zM1407.8 133h2.3v15.5h-2.3zM1407.8 102h2.3v15.5h-2.3zM1417.1 194.9h2.3v15.5h-2.3zM1417.1 179.4h2.3v15.5h-2.3zM1417.1 71.1h2.3v15.5h-2.3zM1419.4 225.9h2.3v15.5h-2.3zM1419.4 210.4h2.3v15.5h-2.3zM1419.4 194.9h2.3v15.5h-2.3zM1419.4 179.4h2.3v15.5h-2.3zM1419.4 71.1h2.3v15.5h-2.3zM1424 210.4h2.3v15.5h-2.3zM1424 194.9h2.3v15.5h-2.3zM1424 179.4h2.3v15.5h-2.3zM1424 71.1h2.3v15.5h-2.3zM1426.4 179.4h2.3v15.5h-2.3zM1426.4 164h2.3v15.5h-2.3zM1426.4 148.5h2.3v15.5h-2.3zM1435.6 225.9h2.3v15.5h-2.3zM1435.6 55.6h2.3v15.5h-2.3zM1438 210.4h2.3v15.5h-2.3zM1438 194.9h2.3v15.5h-2.3zM1438 71.1h2.3v15.5h-2.3zM1440.3 256.9h2.3v15.5h-2.3zM1440.3 241.4h2.3v15.5h-2.3zM1440.3 55.6h2.3v15.5h-2.3zM1442.6 225.9h2.3v15.5h-2.3zM1442.6 55.6h2.3v15.5h-2.3zM1444.9 272.3h2.3v15.5h-2.3zM1444.9 256.9h2.3v15.5h-2.3zM1444.9 40.1h2.3v15.5h-2.3zM1444.9 24.6h2.3v15.5h-2.3zM1447.2 256.9h2.3v15.5h-2.3zM1447.2 241.4h2.3v15.5h-2.3zM1447.2 24.6h2.3v15.5h-2.3zM1449.6 179.4h2.3v15.5h-2.3zM1449.6 164h2.3v15.5h-2.3zM1456.5 287.8h2.3v15.5h-2.3zM1456.5 272.3h2.3v15.5h-2.3zM1456.5 24.6h2.3v15.5h-2.3zM1461.2 241.4h2.3v15.5h-2.3zM1461.2 225.9h2.3v15.5h-2.3zM1461.2 55.6h2.3v15.5h-2.3zM1468.1 272.3h2.3v15.5h-2.3zM1468.1 40.1h2.3v15.5h-2.3zM1468.1 24.6h2.3v15.5h-2.3zM1470.4 272.3h2.3v15.5h-2.3zM1470.4 256.9h2.3v15.5h-2.3zM1470.4 24.6h2.3v15.5h-2.3zM1477.4 241.4h2.3v15.5h-2.3zM1477.4 225.9h2.3v15.5h-2.3zM1477.4 55.6h2.3v15.5h-2.3zM1479.7 287.8h2.3v15.5h-2.3zM1482 272.3h2.3v15.5h-2.3zM1482 40.1h2.3v15.5h-2.3zM1482 24.6h2.3v15.5h-2.3zM1484.3 225.9h2.3v15.5h-2.3zM1484.3 210.4h2.3v15.5h-2.3zM1484.3 194.9h2.3v15.5h-2.3zM1484.3 71.1h2.3v15.5h-2.3zM1486.7 55.6h2.3v15.5h-2.3zM1489 272.3h2.3v15.5h-2.3zM1489 256.9h2.3v15.5h-2.3zM1489 241.4h2.3v15.5h-2.3zM1489 40.1h2.3v15.5h-2.3zM1491.3 179.4h2.3v15.5h-2.3zM1493.6 241.4h2.3v15.5h-2.3zM1493.6 55.6h2.3v15.5h-2.3zM1498.3 225.9h2.3v15.5h-2.3zM1500.6 272.3h2.3v15.5h-2.3zM1500.6 256.9h2.3v15.5h-2.3zM1500.6 40.1h2.3v15.5h-2.3zM1500.6 24.6h2.3v15.5h-2.3zM1502.9 256.9h2.3v15.5h-2.3zM1502.9 55.6h2.3v15.5h-2.3zM1507.5 225.9h2.3v15.5h-2.3zM1507.5 210.4h2.3v15.5h-2.3zM1509.9 272.3h2.3v15.5h-2.3zM1509.9 40.1h2.3v15.5h-2.3zM1509.9 24.6h2.3v15.5h-2.3zM1512.2 287.8h2.3v15.5h-2.3zM1512.2 272.3h2.3v15.5h-2.3zM1512.2 256.9h2.3v15.5h-2.3zM1512.2 40.1h2.3v15.5h-2.3zM1514.5 256.9h2.3v15.5h-2.3zM1514.5 241.4h2.3v15.5h-2.3zM1514.5 55.6h2.3v15.5h-2.3zM1514.5 24.6h2.3v15.5h-2.3zM1528.4 133h2.3v15.5h-2.3zM1528.4 117.5h2.3v15.5h-2.3zM1530.7 225.9h2.3v15.5h-2.3zM1530.7 210.4h2.3v15.5h-2.3zM1530.7 194.9h2.3v15.5h-2.3zM1530.7 179.4h2.3v15.5h-2.3zM1570.2 225.9h2.3v15.5h-2.3zM1570.2 71.1h2.3v15.5h-2.3zM1572.5 225.9h2.3v15.5h-2.3zM1572.5 194.9h2.3v15.5h-2.3zM1572.5 179.4h2.3v15.5h-2.3zM1572.5 164h2.3v15.5h-2.3zM1572.5 133h2.3v15.5h-2.3zM1572.5 117.5h2.3v15.5h-2.3zM1572.5 86.5h2.3v15.5h-2.3zM1579.4 225.9h2.3v15.5h-2.3zM1579.4 210.4h2.3v15.5h-2.3zM1579.4 194.9h2.3v15.5h-2.3zM1579.4 179.4h2.3v15.5h-2.3zM1579.4 164h2.3v15.5h-2.3zM1579.4 86.5h2.3v15.5h-2.3zM1579.4 71.1h2.3v15.5h-2.3zM1593.3 210.4h2.3v15.5h-2.3zM1593.3 179.4h2.3v15.5h-2.3zM1593.3 71.1h2.3v15.5h-2.3zM1595.7 225.9h2.3v15.5h-2.3zM1595.7 194.9h2.3v15.5h-2.3zM1595.7 164h2.3v15.5h-2.3zM1595.7 86.5h2.3v15.5h-2.3zM1595.7 71.1h2.3v15.5h-2.3zM1598 194.9h2.3v15.5h-2.3zM1598 179.4h2.3v15.5h-2.3zM1598 148.5h2.3v15.5h-2.3zM1598 71.1h2.3v15.5h-2.3zM1602.6 225.9h2.3v15.5h-2.3zM1602.6 194.9h2.3v15.5h-2.3zM1602.6 179.4h2.3v15.5h-2.3zM1602.6 164h2.3v15.5h-2.3zM1602.6 102h2.3v15.5h-2.3zM1602.6 86.5h2.3v15.5h-2.3zM1602.6 71.1h2.3v15.5h-2.3zM1637.4 225.9h2.3v15.5h-2.3zM1637.4 179.4h2.3v15.5h-2.3zM1637.4 164h2.3v15.5h-2.3zM1642 194.9h2.3v15.5h-2.3zM1642 71.1h2.3v15.5h-2.3zM1644.4 210.4h2.3v15.5h-2.3zM1644.4 179.4h2.3v15.5h-2.3zM1644.4 164h2.3v15.5h-2.3zM1644.4 148.5h2.3v15.5h-2.3zM1644.4 133h2.3v15.5h-2.3zM1644.4 117.5h2.3v15.5h-2.3zM1644.4 102h2.3v15.5h-2.3zM1644.4 86.5h2.3v15.5h-2.3zM1725.5 225.9h2.3v15.5h-2.3zM1725.5 148.5h2.3v15.5h-2.3zM1725.5 117.5h2.3v15.5h-2.3zM1727.9 225.9h2.3v15.5h-2.3zM1727.9 194.9h2.3v15.5h-2.3zM1727.9 179.4h2.3v15.5h-2.3zM1727.9 164h2.3v15.5h-2.3zM1727.9 86.5h2.3v15.5h-2.3zM1727.9 71.1h2.3v15.5h-2.3zM1730.2 210.4h2.3v15.5h-2.3zM1730.2 194.9h2.3v15.5h-2.3zM1730.2 164h2.3v15.5h-2.3zM1730.2 148.5h2.3v15.5h-2.3zM1730.2 71.1h2.3v15.5h-2.3zM1732.5 225.9h2.3v15.5h-2.3zM1732.5 210.4h2.3v15.5h-2.3zM1732.5 194.9h2.3v15.5h-2.3zM1732.5 164h2.3v15.5h-2.3zM1732.5 133h2.3v15.5h-2.3zM1732.5 102h2.3v15.5h-2.3zM1732.5 86.5h2.3v15.5h-2.3zM1734.8 225.9h2.3v15.5h-2.3zM1734.8 210.4h2.3v15.5h-2.3zM1734.8 194.9h2.3v15.5h-2.3zM1734.8 179.4h2.3v15.5h-2.3zM1734.8 164h2.3v15.5h-2.3zM1734.8 148.5h2.3v15.5h-2.3zM1734.8 133h2.3v15.5h-2.3zM1734.8 86.5h2.3v15.5h-2.3zM1737.1 225.9h2.3v15.5h-2.3zM1737.1 210.4h2.3v15.5h-2.3zM1737.1 194.9h2.3v15.5h-2.3zM1737.1 179.4h2.3v15.5h-2.3zM1737.1 164h2.3v15.5h-2.3zM1737.1 148.5h2.3v15.5h-2.3zM1737.1 133h2.3v15.5h-2.3zM1737.1 86.5h2.3v15.5h-2.3zM1751.1 272.3h2.3v15.5h-2.3zM1751.1 40.1h2.3v15.5h-2.3zM1751.1 24.6h2.3v15.5h-2.3zM1767.3 225.9h2.3v15.5h-2.3zM1767.3 210.4h2.3v15.5h-2.3zM1767.3 148.5h2.3v15.5h-2.3zM1767.3 133h2.3v15.5h-2.3zM1767.3 117.5h2.3v15.5h-2.3zM1767.3 102h2.3v15.5h-2.3zM1785.8 133h2.3v15.5h-2.3zM1785.8 117.5h2.3v15.5h-2.3zM1785.8 102h2.3v15.5h-2.3zM1792.8 225.9h2.3v15.5h-2.3zM1792.8 210.4h2.3v15.5h-2.3zM1792.8 179.4h2.3v15.5h-2.3zM1792.8 164h2.3v15.5h-2.3zM1792.8 148.5h2.3v15.5h-2.3zM1792.8 133h2.3v15.5h-2.3zM1792.8 102h2.3v15.5h-2.3zM1792.8 86.5h2.3v15.5h-2.3zM1795.1 241.4h2.3v15.5h-2.3zM1799.8 225.9h2.3v15.5h-2.3zM1799.8 210.4h2.3v15.5h-2.3zM1799.8 179.4h2.3v15.5h-2.3zM1799.8 164h2.3v15.5h-2.3zM1799.8 148.5h2.3v15.5h-2.3zM1799.8 117.5h2.3v15.5h-2.3zM1799.8 102h2.3v15.5h-2.3zM1799.8 86.5h2.3v15.5h-2.3z"/>
<path fill="#e0e3d6" shape-rendering="crispEdges" d="M1261.7 194.9h2.3v15.5h-2.3zM1261.7 179.4h2.3v15.5h-2.3zM1261.7 71.1h2.3v15.5h-2.3zM1264 55.6h2.3v15.5h-2.3zM1266.3 194.9h2.3v15.5h-2.3zM1266.3 179.4h2.3v15.5h-2.3zM1266.3 164h2.3v15.5h-2.3zM1266.3 71.1h2.3v15.5h-2.3zM1271 287.8h2.3v15.5h-2.3zM1271 272.3h2.3v15.5h-2.3zM1271 256.9h2.3v15.5h-2.3zM1271 40.1h2.3v15.5h-2.3zM1271 24.6h2.3v15.5h-2.3zM1273.3 256.9h2.3v15.5h-2.3zM1273.3 40.1h2.3v15.5h-2.3zM1275.6 241.4h2.3v15.5h-2.3zM1275.6 55.6h2.3v15.5h-2.3zM1277.9 194.9h2.3v15.5h-2.3zM1277.9 179.4h2.3v15.5h-2.3zM1277.9 164h2.3v15.5h-2.3zM1277.9 71.1h2.3v15.5h-2.3zM1280.3 272.3h2.3v15.5h-2.3zM1280.3 256.9h2.3v15.5h-2.3zM1282.6 272.3h2.3v15.5h-2.3zM1282.6 40.1h2.3v15.5h-2.3zM1282.6 24.6h2.3v15.5h-2.3zM1287.2 225.9h2.3v15.5h-2.3zM1289.5 241.4h2.3v15.5h-2.3zM1289.5 40.1h2.3v15.5h-2.3zM1291.8 287.8h2.3v15.5h-2.3zM1291.8 272.3h2.3v15.5h-2.3zM1291.8 256.9h2.3v15.5h-2.3zM1291.8 40.1h2.3v15.5h-2.3zM1291.8 24.6h2.3v15.5h-2.3zM1296.5 241.4h2.3v15.5h-2.3zM1296.5 55.6h2.3v15.5h-2.3zM1298.8 225.9h2.3v15.5h-2.3zM1301.1 287.8h2.3v15.5h-2.3zM1301.1 272.3h2.3v15.5h-2.3zM1301.1 256.9h2.3v15.5h-2.3zM1301.1 40.1h2.3v15.5h-2.3zM1301.1 24.6h2.3v15.5h-2.3zM1303.4 287.8h2.3v15.5h-2.3zM1303.4 272.3h2.3v15.5h-2.3zM1303.4 24.6h2.3v15.5h-2.3zM1305.8 287.8h2.3v15.5h-2.3zM1305.8 24.6h2.3v15.5h-2.3zM1308.1 287.8h2.3v15.5h-2.3zM1308.1 256.9h2.3v15.5h-2.3zM1308.1 40.1h2.3v15.5h-2.3zM1308.1 24.6h2.3v15.5h-2.3zM1310.4 272.3h2.3v15.5h-2.3zM1310.4 256.9h2.3v15.5h-2.3zM1310.4 55.6h2.3v15.5h-2.3zM1310.4 40.1h2.3v15.5h-2.3zM1315 55.6h2.3v15.5h-2.3zM1356.8 256.9h2.3v15.5h-2.3zM1359.1 272.3h2.3v15.5h-2.3zM1359.1 256.9h2.3v15.5h-2.3zM1359.1 40.1h2.3v15.5h-2.3zM1361.4 256.9h2.3v15.5h-2.3zM1361.4 40.1h2.3v15.5h-2.3zM1363.7 272.3h2.3v15.5h-2.3zM1363.7 24.6h2.3v15.5h-2.3zM1366.1 272.3h2.3v15.5h-2.3zM1368.4 287.8h2.3v15.5h-2.3zM1375.3 148.5h2.3v15.5h-2.3zM1375.3 133h2.3v15.5h-2.3zM1375.3 86.5h2.3v15.5h-2.3zM1377.7 225.9h2.3v15.5h-2.3zM1377.7 194.9h2.3v15.5h-2.3zM1382.3 241.4h2.3v15.5h-2.3zM1382.3 225.9h2.3v15.5h-2.3zM1384.6 256.9h2.3v15.5h-2.3zM1384.6 241.4h2.3v15.5h-2.3zM1389.3 55.6h2.3v15.5h-2.3zM1391.6 117.5h2.3v15.5h-2.3zM1391.6 102h2.3v15.5h-2.3zM1393.9 164h2.3v15.5h-2.3zM1393.9 71.1h2.3v15.5h-2.3zM1398.5 194.9h2.3v15.5h-2.3zM1398.5 179.4h2.3v15.5h-2.3zM1398.5 164h2.3v15.5h-2.3zM1400.9 133h2.3v15.5h-2.3zM1400.9 117.5h2.3v15.5h-2.3zM1407.8 117.5h2.3v15.5h-2.3zM1417.1 164h2.3v15.5h-2.3zM1417.1 148.5h2.3v15.5h-2.3zM1417.1 86.5h2.3v15.5h-2.3zM1419.4 148.5h2.3v15.5h-2.3zM1424 164h2.3v15.5h-2.3zM1424 148.5h2.3v15.5h-2.3zM1426.4 133h2.3v15.5h-2.3zM1426.4 117.5h2.3v15.5h-2.3zM1426.4 102h2.3v15.5h-2.3zM1426.4 86.5h2.3v15.5h-2.3zM1435.6 210.4h2.3v15.5h-2.3zM1435.6 194.9h2.3v15.5h-2.3zM1435.6 71.1h2.3v15.5h-2.3zM1438 179.4h2.3v15.5h-2.3zM1438 164h2.3v15.5h-2.3zM1438 86.5h2.3v15.5h-2.3zM1440.3 225.9h2.3v15.5h-2.3zM1442.6 210.4h2.3v15.5h-2.3zM1442.6 194.9h2.3v15.5h-2.3zM1444.9 241.4h2.3v15.5h-2.3zM1447.2 225.9h2.3v15.5h-2.3zM1447.2 55.6h2.3v15.5h-2.3zM1449.6 148.5h2.3v15.5h-2.3zM1449.6 133h2.3v15.5h-2.3zM1449.6 117.5h2.3v15.5h-2.3zM1449.6 86.5h2.3v15.5h-2.3zM1454.2 287.8h2.3v15.5h-2.3zM1456.5 256.9h2.3v15.5h-2.3zM1456.5 55.6h2.3v15.5h-2.3zM1461.2 210.4h2.3v15.5h-2.3zM1461.2 194.9h2.3v15.5h-2.3zM1461.2 71.1h2.3v15.5h-2.3zM1468.1 256.9h2.3v15.5h-2.3zM1468.1 55.6h2.3v15.5h-2.3zM1470.4 241.4h2.3v15.5h-2.3zM1470.4 55.6h2.3v15.5h-2.3zM1477.4 210.4h2.3v15.5h-2.3zM1477.4 194.9h2.3v15.5h-2.3zM1479.7 272.3h2.3v15.5h-2.3zM1479.7 256.9h2.3v15.5h-2.3zM1479.7 40.1h2.3v15.5h-2.3zM1479.7 24.6h2.3v15.5h-2.3zM1482 256.9h2.3v15.5h-2.3zM1482 55.6h2.3v15.5h-2.3zM1484.3 179.4h2.3v15.5h-2.3zM1484.3 86.5h2.3v15.5h-2.3zM1486.7 225.9h2.3v15.5h-2.3zM1486.7 210.4h2.3v15.5h-2.3zM1486.7 194.9h2.3v15.5h-2.3zM1489 225.9h2.3v15.5h-2.3zM1489 55.6h2.3v15.5h-2.3zM1491.3 164h2.3v15.5h-2.3zM1491.3 148.5h2.3v15.5h-2.3zM1491.3 117.5h2.3v15.5h-2.3zM1491.3 102h2.3v15.5h-2.3zM1491.3 86.5h2.3v15.5h-2.3zM1493.6 225.9h2.3v15.5h-2.3zM1493.6 194.9h2.3v15.5h-2.3zM1498.3 210.4h2.3v15.5h-2.3zM1498.3 71.1h2.3v15.5h-2.3zM1500.6 241.4h2.3v15.5h-2.3zM1502.9 241.4h2.3v15.5h-2.3zM1502.9 225.9h2.3v15.5h-2.3zM1507.5 194.9h2.3v15.5h-2.3zM1507.5 71.1h2.3v15.5h-2.3zM1509.9 256.9h2.3v15.5h-2.3zM1509.9 241.4h2.3v15.5h-2.3zM1512.2 241.4h2.3v15.5h-2.3zM1512.2 55.6h2.3v15.5h-2.3zM1512.2 24.6h2.3v15.5h-2.3zM1530.7 164h2.3v15.5h-2.3zM1530.7 71.1h2.3v15.5h-2.3zM1570.2 210.4h2.3v15.5h-2.3zM1570.2 194.9h2.3v15.5h-2.3zM1570.2 179.4h2.3v15.5h-2.3zM1570.2 164h2.3v15.5h-2.3zM1570.2 148.5h2.3v15.5h-2.3zM1570.2 102h2.3v15.5h-2.3zM1570.2 86.5h2.3v15.5h-2.3zM1572.5 102h2.3v15.5h-2.3zM1579.4 148.5h2.3v15.5h-2.3zM1579.4 133h2.3v15.5h-2.3zM1579.4 102h2.3v15.5h-2.3zM1593.3 225.9h2.3v15.5h-2.3zM1593.3 194.9h2.3v15.5h-2.3zM1593.3 164h2.3v15.5h-2.3zM1593.3 148.5h2.3v15.5h-2.3zM1593.3 102h2.3v15.5h-2.3zM1593.3 86.5h2.3v15.5h-2.3zM1595.7 210.4h2.3v15.5h-2.3zM1595.7 179.4h2.3v15.5h-2.3zM1595.7 148.5h2.3v15.5h-2.3zM1595.7 133h2.3v15.5h-2.3zM1595.7 102h2.3v15.5h-2.3zM1598 225.9h2.3v15.5h-2.3zM1598 210.4h2.3v15.5h-2.3zM1598 164h2.3v15.5h-2.3zM1598 133h2.3v15.5h-2.3zM1598 117.5h2.3v15.5h-2.3zM1598 102h2.3v15.5h-2.3zM1598 86.5h2.3v15.5h-2.3zM1602.6 210.4h2.3v15.5h-2.3zM1602.6 148.5h2.3v15.5h-2.3zM1602.6 133h2.3v15.5h-2.3zM1602.6 117.5h2.3v15.5h-2.3zM1637.4 210.4h2.3v15.5h-2.3zM1637.4 194.9h2.3v15.5h-2.3zM1637.4 148.5h2.3v15.5h-2.3zM1637.4 133h2.3v15.5h-2.3zM1637.4 117.5h2.3v15.5h-2.3zM1637.4 86.5h2.3v15.5h-2.3zM1642 225.9h2.3v15.5h-2.3zM1642 210.4h2.3v15.5h-2.3zM1642 179.4h2.3v15.5h-2.3zM1642 164h2.3v15.5h-2.3zM1642 148.5h2.3v15.5h-2.3zM1642 102h2.3v15.5h-2.3zM1642 86.5h2.3v15.5h-2.3zM1727.9 210.4h2.3v15.5h-2.3zM1727.9 148.5h2.3v15.5h-2.3zM1727.9 133h2.3v15.5h-2.3zM1727.9 117.5h2.3v15.5h-2.3zM1730.2 225.9h2.3v15.5h-2.3zM1730.2 179.4h2.3v15.5h-2.3zM1730.2 133h2.3v15.5h-2.3zM1730.2 117.5h2.3v15.5h-2.3zM1730.2 102h2.3v15.5h-2.3zM1730.2 86.5h2.3v15.5h-2.3zM1732.5 148.5h2.3v15.5h-2.3zM1732.5 117.5h2.3v15.5h-2.3zM1734.8 117.5h2.3v15.5h-2.3zM1734.8 102h2.3v15.5h-2.3zM1737.1 102h2.3v15.5h-2.3zM1751.1 256.9h2.3v15.5h-2.3zM1751.1 55.6h2.3v15.5h-2.3zM1792.8 117.5h2.3v15.5h-2.3zM1795.1 210.4h2.3v15.5h-2.3zM1795.1 194.9h2.3v15.5h-2.3zM1795.1 164h2.3v15.5h-2.3zM1795.1 86.5h2.3v15.5h-2.3zM1795.1 71.1h2.3v15.5h-2.3zM1799.8 133h2.3v15.5h-2.3z"/>
<path fill="#d9dfcf" shape-rendering="crispEdges" d="M1261.7 210.4h2.3v15.5h-2.3zM1261.7 164h2.3v15.5h-2.3zM1261.7 148.5h2.3v15.5h-2.3zM1261.7 86.5h2.3v15.5h-2.3zM1264 225.9h2.3v15.5h-2.3zM1264 179.4h2.3v15.5h-2.3zM1266.3 210.4h2.3v15.5h-2.3zM1266.3 148.5h2.3v15.5h-2.3zM1266.3 102h2.3v15.5h-2.3zM1268.7 225.9h2.3v15.5h-2.3zM1268.7 164h2.3v15.5h-2.3zM1268.7 71.1h2.3v15.5h-2.3zM1271 241.4h2.3v15.5h-2.3zM1273.3 241.4h2.3v15.5h-2.3zM1277.9 210.4h2.3v15.5h-2.3zM1277.9 86.5h2.3v15.5h-2.3zM1280.3 241.4h2.3v15.5h-2.3zM1280.3 55.6h2.3v15.5h-2.3zM1282.6 256.9h2.3v15.5h-2.3zM1284.9 225.9h2.3v15.5h-2.3zM1287.2 194.9h2.3v15.5h-2.3zM1287.2 179.4h2.3v15.5h-2.3zM1287.2 164h2.3v15.5h-2.3zM1287.2 71.1h2.3v15.5h-2.3zM1289.5 225.9h2.3v15.5h-2.3zM1289.5 55.6h2.3v15.5h-2.3zM1291.8 241.4h2.3v15.5h-2.3zM1291.8 55.6h2.3v15.5h-2.3zM1294.2 287.8h2.3v15.5h-2.3zM1294.2 272.3h2.3v15.5h-2.3zM1294.2 24.6h2.3v15.5h-2.3zM1298.8 194.9h2.3v15.5h-2.3zM1298.8 179.4h2.3v15.5h-2.3zM1298.8 71.1h2.3v15.5h-2.3zM1303.4 256.9h2.3v15.5h-2.3zM1303.4 40.1h2.3v15.5h-2.3zM1308.1 241.4h2.3v15.5h-2.3zM1308.1 55.6h2.3v15.5h-2.3zM1310.4 241.4h2.3v15.5h-2.3zM1315 225.9h2.3v15.5h-2.3zM1356.8 55.6h2.3v15.5h-2.3zM1363.7 256.9h2.3v15.5h-2.3zM1363.7 40.1h2.3v15.5h-2.3zM1366.1 40.1h2.3v15.5h-2.3zM1366.1 24.6h2.3v15.5h-2.3zM1368.4 24.6h2.3v15.5h-2.3zM1370.7 55.6h2.3v15.5h-2.3zM1375.3 117.5h2.3v15.5h-2.3zM1375.3 102h2.3v15.5h-2.3zM1377.7 179.4h2.3v15.5h-2.3zM1377.7 164h2.3v15.5h-2.3zM1377.7 71.1h2.3v15.5h-2.3zM1382.3 55.6h2.3v15.5h-2.3zM1384.6 225.9h2.3v15.5h-2.3zM1384.6 55.6h2.3v15.5h-2.3zM1389.3 225.9h2.3v15.5h-2.3zM1389.3 210.4h2.3v15.5h-2.3zM1389.3 194.9h2.3v15.5h-2.3zM1393.9 179.4h2.3v15.5h-2.3zM1393.9 148.5h2.3v15.5h-2.3zM1393.9 117.5h2.3v15.5h-2.3zM1393.9 86.5h2.3v15.5h-2.3zM1398.5 148.5h2.3v15.5h-2.3zM1398.5 102h2.3v15.5h-2.3zM1417.1 133h2.3v15.5h-2.3zM1417.1 117.5h2.3v15.5h-2.3zM1417.1 102h2.3v15.5h-2.3zM1419.4 164h2.3v15.5h-2.3zM1419.4 86.5h2.3v15.5h-2.3zM1424 133h2.3v15.5h-2.3zM1424 117.5h2.3v15.5h-2.3zM1424 102h2.3v15.5h-2.3zM1424 86.5h2.3v15.5h-2.3zM1438 148.5h2.3v15.5h-2.3zM1438 133h2.3v15.5h-2.3zM1438 117.5h2.3v15.5h-2.3zM1438 102h2.3v15.5h-2.3zM1440.3 210.4h2.3v15.5h-2.3zM1440.3 194.9h2.3v15.5h-2.3zM1440.3 71.1h2.3v15.5h-2.3zM1442.6 179.4h2.3v15.5h-2.3zM1442.6 164h2.3v15.5h-2.3zM1442.6 71.1h2.3v15.5h-2.3zM1444.9 225.9h2.3v15.5h-2.3zM1444.9 55.6h2.3v15.5h-2.3zM1449.6 102h2.3v15.5h-2.3zM1454.2 272.3h2.3v15.5h-2.3zM1454.2 40.1h2.3v15.5h-2.3zM1454.2 24.6h2.3v15.5h-2.3zM1456.5 241.4h2.3v15.5h-2.3zM1461.2 179.4h2.3v15.5h-2.3zM1461.2 164h2.3v15.5h-2.3zM1468.1 241.4h2.3v15.5h-2.3zM1470.4 225.9h2.3v15.5h-2.3zM1477.4 179.4h2.3v15.5h-2.3zM1477.4 71.1h2.3v15.5h-2.3zM1479.7 241.4h2.3v15.5h-2.3zM1482 241.4h2.3v15.5h-2.3zM1484.3 164h2.3v15.5h-2.3zM1484.3 148.5h2.3v15.5h-2.3zM1484.3 117.5h2.3v15.5h-2.3zM1484.3 102h2.3v15.5h-2.3zM1486.7 179.4h2.3v15.5h-2.3zM1486.7 71.1h2.3v15.5h-2.3zM1491.3 133h2.3v15.5h-2.3zM1493.6 210.4h2.3v15.5h-2.3zM1493.6 164h2.3v15.5h-2.3zM1493.6 71.1h2.3v15.5h-2.3zM1498.3 194.9h2.3v15.5h-2.3zM1498.3 179.4h2.3v15.5h-2.3zM1500.6 225.9h2.3v15.5h-2.3zM1500.6 55.6h2.3v15.5h-2.3zM1507.5 179.4h2.3v15.5h-2.3zM1509.9 55.6h2.3v15.5h-2.3zM1514.5 225.9h2.3v15.5h-2.3zM1514.5 210.4h2.3v15.5h-2.3zM1530.7 148.5h2.3v15.5h-2.3zM1530.7 102h2.3v15.5h-2.3zM1530.7 86.5h2.3v15.5h-2.3zM1558.6 225.9h2.3v15.5h-2.3zM1570.2 133h2.3v15.5h-2.3zM1570.2 117.5h2.3v15.5h-2.3zM1579.4 117.5h2.3v15.5h-2.3zM1593.3 133h2.3v15.5h-2.3zM1593.3 117.5h2.3v15.5h-2.3zM1595.7 117.5h2.3v15.5h-2.3zM1637.4 102h2.3v15.5h-2.3zM1642 133h2.3v15.5h-2.3zM1642 117.5h2.3v15.5h-2.3zM1727.9 102h2.3v15.5h-2.3zM1737.1 117.5h2.3v15.5h-2.3zM1751.1 241.4h2.3v15.5h-2.3zM1795.1 225.9h2.3v15.5h-2.3zM1795.1 179.4h2.3v15.5h-2.3zM1795.1 148.5h2.3v15.5h-2.3zM1795.1 133h2.3v15.5h-2.3z"/>
<path fill="#d2dbc9" shape-rendering="crispEdges" d="M1261.7 117.5h2.3v15.5h-2.3zM1261.7 102h2.3v15.5h-2.3zM1264 210.4h2.3v15.5h-2.3zM1264 194.9h2.3v15.5h-2.3zM1264 164h2.3v15.5h-2.3zM1264 71.1h2.3v15.5h-2.3zM1266.3 133h2.3v15.5h-2.3zM1266.3 86.5h2.3v15.5h-2.3zM1268.7 210.4h2.3v15.5h-2.3zM1268.7 194.9h2.3v15.5h-2.3zM1268.7 179.4h2.3v15.5h-2.3zM1268.7 86.5h2.3v15.5h-2.3zM1271 55.6h2.3v15.5h-2.3zM1273.3 225.9h2.3v15.5h-2.3zM1273.3 55.6h2.3v15.5h-2.3zM1275.6 225.9h2.3v15.5h-2.3zM1275.6 71.1h2.3v15.5h-2.3zM1277.9 148.5h2.3v15.5h-2.3zM1277.9 102h2.3v15.5h-2.3zM1282.6 241.4h2.3v15.5h-2.3zM1282.6 55.6h2.3v15.5h-2.3zM1284.9 194.9h2.3v15.5h-2.3zM1284.9 179.4h2.3v15.5h-2.3zM1284.9 71.1h2.3v15.5h-2.3zM1287.2 210.4h2.3v15.5h-2.3zM1287.2 148.5h2.3v15.5h-2.3zM1287.2 86.5h2.3v15.5h-2.3zM1294.2 256.9h2.3v15.5h-2.3zM1294.2 40.1h2.3v15.5h-2.3zM1296.5 225.9h2.3v15.5h-2.3zM1298.8 210.4h2.3v15.5h-2.3zM1298.8 164h2.3v15.5h-2.3zM1301.1 241.4h2.3v15.5h-2.3zM1301.1 55.6h2.3v15.5h-2.3zM1305.8 272.3h2.3v15.5h-2.3zM1305.8 40.1h2.3v15.5h-2.3zM1308.1 225.9h2.3v15.5h-2.3zM1315 194.9h2.3v15.5h-2.3zM1315 179.4h2.3v15.5h-2.3zM1356.8 179.4h2.3v15.5h-2.3zM1359.1 55.6h2.3v15.5h-2.3zM1361.4 55.6h2.3v15.5h-2.3zM1363.7 55.6h2.3v15.5h-2.3zM1366.1 256.9h2.3v15.5h-2.3zM1368.4 272.3h2.3v15.5h-2.3zM1368.4 256.9h2.3v15.5h-2.3zM1368.4 40.1h2.3v15.5h-2.3zM1370.7 194.9h2.3v15.5h-2.3zM1370.7 179.4h2.3v15.5h-2.3zM1370.7 164h2.3v15.5h-2.3zM1377.7 102h2.3v15.5h-2.3zM1377.7 86.5h2.3v15.5h-2.3zM1382.3 210.4h2.3v15.5h-2.3zM1382.3 194.9h2.3v15.5h-2.3zM1389.3 179.4h2.3v15.5h-2.3zM1389.3 71.1h2.3v15.5h-2.3zM1393.9 133h2.3v15.5h-2.3zM1393.9 102h2.3v15.5h-2.3zM1398.5 117.5h2.3v15.5h-2.3zM1398.5 86.5h2.3v15.5h-2.3zM1419.4 133h2.3v15.5h-2.3zM1419.4 117.5h2.3v15.5h-2.3zM1419.4 102h2.3v15.5h-2.3zM1435.6 179.4h2.3v15.5h-2.3zM1435.6 164h2.3v15.5h-2.3zM1435.6 148.5h2.3v15.5h-2.3zM1435.6 86.5h2.3v15.5h-2.3zM1440.3 179.4h2.3v15.5h-2.3zM1442.6 148.5h2.3v15.5h-2.3zM1442.6 86.5h2.3v15.5h-2.3zM1447.2 210.4h2.3v15.5h-2.3zM1447.2 194.9h2.3v15.5h-2.3zM1447.2 71.1h2.3v15.5h-2.3zM1456.5 225.9h2.3v15.5h-2.3zM1456.5 210.4h2.3v15.5h-2.3zM1461.2 148.5h2.3v15.5h-2.3zM1461.2 86.5h2.3v15.5h-2.3zM1468.1 225.9h2.3v15.5h-2.3zM1470.4 210.4h2.3v15.5h-2.3zM1479.7 55.6h2.3v15.5h-2.3zM1482 225.9h2.3v15.5h-2.3zM1482 210.4h2.3v15.5h-2.3zM1484.3 133h2.3v15.5h-2.3zM1489 210.4h2.3v15.5h-2.3zM1489 194.9h2.3v15.5h-2.3zM1493.6 179.4h2.3v15.5h-2.3zM1493.6 148.5h2.3v15.5h-2.3zM1493.6 86.5h2.3v15.5h-2.3zM1498.3 164h2.3v15.5h-2.3zM1498.3 86.5h2.3v15.5h-2.3zM1502.9 210.4h2.3v15.5h-2.3zM1502.9 194.9h2.3v15.5h-2.3zM1502.9 71.1h2.3v15.5h-2.3zM1507.5 164h2.3v15.5h-2.3zM1507.5 148.5h2.3v15.5h-2.3zM1507.5 133h2.3v15.5h-2.3zM1507.5 102h2.3v15.5h-2.3zM1507.5 86.5h2.3v15.5h-2.3zM1509.9 225.9h2.3v15.5h-2.3zM1509.9 210.4h2.3v15.5h-2.3zM1512.2 225.9h2.3v15.5h-2.3zM1514.5 194.9h2.3v15.5h-2.3zM1514.5 71.1h2.3v15.5h-2.3zM1530.7 133h2.3v15.5h-2.3zM1530.7 117.5h2.3v15.5h-2.3zM1795.1 117.5h2.3v15.5h-2.3zM1795.1 102h2.3v15.5h-2.3z"/>
<path fill="#cad7c2" shape-rendering="crispEdges" d="M1261.7 133h2.3v15.5h-2.3zM1266.3 117.5h2.3v15.5h-2.3zM1268.7 148.5h2.3v15.5h-2.3zM1268.7 102h2.3v15.5h-2.3zM1271 225.9h2.3v15.5h-2.3zM1275.6 210.4h2.3v15.5h-2.3zM1275.6 194.9h2.3v15.5h-2.3zM1277.9 133h2.3v15.5h-2.3zM1277.9 117.5h2.3v15.5h-2.3zM1280.3 225.9h2.3v15.5h-2.3zM1284.9 164h2.3v15.5h-2.3zM1287.2 117.5h2.3v15.5h-2.3zM1289.5 194.9h2.3v15.5h-2.3zM1291.8 225.9h2.3v15.5h-2.3zM1294.2 241.4h2.3v15.5h-2.3zM1294.2 55.6h2.3v15.5h-2.3zM1296.5 194.9h2.3v15.5h-2.3zM1298.8 148.5h2.3v15.5h-2.3zM1298.8 86.5h2.3v15.5h-2.3zM1301.1 225.9h2.3v15.5h-2.3zM1303.4 241.4h2.3v15.5h-2.3zM1303.4 55.6h2.3v15.5h-2.3zM1305.8 256.9h2.3v15.5h-2.3zM1305.8 55.6h2.3v15.5h-2.3zM1310.4 225.9h2.3v15.5h-2.3zM1312.7 287.8h2.3v15.5h-2.3zM1312.7 24.6h2.3v15.5h-2.3zM1315 71.1h2.3v15.5h-2.3zM1356.8 241.4h2.3v15.5h-2.3zM1356.8 194.9h2.3v15.5h-2.3zM1356.8 164h2.3v15.5h-2.3zM1359.1 241.4h2.3v15.5h-2.3zM1361.4 241.4h2.3v15.5h-2.3zM1363.7 241.4h2.3v15.5h-2.3zM1366.1 241.4h2.3v15.5h-2.3zM1368.4 241.4h2.3v15.5h-2.3zM1370.7 241.4h2.3v15.5h-2.3zM1377.7 148.5h2.3v15.5h-2.3zM1377.7 133h2.3v15.5h-2.3zM1382.3 179.4h2.3v15.5h-2.3zM1382.3 71.1h2.3v15.5h-2.3zM1384.6 210.4h2.3v15.5h-2.3zM1384.6 194.9h2.3v15.5h-2.3zM1384.6 71.1h2.3v15.5h-2.3zM1389.3 86.5h2.3v15.5h-2.3zM1398.5 133h2.3v15.5h-2.3zM1435.6 133h2.3v15.5h-2.3zM1440.3 164h2.3v15.5h-2.3zM1442.6 133h2.3v15.5h-2.3zM1442.6 117.5h2.3v15.5h-2.3zM1444.9 210.4h2.3v15.5h-2.3zM1444.9 194.9h2.3v15.5h-2.3zM1447.2 179.4h2.3v15.5h-2.3zM1454.2 256.9h2.3v15.5h-2.3zM1454.2 55.6h2.3v15.5h-2.3zM1456.5 194.9h2.3v15.5h-2.3zM1456.5 71.1h2.3v15.5h-2.3zM1461.2 102h2.3v15.5h-2.3zM1468.1 210.4h2.3v15.5h-2.3zM1470.4 194.9h2.3v15.5h-2.3zM1470.4 179.4h2.3v15.5h-2.3zM1470.4 71.1h2.3v15.5h-2.3zM1477.4 164h2.3v15.5h-2.3zM1477.4 86.5h2.3v15.5h-2.3zM1486.7 164h2.3v15.5h-2.3zM1486.7 148.5h2.3v15.5h-2.3zM1486.7 102h2.3v15.5h-2.3zM1489 179.4h2.3v15.5h-2.3zM1489 71.1h2.3v15.5h-2.3zM1493.6 102h2.3v15.5h-2.3zM1498.3 148.5h2.3v15.5h-2.3zM1498.3 133h2.3v15.5h-2.3zM1498.3 117.5h2.3v15.5h-2.3zM1498.3 102h2.3v15.5h-2.3zM1500.6 210.4h2.3v15.5h-2.3zM1500.6 194.9h2.3v15.5h-2.3zM1500.6 71.1h2.3v15.5h-2.3zM1502.9 179.4h2.3v15.5h-2.3zM1502.9 164h2.3v15.5h-2.3zM1507.5 117.5h2.3v15.5h-2.3zM1509.9 194.9h2.3v15.5h-2.3zM1509.9 71.1h2.3v15.5h-2.3zM1512.2 210.4h2.3v15.5h-2.3zM1514.5 179.4h2.3v15.5h-2.3zM1514.5 86.5h2.3v15.5h-2.3zM1521.5 210.4h2.3v15.5h-2.3zM1751.1 71.1h2.3v15.5h-2.3z"/>
<path fill="#c3d3bc" shape-rendering="crispEdges" d="M1264 148.5h2.3v15.5h-2.3zM1264 133h2.3v15.5h-2.3zM1264 117.5h2.3v15.5h-2.3zM1268.7 133h2.3v15.5h-2.3zM1268.7 117.5h2.3v15.5h-2.3zM1271 194.9h2.3v15.5h-2.3zM1275.6 179.4h2.3v15.5h-2.3zM1275.6 164h2.3v15.5h-2.3zM1280.3 194.9h2.3v15.5h-2.3zM1282.6 225.9h2.3v15.5h-2.3zM1284.9 210.4h2.3v15.5h-2.3zM1284.9 148.5h2.3v15.5h-2.3zM1287.2 133h2.3v15.5h-2.3zM1287.2 102h2.3v15.5h-2.3zM1289.5 179.4h2.3v15.5h-2.3zM1289.5 164h2.3v15.5h-2.3zM1289.5 148.5h2.3v15.5h-2.3zM1289.5 71.1h2.3v15.5h-2.3zM1296.5 179.4h2.3v15.5h-2.3zM1296.5 164h2.3v15.5h-2.3zM1298.8 133h2.3v15.5h-2.3zM1298.8 117.5h2.3v15.5h-2.3zM1305.8 241.4h2.3v15.5h-2.3zM1310.4 194.9h2.3v15.5h-2.3zM1312.7 272.3h2.3v15.5h-2.3zM1312.7 256.9h2.3v15.5h-2.3zM1312.7 40.1h2.3v15.5h-2.3zM1315 210.4h2.3v15.5h-2.3zM1315 164h2.3v15.5h-2.3zM1315 148.5h2.3v15.5h-2.3zM1359.1 164h2.3v15.5h-2.3zM1366.1 55.6h2.3v15.5h-2.3zM1370.7 148.5h2.3v15.5h-2.3zM1370.7 86.5h2.3v15.5h-2.3zM1370.7 71.1h2.3v15.5h-2.3zM1377.7 117.5h2.3v15.5h-2.3zM1382.3 164h2.3v15.5h-2.3zM1384.6 179.4h2.3v15.5h-2.3zM1389.3 164h2.3v15.5h-2.3zM1389.3 148.5h2.3v15.5h-2.3zM1435.6 117.5h2.3v15.5h-2.3zM1435.6 102h2.3v15.5h-2.3zM1440.3 86.5h2.3v15.5h-2.3zM1442.6 102h2.3v15.5h-2.3zM1444.9 71.1h2.3v15.5h-2.3zM1447.2 164h2.3v15.5h-2.3zM1447.2 148.5h2.3v15.5h-2.3zM1447.2 86.5h2.3v15.5h-2.3zM1454.2 241.4h2.3v15.5h-2.3zM1456.5 179.4h2.3v15.5h-2.3zM1461.2 133h2.3v15.5h-2.3zM1461.2 117.5h2.3v15.5h-2.3zM1468.1 71.1h2.3v15.5h-2.3zM1477.4 148.5h2.3v15.5h-2.3zM1477.4 133h2.3v15.5h-2.3zM1477.4 117.5h2.3v15.5h-2.3zM1477.4 102h2.3v15.5h-2.3zM1479.7 225.9h2.3v15.5h-2.3zM1479.7 210.4h2.3v15.5h-2.3zM1482 194.9h2.3v15.5h-2.3zM1482 179.4h2.3v15.5h-2.3zM1482 71.1h2.3v15.5h-2.3zM1486.7 133h2.3v15.5h-2.3zM1486.7 86.5h2.3v15.5h-2.3zM1493.6 133h2.3v15.5h-2.3zM1493.6 117.5h2.3v15.5h-2.3zM1500.6 179.4h2.3v15.5h-2.3zM1502.9 148.5h2.3v15.5h-2.3zM1502.9 86.5h2.3v15.5h-2.3zM1509.9 179.4h2.3v15.5h-2.3zM1512.2 194.9h2.3v15.5h-2.3zM1512.2 71.1h2.3v15.5h-2.3zM1514.5 148.5h2.3v15.5h-2.3zM1614.2 225.9h2.3v15.5h-2.3zM1751.1 194.9h2.3v15.5h-2.3zM1751.1 179.4h2.3v15.5h-2.3z"/>
<path fill="#bccfb5" shape-rendering="crispEdges" d="M1264 86.5h2.3v15.5h-2.3zM1273.3 164h2.3v15.5h-2.3zM1275.6 148.5h2.3v15.5h-2.3zM1275.6 133h2.3v15.5h-2.3zM1275.6 102h2.3v15.5h-2.3zM1280.3 179.4h2.3v15.5h-2.3zM1280.3 164h2.3v15.5h-2.3zM1280.3 71.1h2.3v15.5h-2.3zM1284.9 117.5h2.3v15.5h-2.3zM1284.9 102h2.3v15.5h-2.3zM1284.9 86.5h2.3v15.5h-2.3zM1289.5 210.4h2.3v15.5h-2.3zM1296.5 86.5h2.3v15.5h-2.3zM1296.5 71.1h2.3v15.5h-2.3zM1298.8 102h2.3v15.5h-2.3zM1301.1 71.1h2.3v15.5h-2.3zM1303.4 225.9h2.3v15.5h-2.3zM1308.1 194.9h2.3v15.5h-2.3zM1310.4 179.4h2.3v15.5h-2.3zM1310.4 164h2.3v15.5h-2.3zM1310.4 71.1h2.3v15.5h-2.3zM1315 117.5h2.3v15.5h-2.3zM1315 86.5h2.3v15.5h-2.3zM1356.8 210.4h2.3v15.5h-2.3zM1356.8 71.1h2.3v15.5h-2.3zM1359.1 194.9h2.3v15.5h-2.3zM1359.1 179.4h2.3v15.5h-2.3zM1361.4 194.9h2.3v15.5h-2.3zM1361.4 179.4h2.3v15.5h-2.3zM1363.7 194.9h2.3v15.5h-2.3zM1363.7 179.4h2.3v15.5h-2.3zM1363.7 164h2.3v15.5h-2.3zM1368.4 55.6h2.3v15.5h-2.3zM1382.3 148.5h2.3v15.5h-2.3zM1382.3 86.5h2.3v15.5h-2.3zM1389.3 117.5h2.3v15.5h-2.3zM1440.3 148.5h2.3v15.5h-2.3zM1440.3 133h2.3v15.5h-2.3zM1440.3 117.5h2.3v15.5h-2.3zM1440.3 102h2.3v15.5h-2.3zM1444.9 179.4h2.3v15.5h-2.3zM1444.9 86.5h2.3v15.5h-2.3zM1447.2 133h2.3v15.5h-2.3zM1456.5 86.5h2.3v15.5h-2.3zM1468.1 194.9h2.3v15.5h-2.3zM1470.4 164h2.3v15.5h-2.3zM1470.4 86.5h2.3v15.5h-2.3zM1482 164h2.3v15.5h-2.3zM1482 148.5h2.3v15.5h-2.3zM1486.7 117.5h2.3v15.5h-2.3zM1489 164h2.3v15.5h-2.3zM1489 102h2.3v15.5h-2.3zM1500.6 86.5h2.3v15.5h-2.3zM1502.9 102h2.3v15.5h-2.3zM1509.9 164h2.3v15.5h-2.3zM1512.2 179.4h2.3v15.5h-2.3zM1514.5 164h2.3v15.5h-2.3zM1514.5 117.5h2.3v15.5h-2.3zM1523.8 225.9h2.3v15.5h-2.3zM1751.1 210.4h2.3v15.5h-2.3zM1751.1 164h2.3v15.5h-2.3z"/>
<path fill="#b4cbaf" shape-rendering="crispEdges" d="M1264 102h2.3v15.5h-2.3zM1271 179.4h2.3v15.5h-2.3zM1271 71.1h2.3v15.5h-2.3zM1273.3 210.4h2.3v15.5h-2.3zM1273.3 194.9h2.3v15.5h-2.3zM1273.3 148.5h2.3v15.5h-2.3zM1273.3 71.1h2.3v15.5h-2.3zM1275.6 117.5h2.3v15.5h-2.3zM1275.6 86.5h2.3v15.5h-2.3zM1282.6 194.9h2.3v15.5h-2.3zM1282.6 179.4h2.3v15.5h-2.3zM1284.9 133h2.3v15.5h-2.3zM1289.5 117.5h2.3v15.5h-2.3zM1289.5 86.5h2.3v15.5h-2.3zM1291.8 194.9h2.3v15.5h-2.3zM1291.8 179.4h2.3v15.5h-2.3zM1291.8 164h2.3v15.5h-2.3zM1291.8 71.1h2.3v15.5h-2.3zM1296.5 210.4h2.3v15.5h-2.3zM1301.1 194.9h2.3v15.5h-2.3zM1301.1 179.4h2.3v15.5h-2.3zM1301.1 164h2.3v15.5h-2.3zM1303.4 71.1h2.3v15.5h-2.3zM1305.8 225.9h2.3v15.5h-2.3zM1308.1 210.4h2.3v15.5h-2.3zM1308.1 179.4h2.3v15.5h-2.3zM1308.1 148.5h2.3v15.5h-2.3zM1308.1 71.1h2.3v15.5h-2.3zM1310.4 210.4h2.3v15.5h-2.3zM1312.7 241.4h2.3v15.5h-2.3zM1315 133h2.3v15.5h-2.3zM1356.8 225.9h2.3v15.5h-2.3zM1356.8 148.5h2.3v15.5h-2.3zM1356.8 86.5h2.3v15.5h-2.3zM1361.4 164h2.3v15.5h-2.3zM1361.4 71.1h2.3v15.5h-2.3zM1366.1 194.9h2.3v15.5h-2.3zM1366.1 179.4h2.3v15.5h-2.3zM1382.3 102h2.3v15.5h-2.3zM1384.6 164h2.3v15.5h-2.3zM1384.6 148.5h2.3v15.5h-2.3zM1384.6 102h2.3v15.5h-2.3zM1384.6 86.5h2.3v15.5h-2.3zM1389.3 102h2.3v15.5h-2.3zM1447.2 102h2.3v15.5h-2.3zM1454.2 225.9h2.3v15.5h-2.3zM1456.5 164h2.3v15.5h-2.3zM1456.5 102h2.3v15.5h-2.3zM1468.1 179.4h2.3v15.5h-2.3zM1468.1 86.5h2.3v15.5h-2.3zM1470.4 148.5h2.3v15.5h-2.3zM1470.4 133h2.3v15.5h-2.3zM1479.7 194.9h2.3v15.5h-2.3zM1479.7 179.4h2.3v15.5h-2.3zM1479.7 71.1h2.3v15.5h-2.3zM1482 86.5h2.3v15.5h-2.3zM1489 148.5h2.3v15.5h-2.3zM1489 86.5h2.3v15.5h-2.3zM1500.6 164h2.3v15.5h-2.3zM1502.9 117.5h2.3v15.5h-2.3zM1509.9 148.5h2.3v15.5h-2.3zM1509.9 86.5h2.3v15.5h-2.3zM1512.2 148.5h2.3v15.5h-2.3zM1514.5 133h2.3v15.5h-2.3zM1514.5 102h2.3v15.5h-2.3zM1521.5 225.9h2.3v15.5h-2.3zM1751.1 148.5h2.3v15.5h-2.3zM1751.1 133h2.3v15.5h-2.3zM1751.1 86.5h2.3v15.5h-2.3z"/>
<path fill="#abc7aa" shape-rendering="crispEdges" d="M1271 164h2.3v15.5h-2.3zM1273.3 179.4h2.3v15.5h-2.3zM1273.3 86.5h2.3v15.5h-2.3zM1280.3 210.4h2.3v15.5h-2.3zM1280.3 148.5h2.3v15.5h-2.3zM1282.6 164h2.3v15.5h-2.3zM1282.6 71.1h2.3v15.5h-2.3zM1291.8 210.4h2.3v15.5h-2.3zM1291.8 148.5h2.3v15.5h-2.3zM1294.2 225.9h2.3v15.5h-2.3zM1296.5 148.5h2.3v15.5h-2.3zM1296.5 117.5h2.3v15.5h-2.3zM1296.5 102h2.3v15.5h-2.3zM1301.1 210.4h2.3v15.5h-2.3zM1301.1 86.5h2.3v15.5h-2.3zM1303.4 210.4h2.3v15.5h-2.3zM1303.4 194.9h2.3v15.5h-2.3zM1303.4 179.4h2.3v15.5h-2.3zM1305.8 71.1h2.3v15.5h-2.3zM1308.1 164h2.3v15.5h-2.3zM1310.4 148.5h2.3v15.5h-2.3zM1310.4 86.5h2.3v15.5h-2.3zM1312.7 55.6h2.3v15.5h-2.3zM1315 102h2.3v15.5h-2.3zM1356.8 102h2.3v15.5h-2.3zM1359.1 71.1h2.3v15.5h-2.3zM1370.7 102h2.3v15.5h-2.3zM1382.3 133h2.3v15.5h-2.3zM1389.3 133h2.3v15.5h-2.3zM1444.9 164h2.3v15.5h-2.3zM1444.9 148.5h2.3v15.5h-2.3zM1447.2 117.5h2.3v15.5h-2.3zM1454.2 71.1h2.3v15.5h-2.3zM1456.5 148.5h2.3v15.5h-2.3zM1456.5 117.5h2.3v15.5h-2.3zM1468.1 164h2.3v15.5h-2.3zM1468.1 148.5h2.3v15.5h-2.3zM1470.4 102h2.3v15.5h-2.3zM1479.7 148.5h2.3v15.5h-2.3zM1482 102h2.3v15.5h-2.3zM1489 133h2.3v15.5h-2.3zM1489 117.5h2.3v15.5h-2.3zM1500.6 148.5h2.3v15.5h-2.3zM1500.6 117.5h2.3v15.5h-2.3zM1502.9 133h2.3v15.5h-2.3zM1512.2 164h2.3v15.5h-2.3zM1512.2 86.5h2.3v15.5h-2.3zM1751.1 117.5h2.3v15.5h-2.3zM1751.1 102h2.3v15.5h-2.3z"/>
<path fill="#a3c3a4" shape-rendering="crispEdges" d="M1271 210.4h2.3v15.5h-2.3zM1271 133h2.3v15.5h-2.3zM1271 102h2.3v15.5h-2.3zM1271 86.5h2.3v15.5h-2.3zM1280.3 102h2.3v15.5h-2.3zM1282.6 210.4h2.3v15.5h-2.3zM1289.5 133h2.3v15.5h-2.3zM1289.5 102h2.3v15.5h-2.3zM1291.8 117.5h2.3v15.5h-2.3zM1291.8 102h2.3v15.5h-2.3zM1291.8 86.5h2.3v15.5h-2.3zM1296.5 133h2.3v15.5h-2.3zM1303.4 164h2.3v15.5h-2.3zM1305.8 179.4h2.3v15.5h-2.3zM1308.1 86.5h2.3v15.5h-2.3zM1310.4 117.5h2.3v15.5h-2.3zM1310.4 102h2.3v15.5h-2.3zM1356.8 117.5h2.3v15.5h-2.3zM1359.1 148.5h2.3v15.5h-2.3zM1361.4 148.5h2.3v15.5h-2.3zM1366.1 164h2.3v15.5h-2.3zM1368.4 179.4h2.3v15.5h-2.3zM1368.4 164h2.3v15.5h-2.3zM1370.7 117.5h2.3v15.5h-2.3zM1382.3 117.5h2.3v15.5h-2.3zM1384.6 133h2.3v15.5h-2.3zM1444.9 133h2.3v15.5h-2.3zM1454.2 210.4h2.3v15.5h-2.3zM1468.1 133h2.3v15.5h-2.3zM1470.4 117.5h2.3v15.5h-2.3zM1479.7 102h2.3v15.5h-2.3zM1479.7 86.5h2.3v15.5h-2.3zM1482 133h2.3v15.5h-2.3zM1482 117.5h2.3v15.5h-2.3zM1509.9 133h2.3v15.5h-2.3zM1509.9 102h2.3v15.5h-2.3zM1512.2 133h2.3v15.5h-2.3z"/>
<path fill="#9abf9f" shape-rendering="crispEdges" d="M1271 148.5h2.3v15.5h-2.3zM1273.3 102h2.3v15.5h-2.3zM1280.3 117.5h2.3v15.5h-2.3zM1280.3 86.5h2.3v15.5h-2.3zM1282.6 148.5h2.3v15.5h-2.3zM1301.1 148.5h2.3v15.5h-2.3zM1301.1 133h2.3v15.5h-2.3zM1301.1 117.5h2.3v15.5h-2.3zM1303.4 148.5h2.3v15.5h-2.3zM1303.4 86.5h2.3v15.5h-2.3zM1305.8 210.4h2.3v15.5h-2.3zM1308.1 133h2.3v15.5h-2.3zM1308.1 117.5h2.3v15.5h-2.3zM1310.4 133h2.3v15.5h-2.3zM1359.1 102h2.3v15.5h-2.3zM1359.1 86.5h2.3v15.5h-2.3zM1363.7 148.5h2.3v15.5h-2.3zM1363.7 71.1h2.3v15.5h-2.3zM1368.4 194.9h2.3v15.5h-2.3zM1370.7 133h2.3v15.5h-2.3zM1384.6 117.5h2.3v15.5h-2.3zM1444.9 117.5h2.3v15.5h-2.3zM1444.9 102h2.3v15.5h-2.3zM1454.2 194.9h2.3v15.5h-2.3zM1456.5 133h2.3v15.5h-2.3zM1468.1 117.5h2.3v15.5h-2.3zM1468.1 102h2.3v15.5h-2.3zM1479.7 164h2.3v15.5h-2.3zM1500.6 133h2.3v15.5h-2.3zM1500.6 102h2.3v15.5h-2.3zM1509.9 117.5h2.3v15.5h-2.3zM1512.2 102h2.3v15.5h-2.3z"/>
<path fill="#92bb99" shape-rendering="crispEdges" d="M1273.3 117.5h2.3v15.5h-2.3zM1280.3 133h2.3v15.5h-2.3zM1282.6 133h2.3v15.5h-2.3zM1282.6 86.5h2.3v15.5h-2.3zM1305.8 194.9h2.3v15.5h-2.3zM1305.8 164h2.3v15.5h-2.3zM1308.1 102h2.3v15.5h-2.3zM1359.1 210.4h2.3v15.5h-2.3zM1370.7 210.4h2.3v15.5h-2.3zM1454.2 179.4h2.3v15.5h-2.3zM1512.2 117.5h2.3v15.5h-2.3z"/>
<path fill="#88b795" shape-rendering="crispEdges" d="M1271 117.5h2.3v15.5h-2.3zM1273.3 133h2.3v15.5h-2.3zM1291.8 133h2.3v15.5h-2.3zM1294.2 210.4h2.3v15.5h-2.3zM1294.2 194.9h2.3v15.5h-2.3zM1294.2 179.4h2.3v15.5h-2.3zM1294.2 164h2.3v15.5h-2.3zM1294.2 148.5h2.3v15.5h-2.3zM1294.2 71.1h2.3v15.5h-2.3zM1301.1 102h2.3v15.5h-2.3zM1303.4 133h2.3v15.5h-2.3zM1312.7 225.9h2.3v15.5h-2.3zM1356.8 133h2.3v15.5h-2.3zM1361.4 86.5h2.3v15.5h-2.3zM1366.1 148.5h2.3v15.5h-2.3zM1366.1 71.1h2.3v15.5h-2.3zM1454.2 164h2.3v15.5h-2.3zM1479.7 117.5h2.3v15.5h-2.3z"/>
<path fill="#7fb391" shape-rendering="crispEdges" d="M1282.6 117.5h2.3v15.5h-2.3zM1282.6 102h2.3v15.5h-2.3zM1294.2 86.5h2.3v15.5h-2.3zM1303.4 117.5h2.3v15.5h-2.3zM1359.1 133h2.3v15.5h-2.3zM1361.4 102h2.3v15.5h-2.3zM1363.7 133h2.3v15.5h-2.3zM1363.7 102h2.3v15.5h-2.3zM1363.7 86.5h2.3v15.5h-2.3zM1366.1 86.5h2.3v15.5h-2.3zM1368.4 86.5h2.3v15.5h-2.3zM1368.4 71.1h2.3v15.5h-2.3z"/>
<path fill="#75b08d" shape-rendering="crispEdges" d="M1303.4 102h2.3v15.5h-2.3zM1305.8 148.5h2.3v15.5h-2.3zM1305.8 117.5h2.3v15.5h-2.3zM1305.8 102h2.3v15.5h-2.3zM1359.1 225.9h2.3v15.5h-2.3zM1359.1 117.5h2.3v15.5h-2.3zM1454.2 148.5h2.3v15.5h-2.3zM1454.2 86.5h2.3v15.5h-2.3zM1479.7 133h2.3v15.5h-2.3z"/>
<path fill="#6cac89" shape-rendering="crispEdges" d="M1305.8 86.5h2.3v15.5h-2.3zM1361.4 133h2.3v15.5h-2.3zM1361.4 117.5h2.3v15.5h-2.3zM1363.7 117.5h2.3v15.5h-2.3zM1366.1 102h2.3v15.5h-2.3zM1368.4 148.5h2.3v15.5h-2.3zM1454.2 117.5h2.3v15.5h-2.3zM1454.2 102h2.3v15.5h-2.3zM1751.1 225.9h2.3v15.5h-2.3z"/>
<path fill="#62a885" shape-rendering="crispEdges" d="M1294.2 117.5h2.3v15.5h-2.3zM1294.2 102h2.3v15.5h-2.3zM1305.8 133h2.3v15.5h-2.3zM1312.7 179.4h2.3v15.5h-2.3zM1312.7 164h2.3v15.5h-2.3zM1366.1 210.4h2.3v15.5h-2.3zM1454.2 133h2.3v15.5h-2.3z"/>
<path fill="#58a483" shape-rendering="crispEdges" d="M1312.7 210.4h2.3v15.5h-2.3zM1366.1 117.5h2.3v15.5h-2.3zM1368.4 133h2.3v15.5h-2.3z"/>
<path fill="#4ea080" shape-rendering="crispEdges" d="M1312.7 194.9h2.3v15.5h-2.3zM1312.7 71.1h2.3v15.5h-2.3zM1366.1 133h2.3v15.5h-2.3zM1368.4 117.5h2.3v15.5h-2.3zM1370.7 225.9h2.3v15.5h-2.3z"/>
<path fill="#439b7e" shape-rendering="crispEdges" d="M1294.2 133h2.3v15.5h-2.3zM1368.4 102h2.3v15.5h-2.3z"/>
<path fill="#39977b" shape-rendering="crispEdges" d="M1312.7 86.5h2.3v15.5h-2.3z"/>
<path fill="#2f9379" shape-rendering="crispEdges" d="M1312.7 133h2.3v15.5h-2.3zM1312.7 102h2.3v15.5h-2.3zM1368.4 210.4h2.3v15.5h-2.3z"/>
<path fill="#298d77" shape-rendering="crispEdges" d="M1312.7 148.5h2.3v15.5h-2.3z"/>
<path fill="#1e8273" shape-rendering="crispEdges" d="M1361.4 225.9h2.3v15.5h-2.3z"/>
<path fill="#12766f" shape-rendering="crispEdges" d="M1312.7 117.5h2.3v15.5h-2.3zM1361.4 210.4h2.3v15.5h-2.3zM1363.7 225.9h2.3v15.5h-2.3z"/>
<path fill="#14726e" shape-rendering="crispEdges" d="M1363.7 210.4h2.3v15.5h-2.3z"/>
<path fill="#166d6d" shape-rendering="crispEdges" d="M1366.1 225.9h2.3v15.5h-2.3z"/>
<path fill="#19696b" shape-rendering="crispEdges" d="M1368.4 225.9h2.3v15.5h-2.3z"/>
</g></g>
<rect x="1261.7" y="24.6" width="579.8" height="278.7" fill="none" stroke="#000" stroke-width="1.5"/>
<line x1="1261.7" y1="295.6" x2="1267.7" y2="295.6" stroke="#000" stroke-width="1.5"/>
<text x="1250.6" y="306.5" font-size="33" text-anchor="end">0-4</text>
<line x1="1261.7" y1="218.1" x2="1267.7" y2="218.1" stroke="#000" stroke-width="1.5"/>
<text x="1250.6" y="229" font-size="33" text-anchor="end">25-29</text>
<line x1="1261.7" y1="140.7" x2="1267.7" y2="140.7" stroke="#000" stroke-width="1.5"/>
<text x="1250.6" y="151.6" font-size="33" text-anchor="end">50-54</text>
<line x1="1261.7" y1="63.3" x2="1267.7" y2="63.3" stroke="#000" stroke-width="1.5"/>
<text x="1250.6" y="74.2" font-size="33" text-anchor="end">75-79</text>
<line x1="1262" y1="303.3" x2="1262" y2="297.3" stroke="#000" stroke-width="1.5"/>
<text x="1262" y="337.9" font-size="33" text-anchor="middle">1</text>
<line x1="1376.5" y1="303.3" x2="1376.5" y2="297.3" stroke="#000" stroke-width="1.5"/>
<text x="1376.5" y="337.9" font-size="33" text-anchor="middle">50</text>
<line x1="1492.5" y1="303.3" x2="1492.5" y2="297.3" stroke="#000" stroke-width="1.5"/>
<text x="1492.5" y="337.9" font-size="33" text-anchor="middle">100</text>
<line x1="1608.4" y1="303.3" x2="1608.4" y2="297.3" stroke="#000" stroke-width="1.5"/>
<text x="1608.4" y="337.9" font-size="33" text-anchor="middle">150</text>
<line x1="1724.4" y1="303.3" x2="1724.4" y2="297.3" stroke="#000" stroke-width="1.5"/>
<text x="1724.4" y="337.9" font-size="33" text-anchor="middle">200</text>
<line x1="1841.2" y1="303.3" x2="1841.2" y2="297.3" stroke="#000" stroke-width="1.5"/>
<text x="1841.2" y="337.9" font-size="33" text-anchor="middle">250</text>
<text x="1551.6" y="374.6" font-size="33" text-anchor="middle">region</text>
<text x="1156.6" y="165" font-size="33" text-anchor="middle" transform="rotate(-90 1156.6 165)">age group</text>
<text x="1124.2" y="38.4" font-size="45">(e)</text>
<defs><linearGradient id="ge" x1="0" y1="0" x2="0" y2="1"><stop offset="0.000" stop-color="#1c2149"/><stop offset="0.100" stop-color="#1f3352"/><stop offset="0.200" stop-color="#22495e"/><stop offset="0.300" stop-color="#1d6069"/><stop offset="0.400" stop-color="#12766f"/><stop offset="0.500" stop-color="#2f9379"/><stop offset="0.600" stop-color="#62a885"/><stop offset="0.700" stop-color="#92bb99"/><stop offset="0.800" stop-color="#bccfb5"/><stop offset="0.900" stop-color="#e0e3d6"/><stop offset="1.000" stop-color="#fcf3f1"/></linearGradient></defs>
<rect x="1858" y="27" width="24.9" height="277.2" fill="url(#ge)"/>
<line x1="1885.2" y1="24" x2="1885.2" y2="304.2" stroke="#000" stroke-width="1.4"/>
<line x1="1885.2" y1="303.5" x2="1895.7" y2="303.5" stroke="#000" stroke-width="1.4"/>
<text x="1896.2" y="314.4" font-size="33">0</text>
<line x1="1885.2" y1="275.6" x2="1887.4" y2="275.6" stroke="#333" stroke-width="0.9"/>
<line x1="1885.2" y1="247.6" x2="1887.4" y2="247.6" stroke="#333" stroke-width="0.9"/>
<line x1="1885.2" y1="219.6" x2="1887.4" y2="219.6" stroke="#333" stroke-width="0.9"/>
<line x1="1885.2" y1="191.7" x2="1895.7" y2="191.7" stroke="#000" stroke-width="1.4"/>
<text x="1896.2" y="202.6" font-size="33">0.002</text>
<line x1="1885.2" y1="163.8" x2="1887.4" y2="163.8" stroke="#333" stroke-width="0.9"/>
<line x1="1885.2" y1="135.8" x2="1887.4" y2="135.8" stroke="#333" stroke-width="0.9"/>
<line x1="1885.2" y1="107.8" x2="1887.4" y2="107.8" stroke="#333" stroke-width="0.9"/>
<line x1="1885.2" y1="79.9" x2="1895.7" y2="79.9" stroke="#000" stroke-width="1.4"/>
<text x="1896.2" y="90.8" font-size="33">0.004</text>
<line x1="1885.2" y1="51.9" x2="1887.4" y2="51.9" stroke="#333" stroke-width="0.9"/>
<line x1="1885.2" y1="24" x2="1887.4" y2="24" stroke="#333" stroke-width="0.9"/>
</g>
<g id="panel-f">
<rect x="1264.3" y="430.8" width="579.7" height="278.9" fill="#f1eceb"/>
<defs><clipPath id="clipf"><rect x="1264.3" y="430.8" width="579.7" height="278.9"/></clipPath></defs>
<g clip-path="url(#clipf)"><g transform="translate(0 1)">
<path fill="#ede2df" shape-rendering="crispEdges" d="M1264.3 694.2h2.3v15.5h-2.3zM1264.3 430.8h2.3v15.5h-2.3zM1275.9 430.8h2.3v15.5h-2.3zM1301.4 430.8h2.3v15.5h-2.3zM1317.6 694.2h2.3v15.5h-2.3zM1317.6 430.8h2.3v15.5h-2.3zM1320 632.2h2.3v15.5h-2.3zM1320 601.2h2.3v15.5h-2.3zM1320 585.7h2.3v15.5h-2.3zM1320 570.2h2.3v15.5h-2.3zM1320 477.3h2.3v15.5h-2.3zM1320 461.8h2.3v15.5h-2.3zM1322.3 678.7h2.3v15.5h-2.3zM1322.3 663.2h2.3v15.5h-2.3zM1322.3 647.7h2.3v15.5h-2.3zM1322.3 632.2h2.3v15.5h-2.3zM1322.3 616.7h2.3v15.5h-2.3zM1322.3 601.2h2.3v15.5h-2.3zM1322.3 570.2h2.3v15.5h-2.3zM1322.3 477.3h2.3v15.5h-2.3zM1324.6 616.7h2.3v15.5h-2.3zM1324.6 585.7h2.3v15.5h-2.3zM1324.6 570.2h2.3v15.5h-2.3zM1324.6 554.8h2.3v15.5h-2.3zM1324.6 539.3h2.3v15.5h-2.3zM1324.6 523.8h2.3v15.5h-2.3zM1324.6 508.3h2.3v15.5h-2.3zM1324.6 492.8h2.3v15.5h-2.3zM1326.9 694.2h2.3v15.5h-2.3zM1326.9 678.7h2.3v15.5h-2.3zM1326.9 446.3h2.3v15.5h-2.3zM1326.9 430.8h2.3v15.5h-2.3zM1329.2 539.3h2.3v15.5h-2.3zM1329.2 523.8h2.3v15.5h-2.3zM1331.5 694.2h2.3v15.5h-2.3zM1331.5 678.7h2.3v15.5h-2.3zM1331.5 663.2h2.3v15.5h-2.3zM1331.5 647.7h2.3v15.5h-2.3zM1331.5 461.8h2.3v15.5h-2.3zM1331.5 446.3h2.3v15.5h-2.3zM1333.9 539.3h2.3v15.5h-2.3zM1333.9 523.8h2.3v15.5h-2.3zM1336.2 694.2h2.3v15.5h-2.3zM1336.2 678.7h2.3v15.5h-2.3zM1336.2 663.2h2.3v15.5h-2.3zM1336.2 647.7h2.3v15.5h-2.3zM1336.2 461.8h2.3v15.5h-2.3zM1338.5 539.3h2.3v15.5h-2.3zM1338.5 523.8h2.3v15.5h-2.3zM1338.5 508.3h2.3v15.5h-2.3zM1343.1 632.2h2.3v15.5h-2.3zM1343.1 616.7h2.3v15.5h-2.3zM1343.1 601.2h2.3v15.5h-2.3zM1343.1 585.7h2.3v15.5h-2.3zM1343.1 570.2h2.3v15.5h-2.3zM1343.1 554.8h2.3v15.5h-2.3zM1343.1 539.3h2.3v15.5h-2.3zM1343.1 508.3h2.3v15.5h-2.3zM1343.1 492.8h2.3v15.5h-2.3zM1343.1 477.3h2.3v15.5h-2.3zM1345.5 694.2h2.3v15.5h-2.3zM1345.5 678.7h2.3v15.5h-2.3zM1345.5 663.2h2.3v15.5h-2.3zM1345.5 446.3h2.3v15.5h-2.3zM1345.5 430.8h2.3v15.5h-2.3zM1347.8 554.8h2.3v15.5h-2.3zM1347.8 539.3h2.3v15.5h-2.3zM1347.8 523.8h2.3v15.5h-2.3zM1347.8 508.3h2.3v15.5h-2.3zM1350.1 632.2h2.3v15.5h-2.3zM1350.1 616.7h2.3v15.5h-2.3zM1350.1 601.2h2.3v15.5h-2.3zM1350.1 585.7h2.3v15.5h-2.3zM1350.1 570.2h2.3v15.5h-2.3zM1350.1 554.8h2.3v15.5h-2.3zM1350.1 523.8h2.3v15.5h-2.3zM1350.1 508.3h2.3v15.5h-2.3zM1350.1 492.8h2.3v15.5h-2.3zM1350.1 477.3h2.3v15.5h-2.3zM1352.4 647.7h2.3v15.5h-2.3zM1352.4 632.2h2.3v15.5h-2.3zM1352.4 616.7h2.3v15.5h-2.3zM1352.4 601.2h2.3v15.5h-2.3zM1352.4 585.7h2.3v15.5h-2.3zM1352.4 570.2h2.3v15.5h-2.3zM1352.4 477.3h2.3v15.5h-2.3zM1354.7 554.8h2.3v15.5h-2.3zM1354.7 539.3h2.3v15.5h-2.3zM1354.7 523.8h2.3v15.5h-2.3zM1354.7 508.3h2.3v15.5h-2.3zM1354.7 492.8h2.3v15.5h-2.3zM1357.1 632.2h2.3v15.5h-2.3zM1357.1 616.7h2.3v15.5h-2.3zM1357.1 601.2h2.3v15.5h-2.3zM1357.1 585.7h2.3v15.5h-2.3zM1357.1 570.2h2.3v15.5h-2.3zM1357.1 554.8h2.3v15.5h-2.3zM1357.1 508.3h2.3v15.5h-2.3zM1357.1 492.8h2.3v15.5h-2.3zM1357.1 477.3h2.3v15.5h-2.3zM1375.6 539.3h2.3v15.5h-2.3zM1377.9 632.2h2.3v15.5h-2.3zM1377.9 616.7h2.3v15.5h-2.3zM1377.9 601.2h2.3v15.5h-2.3zM1377.9 585.7h2.3v15.5h-2.3zM1377.9 570.2h2.3v15.5h-2.3zM1377.9 554.8h2.3v15.5h-2.3zM1377.9 523.8h2.3v15.5h-2.3zM1377.9 508.3h2.3v15.5h-2.3zM1377.9 477.3h2.3v15.5h-2.3zM1380.2 694.2h2.3v15.5h-2.3zM1380.2 678.7h2.3v15.5h-2.3zM1380.2 663.2h2.3v15.5h-2.3zM1380.2 647.7h2.3v15.5h-2.3zM1380.2 446.3h2.3v15.5h-2.3zM1380.2 430.8h2.3v15.5h-2.3zM1382.6 585.7h2.3v15.5h-2.3zM1382.6 570.2h2.3v15.5h-2.3zM1382.6 554.8h2.3v15.5h-2.3zM1382.6 539.3h2.3v15.5h-2.3zM1382.6 523.8h2.3v15.5h-2.3zM1382.6 508.3h2.3v15.5h-2.3zM1382.6 492.8h2.3v15.5h-2.3zM1389.5 694.2h2.3v15.5h-2.3zM1389.5 678.7h2.3v15.5h-2.3zM1389.5 663.2h2.3v15.5h-2.3zM1389.5 647.7h2.3v15.5h-2.3zM1389.5 632.2h2.3v15.5h-2.3zM1389.5 461.8h2.3v15.5h-2.3zM1391.8 632.2h2.3v15.5h-2.3zM1391.8 616.7h2.3v15.5h-2.3zM1391.8 601.2h2.3v15.5h-2.3zM1391.8 585.7h2.3v15.5h-2.3zM1391.8 570.2h2.3v15.5h-2.3zM1391.8 554.8h2.3v15.5h-2.3zM1391.8 508.3h2.3v15.5h-2.3zM1391.8 492.8h2.3v15.5h-2.3zM1391.8 477.3h2.3v15.5h-2.3zM1394.2 694.2h2.3v15.5h-2.3zM1394.2 430.8h2.3v15.5h-2.3zM1396.5 678.7h2.3v15.5h-2.3zM1396.5 663.2h2.3v15.5h-2.3zM1396.5 647.7h2.3v15.5h-2.3zM1396.5 461.8h2.3v15.5h-2.3zM1396.5 446.3h2.3v15.5h-2.3zM1398.8 539.3h2.3v15.5h-2.3zM1398.8 523.8h2.3v15.5h-2.3zM1398.8 508.3h2.3v15.5h-2.3zM1401.1 694.2h2.3v15.5h-2.3zM1401.1 446.3h2.3v15.5h-2.3zM1401.1 430.8h2.3v15.5h-2.3zM1403.4 694.2h2.3v15.5h-2.3zM1403.4 446.3h2.3v15.5h-2.3zM1403.4 430.8h2.3v15.5h-2.3zM1405.7 694.2h2.3v15.5h-2.3zM1405.7 678.7h2.3v15.5h-2.3zM1405.7 663.2h2.3v15.5h-2.3zM1405.7 461.8h2.3v15.5h-2.3zM1405.7 446.3h2.3v15.5h-2.3zM1408.1 694.2h2.3v15.5h-2.3zM1408.1 647.7h2.3v15.5h-2.3zM1408.1 446.3h2.3v15.5h-2.3zM1408.1 430.8h2.3v15.5h-2.3zM1410.4 678.7h2.3v15.5h-2.3zM1410.4 663.2h2.3v15.5h-2.3zM1410.4 647.7h2.3v15.5h-2.3zM1410.4 461.8h2.3v15.5h-2.3zM1410.4 446.3h2.3v15.5h-2.3zM1412.7 694.2h2.3v15.5h-2.3zM1412.7 678.7h2.3v15.5h-2.3zM1412.7 663.2h2.3v15.5h-2.3zM1412.7 647.7h2.3v15.5h-2.3zM1412.7 461.8h2.3v15.5h-2.3zM1415 694.2h2.3v15.5h-2.3zM1415 678.7h2.3v15.5h-2.3zM1415 663.2h2.3v15.5h-2.3zM1415 647.7h2.3v15.5h-2.3zM1415 616.7h2.3v15.5h-2.3zM1415 461.8h2.3v15.5h-2.3zM1415 446.3h2.3v15.5h-2.3zM1417.3 663.2h2.3v15.5h-2.3zM1417.3 647.7h2.3v15.5h-2.3zM1417.3 632.2h2.3v15.5h-2.3zM1417.3 616.7h2.3v15.5h-2.3zM1417.3 477.3h2.3v15.5h-2.3zM1417.3 461.8h2.3v15.5h-2.3zM1419.7 570.2h2.3v15.5h-2.3zM1419.7 554.8h2.3v15.5h-2.3zM1419.7 539.3h2.3v15.5h-2.3zM1419.7 523.8h2.3v15.5h-2.3zM1419.7 508.3h2.3v15.5h-2.3zM1419.7 492.8h2.3v15.5h-2.3zM1422 554.8h2.3v15.5h-2.3zM1422 539.3h2.3v15.5h-2.3zM1422 523.8h2.3v15.5h-2.3zM1422 508.3h2.3v15.5h-2.3zM1424.3 694.2h2.3v15.5h-2.3zM1424.3 678.7h2.3v15.5h-2.3zM1424.3 663.2h2.3v15.5h-2.3zM1424.3 461.8h2.3v15.5h-2.3zM1424.3 446.3h2.3v15.5h-2.3zM1426.6 678.7h2.3v15.5h-2.3zM1426.6 663.2h2.3v15.5h-2.3zM1426.6 647.7h2.3v15.5h-2.3zM1426.6 632.2h2.3v15.5h-2.3zM1426.6 616.7h2.3v15.5h-2.3zM1426.6 585.7h2.3v15.5h-2.3zM1426.6 477.3h2.3v15.5h-2.3zM1426.6 461.8h2.3v15.5h-2.3zM1428.9 539.3h2.3v15.5h-2.3zM1428.9 523.8h2.3v15.5h-2.3zM1428.9 508.3h2.3v15.5h-2.3zM1431.3 678.7h2.3v15.5h-2.3zM1431.3 663.2h2.3v15.5h-2.3zM1431.3 647.7h2.3v15.5h-2.3zM1431.3 632.2h2.3v15.5h-2.3zM1431.3 461.8h2.3v15.5h-2.3zM1431.3 446.3h2.3v15.5h-2.3zM1433.6 678.7h2.3v15.5h-2.3zM1433.6 663.2h2.3v15.5h-2.3zM1433.6 647.7h2.3v15.5h-2.3zM1433.6 632.2h2.3v15.5h-2.3zM1433.6 616.7h2.3v15.5h-2.3zM1433.6 461.8h2.3v15.5h-2.3zM1435.9 632.2h2.3v15.5h-2.3zM1435.9 616.7h2.3v15.5h-2.3zM1435.9 601.2h2.3v15.5h-2.3zM1435.9 585.7h2.3v15.5h-2.3zM1435.9 492.8h2.3v15.5h-2.3zM1435.9 477.3h2.3v15.5h-2.3zM1435.9 461.8h2.3v15.5h-2.3zM1442.8 678.7h2.3v15.5h-2.3zM1442.8 663.2h2.3v15.5h-2.3zM1442.8 647.7h2.3v15.5h-2.3zM1442.8 632.2h2.3v15.5h-2.3zM1442.8 461.8h2.3v15.5h-2.3zM1452.1 694.2h2.3v15.5h-2.3zM1452.1 678.7h2.3v15.5h-2.3zM1452.1 663.2h2.3v15.5h-2.3zM1452.1 647.7h2.3v15.5h-2.3zM1452.1 461.8h2.3v15.5h-2.3zM1461.4 678.7h2.3v15.5h-2.3zM1461.4 663.2h2.3v15.5h-2.3zM1461.4 647.7h2.3v15.5h-2.3zM1461.4 632.2h2.3v15.5h-2.3zM1461.4 601.2h2.3v15.5h-2.3zM1461.4 585.7h2.3v15.5h-2.3zM1461.4 461.8h2.3v15.5h-2.3zM1463.7 694.2h2.3v15.5h-2.3zM1463.7 430.8h2.3v15.5h-2.3zM1468.4 430.8h2.3v15.5h-2.3zM1473 632.2h2.3v15.5h-2.3zM1473 616.7h2.3v15.5h-2.3zM1473 601.2h2.3v15.5h-2.3zM1473 585.7h2.3v15.5h-2.3zM1473 570.2h2.3v15.5h-2.3zM1473 554.8h2.3v15.5h-2.3zM1473 523.8h2.3v15.5h-2.3zM1473 492.8h2.3v15.5h-2.3zM1473 477.3h2.3v15.5h-2.3zM1475.3 694.2h2.3v15.5h-2.3zM1475.3 678.7h2.3v15.5h-2.3zM1475.3 663.2h2.3v15.5h-2.3zM1475.3 647.7h2.3v15.5h-2.3zM1475.3 446.3h2.3v15.5h-2.3zM1477.6 678.7h2.3v15.5h-2.3zM1477.6 663.2h2.3v15.5h-2.3zM1477.6 647.7h2.3v15.5h-2.3zM1477.6 461.8h2.3v15.5h-2.3zM1477.6 446.3h2.3v15.5h-2.3zM1486.9 694.2h2.3v15.5h-2.3zM1486.9 678.7h2.3v15.5h-2.3zM1486.9 663.2h2.3v15.5h-2.3zM1486.9 647.7h2.3v15.5h-2.3zM1486.9 461.8h2.3v15.5h-2.3zM1486.9 446.3h2.3v15.5h-2.3zM1489.2 694.2h2.3v15.5h-2.3zM1489.2 678.7h2.3v15.5h-2.3zM1489.2 663.2h2.3v15.5h-2.3zM1489.2 647.7h2.3v15.5h-2.3zM1489.2 461.8h2.3v15.5h-2.3zM1489.2 446.3h2.3v15.5h-2.3zM1491.5 694.2h2.3v15.5h-2.3zM1491.5 678.7h2.3v15.5h-2.3zM1491.5 446.3h2.3v15.5h-2.3zM1491.5 430.8h2.3v15.5h-2.3zM1493.9 430.8h2.3v15.5h-2.3zM1496.2 632.2h2.3v15.5h-2.3zM1496.2 616.7h2.3v15.5h-2.3zM1496.2 601.2h2.3v15.5h-2.3zM1496.2 585.7h2.3v15.5h-2.3zM1496.2 570.2h2.3v15.5h-2.3zM1496.2 554.8h2.3v15.5h-2.3zM1496.2 508.3h2.3v15.5h-2.3zM1496.2 492.8h2.3v15.5h-2.3zM1496.2 477.3h2.3v15.5h-2.3zM1498.5 632.2h2.3v15.5h-2.3zM1498.5 616.7h2.3v15.5h-2.3zM1498.5 601.2h2.3v15.5h-2.3zM1498.5 585.7h2.3v15.5h-2.3zM1498.5 570.2h2.3v15.5h-2.3zM1498.5 477.3h2.3v15.5h-2.3zM1500.8 632.2h2.3v15.5h-2.3zM1500.8 616.7h2.3v15.5h-2.3zM1500.8 601.2h2.3v15.5h-2.3zM1500.8 585.7h2.3v15.5h-2.3zM1500.8 570.2h2.3v15.5h-2.3zM1500.8 554.8h2.3v15.5h-2.3zM1500.8 508.3h2.3v15.5h-2.3zM1500.8 492.8h2.3v15.5h-2.3zM1500.8 477.3h2.3v15.5h-2.3zM1505.5 647.7h2.3v15.5h-2.3zM1505.5 632.2h2.3v15.5h-2.3zM1505.5 601.2h2.3v15.5h-2.3zM1505.5 585.7h2.3v15.5h-2.3zM1505.5 461.8h2.3v15.5h-2.3zM1510.1 647.7h2.3v15.5h-2.3zM1510.1 632.2h2.3v15.5h-2.3zM1510.1 616.7h2.3v15.5h-2.3zM1510.1 601.2h2.3v15.5h-2.3zM1510.1 585.7h2.3v15.5h-2.3zM1510.1 570.2h2.3v15.5h-2.3zM1510.1 477.3h2.3v15.5h-2.3zM1524 554.8h2.3v15.5h-2.3zM1524 539.3h2.3v15.5h-2.3zM1524 523.8h2.3v15.5h-2.3zM1524 508.3h2.3v15.5h-2.3zM1524 492.8h2.3v15.5h-2.3zM1526.3 539.3h2.3v15.5h-2.3zM1526.3 523.8h2.3v15.5h-2.3zM1528.6 539.3h2.3v15.5h-2.3zM1528.6 523.8h2.3v15.5h-2.3zM1528.6 508.3h2.3v15.5h-2.3zM1531 647.7h2.3v15.5h-2.3zM1531 632.2h2.3v15.5h-2.3zM1531 616.7h2.3v15.5h-2.3zM1531 601.2h2.3v15.5h-2.3zM1531 585.7h2.3v15.5h-2.3zM1531 570.2h2.3v15.5h-2.3zM1531 477.3h2.3v15.5h-2.3zM1535.6 539.3h2.3v15.5h-2.3zM1535.6 523.8h2.3v15.5h-2.3zM1535.6 508.3h2.3v15.5h-2.3zM1537.9 616.7h2.3v15.5h-2.3zM1537.9 601.2h2.3v15.5h-2.3zM1537.9 585.7h2.3v15.5h-2.3zM1537.9 570.2h2.3v15.5h-2.3zM1537.9 554.8h2.3v15.5h-2.3zM1537.9 539.3h2.3v15.5h-2.3zM1537.9 508.3h2.3v15.5h-2.3zM1537.9 492.8h2.3v15.5h-2.3zM1537.9 477.3h2.3v15.5h-2.3zM1540.2 694.2h2.3v15.5h-2.3zM1540.2 678.7h2.3v15.5h-2.3zM1540.2 663.2h2.3v15.5h-2.3zM1540.2 647.7h2.3v15.5h-2.3zM1540.2 632.2h2.3v15.5h-2.3zM1540.2 461.8h2.3v15.5h-2.3zM1542.6 632.2h2.3v15.5h-2.3zM1542.6 616.7h2.3v15.5h-2.3zM1542.6 601.2h2.3v15.5h-2.3zM1542.6 585.7h2.3v15.5h-2.3zM1542.6 554.8h2.3v15.5h-2.3zM1542.6 477.3h2.3v15.5h-2.3zM1544.9 647.7h2.3v15.5h-2.3zM1544.9 632.2h2.3v15.5h-2.3zM1544.9 616.7h2.3v15.5h-2.3zM1544.9 601.2h2.3v15.5h-2.3zM1544.9 585.7h2.3v15.5h-2.3zM1544.9 477.3h2.3v15.5h-2.3zM1547.2 663.2h2.3v15.5h-2.3zM1547.2 647.7h2.3v15.5h-2.3zM1547.2 632.2h2.3v15.5h-2.3zM1547.2 616.7h2.3v15.5h-2.3zM1547.2 601.2h2.3v15.5h-2.3zM1547.2 585.7h2.3v15.5h-2.3zM1547.2 570.2h2.3v15.5h-2.3zM1547.2 477.3h2.3v15.5h-2.3zM1547.2 461.8h2.3v15.5h-2.3zM1549.5 678.7h2.3v15.5h-2.3zM1549.5 663.2h2.3v15.5h-2.3zM1549.5 647.7h2.3v15.5h-2.3zM1549.5 632.2h2.3v15.5h-2.3zM1549.5 616.7h2.3v15.5h-2.3zM1549.5 601.2h2.3v15.5h-2.3zM1549.5 477.3h2.3v15.5h-2.3zM1549.5 461.8h2.3v15.5h-2.3zM1551.8 678.7h2.3v15.5h-2.3zM1551.8 663.2h2.3v15.5h-2.3zM1551.8 647.7h2.3v15.5h-2.3zM1551.8 632.2h2.3v15.5h-2.3zM1551.8 461.8h2.3v15.5h-2.3zM1556.5 647.7h2.3v15.5h-2.3zM1556.5 632.2h2.3v15.5h-2.3zM1556.5 616.7h2.3v15.5h-2.3zM1556.5 601.2h2.3v15.5h-2.3zM1556.5 585.7h2.3v15.5h-2.3zM1556.5 570.2h2.3v15.5h-2.3zM1556.5 554.8h2.3v15.5h-2.3zM1556.5 539.3h2.3v15.5h-2.3zM1556.5 523.8h2.3v15.5h-2.3zM1556.5 508.3h2.3v15.5h-2.3zM1556.5 492.8h2.3v15.5h-2.3zM1556.5 477.3h2.3v15.5h-2.3zM1582 601.2h2.3v15.5h-2.3zM1582 570.2h2.3v15.5h-2.3zM1582 554.8h2.3v15.5h-2.3zM1582 523.8h2.3v15.5h-2.3zM1582 508.3h2.3v15.5h-2.3zM1582 492.8h2.3v15.5h-2.3zM1588.9 585.7h2.3v15.5h-2.3zM1588.9 554.8h2.3v15.5h-2.3zM1588.9 539.3h2.3v15.5h-2.3zM1588.9 523.8h2.3v15.5h-2.3zM1588.9 508.3h2.3v15.5h-2.3zM1612.1 632.2h2.3v15.5h-2.3zM1612.1 601.2h2.3v15.5h-2.3zM1612.1 585.7h2.3v15.5h-2.3zM1612.1 554.8h2.3v15.5h-2.3zM1612.1 539.3h2.3v15.5h-2.3zM1612.1 523.8h2.3v15.5h-2.3zM1612.1 508.3h2.3v15.5h-2.3zM1612.1 492.8h2.3v15.5h-2.3zM1612.1 477.3h2.3v15.5h-2.3zM1630.7 663.2h2.3v15.5h-2.3zM1630.7 632.2h2.3v15.5h-2.3zM1630.7 601.2h2.3v15.5h-2.3zM1630.7 570.2h2.3v15.5h-2.3zM1630.7 554.8h2.3v15.5h-2.3zM1630.7 539.3h2.3v15.5h-2.3zM1630.7 523.8h2.3v15.5h-2.3zM1630.7 508.3h2.3v15.5h-2.3zM1630.7 492.8h2.3v15.5h-2.3zM1630.7 477.3h2.3v15.5h-2.3zM1630.7 461.8h2.3v15.5h-2.3zM1633 678.7h2.3v15.5h-2.3zM1633 663.2h2.3v15.5h-2.3zM1633 647.7h2.3v15.5h-2.3zM1633 632.2h2.3v15.5h-2.3zM1633 616.7h2.3v15.5h-2.3zM1633 601.2h2.3v15.5h-2.3zM1633 585.7h2.3v15.5h-2.3zM1633 570.2h2.3v15.5h-2.3zM1633 554.8h2.3v15.5h-2.3zM1633 539.3h2.3v15.5h-2.3zM1633 508.3h2.3v15.5h-2.3zM1633 492.8h2.3v15.5h-2.3zM1633 477.3h2.3v15.5h-2.3zM1633 461.8h2.3v15.5h-2.3zM1633 446.3h2.3v15.5h-2.3zM1633 430.8h2.3v15.5h-2.3zM1642.3 570.2h2.3v15.5h-2.3zM1642.3 554.8h2.3v15.5h-2.3zM1642.3 539.3h2.3v15.5h-2.3zM1642.3 523.8h2.3v15.5h-2.3zM1642.3 508.3h2.3v15.5h-2.3zM1642.3 492.8h2.3v15.5h-2.3zM1646.9 632.2h2.3v15.5h-2.3zM1646.9 616.7h2.3v15.5h-2.3zM1646.9 601.2h2.3v15.5h-2.3zM1646.9 585.7h2.3v15.5h-2.3zM1646.9 570.2h2.3v15.5h-2.3zM1646.9 554.8h2.3v15.5h-2.3zM1646.9 539.3h2.3v15.5h-2.3zM1646.9 523.8h2.3v15.5h-2.3zM1646.9 508.3h2.3v15.5h-2.3zM1646.9 492.8h2.3v15.5h-2.3zM1646.9 477.3h2.3v15.5h-2.3zM1658.5 616.7h2.3v15.5h-2.3zM1658.5 601.2h2.3v15.5h-2.3zM1658.5 585.7h2.3v15.5h-2.3zM1658.5 570.2h2.3v15.5h-2.3zM1658.5 554.8h2.3v15.5h-2.3zM1658.5 539.3h2.3v15.5h-2.3zM1658.5 523.8h2.3v15.5h-2.3zM1658.5 508.3h2.3v15.5h-2.3zM1658.5 492.8h2.3v15.5h-2.3zM1658.5 477.3h2.3v15.5h-2.3zM1670.1 616.7h2.3v15.5h-2.3zM1670.1 554.8h2.3v15.5h-2.3zM1670.1 539.3h2.3v15.5h-2.3zM1670.1 523.8h2.3v15.5h-2.3zM1670.1 508.3h2.3v15.5h-2.3zM1670.1 492.8h2.3v15.5h-2.3zM1670.1 477.3h2.3v15.5h-2.3zM1674.7 539.3h2.3v15.5h-2.3zM1674.7 523.8h2.3v15.5h-2.3zM1674.7 492.8h2.3v15.5h-2.3zM1677 508.3h2.3v15.5h-2.3zM1679.4 632.2h2.3v15.5h-2.3zM1679.4 616.7h2.3v15.5h-2.3zM1679.4 601.2h2.3v15.5h-2.3zM1679.4 585.7h2.3v15.5h-2.3zM1679.4 570.2h2.3v15.5h-2.3zM1679.4 554.8h2.3v15.5h-2.3zM1679.4 539.3h2.3v15.5h-2.3zM1679.4 523.8h2.3v15.5h-2.3zM1679.4 508.3h2.3v15.5h-2.3zM1679.4 492.8h2.3v15.5h-2.3zM1679.4 477.3h2.3v15.5h-2.3zM1684 663.2h2.3v15.5h-2.3zM1684 647.7h2.3v15.5h-2.3zM1684 632.2h2.3v15.5h-2.3zM1684 616.7h2.3v15.5h-2.3zM1684 601.2h2.3v15.5h-2.3zM1684 585.7h2.3v15.5h-2.3zM1684 570.2h2.3v15.5h-2.3zM1684 554.8h2.3v15.5h-2.3zM1684 539.3h2.3v15.5h-2.3zM1684 523.8h2.3v15.5h-2.3zM1684 508.3h2.3v15.5h-2.3zM1684 492.8h2.3v15.5h-2.3zM1684 477.3h2.3v15.5h-2.3zM1684 446.3h2.3v15.5h-2.3zM1693.3 647.7h2.3v15.5h-2.3zM1693.3 632.2h2.3v15.5h-2.3zM1693.3 601.2h2.3v15.5h-2.3zM1693.3 570.2h2.3v15.5h-2.3zM1693.3 554.8h2.3v15.5h-2.3zM1693.3 539.3h2.3v15.5h-2.3zM1693.3 523.8h2.3v15.5h-2.3zM1693.3 508.3h2.3v15.5h-2.3zM1693.3 492.8h2.3v15.5h-2.3zM1693.3 477.3h2.3v15.5h-2.3zM1695.6 647.7h2.3v15.5h-2.3zM1695.6 632.2h2.3v15.5h-2.3zM1695.6 616.7h2.3v15.5h-2.3zM1695.6 601.2h2.3v15.5h-2.3zM1695.6 585.7h2.3v15.5h-2.3zM1695.6 570.2h2.3v15.5h-2.3zM1695.6 554.8h2.3v15.5h-2.3zM1695.6 539.3h2.3v15.5h-2.3zM1695.6 523.8h2.3v15.5h-2.3zM1695.6 508.3h2.3v15.5h-2.3zM1695.6 492.8h2.3v15.5h-2.3zM1695.6 477.3h2.3v15.5h-2.3zM1695.6 461.8h2.3v15.5h-2.3zM1704.9 616.7h2.3v15.5h-2.3zM1704.9 570.2h2.3v15.5h-2.3zM1704.9 554.8h2.3v15.5h-2.3zM1704.9 539.3h2.3v15.5h-2.3zM1704.9 523.8h2.3v15.5h-2.3zM1704.9 508.3h2.3v15.5h-2.3zM1711.8 678.7h2.3v15.5h-2.3zM1711.8 663.2h2.3v15.5h-2.3zM1711.8 647.7h2.3v15.5h-2.3zM1711.8 632.2h2.3v15.5h-2.3zM1711.8 616.7h2.3v15.5h-2.3zM1711.8 601.2h2.3v15.5h-2.3zM1711.8 585.7h2.3v15.5h-2.3zM1711.8 570.2h2.3v15.5h-2.3zM1711.8 554.8h2.3v15.5h-2.3zM1711.8 539.3h2.3v15.5h-2.3zM1711.8 523.8h2.3v15.5h-2.3zM1711.8 508.3h2.3v15.5h-2.3zM1711.8 492.8h2.3v15.5h-2.3zM1711.8 477.3h2.3v15.5h-2.3zM1711.8 461.8h2.3v15.5h-2.3zM1711.8 446.3h2.3v15.5h-2.3zM1723.4 523.8h2.3v15.5h-2.3zM1728.1 539.3h2.3v15.5h-2.3zM1730.4 663.2h2.3v15.5h-2.3zM1730.4 647.7h2.3v15.5h-2.3zM1730.4 632.2h2.3v15.5h-2.3zM1730.4 616.7h2.3v15.5h-2.3zM1730.4 601.2h2.3v15.5h-2.3zM1730.4 585.7h2.3v15.5h-2.3zM1730.4 570.2h2.3v15.5h-2.3zM1730.4 554.8h2.3v15.5h-2.3zM1730.4 523.8h2.3v15.5h-2.3zM1730.4 492.8h2.3v15.5h-2.3zM1730.4 477.3h2.3v15.5h-2.3zM1730.4 461.8h2.3v15.5h-2.3zM1730.4 430.8h2.3v15.5h-2.3zM1732.7 694.2h2.3v15.5h-2.3zM1732.7 663.2h2.3v15.5h-2.3zM1732.7 647.7h2.3v15.5h-2.3zM1732.7 632.2h2.3v15.5h-2.3zM1732.7 616.7h2.3v15.5h-2.3zM1732.7 601.2h2.3v15.5h-2.3zM1732.7 585.7h2.3v15.5h-2.3zM1732.7 570.2h2.3v15.5h-2.3zM1732.7 554.8h2.3v15.5h-2.3zM1732.7 539.3h2.3v15.5h-2.3zM1732.7 508.3h2.3v15.5h-2.3zM1732.7 492.8h2.3v15.5h-2.3zM1732.7 477.3h2.3v15.5h-2.3zM1732.7 461.8h2.3v15.5h-2.3zM1732.7 446.3h2.3v15.5h-2.3zM1735 647.7h2.3v15.5h-2.3zM1735 616.7h2.3v15.5h-2.3zM1735 601.2h2.3v15.5h-2.3zM1735 585.7h2.3v15.5h-2.3zM1735 570.2h2.3v15.5h-2.3zM1735 554.8h2.3v15.5h-2.3zM1735 539.3h2.3v15.5h-2.3zM1735 523.8h2.3v15.5h-2.3zM1735 508.3h2.3v15.5h-2.3zM1735 492.8h2.3v15.5h-2.3zM1735 477.3h2.3v15.5h-2.3zM1735 461.8h2.3v15.5h-2.3zM1737.3 694.2h2.3v15.5h-2.3zM1737.3 678.7h2.3v15.5h-2.3zM1737.3 663.2h2.3v15.5h-2.3zM1737.3 647.7h2.3v15.5h-2.3zM1737.3 632.2h2.3v15.5h-2.3zM1737.3 477.3h2.3v15.5h-2.3zM1737.3 461.8h2.3v15.5h-2.3zM1737.3 446.3h2.3v15.5h-2.3zM1737.3 430.8h2.3v15.5h-2.3zM1742 694.2h2.3v15.5h-2.3zM1742 678.7h2.3v15.5h-2.3zM1742 663.2h2.3v15.5h-2.3zM1742 647.7h2.3v15.5h-2.3zM1742 632.2h2.3v15.5h-2.3zM1742 601.2h2.3v15.5h-2.3zM1742 585.7h2.3v15.5h-2.3zM1742 570.2h2.3v15.5h-2.3zM1742 477.3h2.3v15.5h-2.3zM1742 461.8h2.3v15.5h-2.3zM1742 446.3h2.3v15.5h-2.3zM1742 430.8h2.3v15.5h-2.3zM1744.3 570.2h2.3v15.5h-2.3zM1744.3 554.8h2.3v15.5h-2.3zM1744.3 539.3h2.3v15.5h-2.3zM1744.3 523.8h2.3v15.5h-2.3zM1744.3 508.3h2.3v15.5h-2.3zM1744.3 492.8h2.3v15.5h-2.3zM1746.6 554.8h2.3v15.5h-2.3zM1746.6 539.3h2.3v15.5h-2.3zM1746.6 523.8h2.3v15.5h-2.3zM1746.6 508.3h2.3v15.5h-2.3zM1748.9 601.2h2.3v15.5h-2.3zM1748.9 585.7h2.3v15.5h-2.3zM1748.9 570.2h2.3v15.5h-2.3zM1748.9 554.8h2.3v15.5h-2.3zM1748.9 539.3h2.3v15.5h-2.3zM1748.9 523.8h2.3v15.5h-2.3zM1748.9 508.3h2.3v15.5h-2.3zM1748.9 492.8h2.3v15.5h-2.3zM1755.9 678.7h2.3v15.5h-2.3zM1755.9 663.2h2.3v15.5h-2.3zM1755.9 647.7h2.3v15.5h-2.3zM1755.9 632.2h2.3v15.5h-2.3zM1755.9 616.7h2.3v15.5h-2.3zM1755.9 601.2h2.3v15.5h-2.3zM1755.9 585.7h2.3v15.5h-2.3zM1755.9 570.2h2.3v15.5h-2.3zM1755.9 554.8h2.3v15.5h-2.3zM1755.9 539.3h2.3v15.5h-2.3zM1755.9 523.8h2.3v15.5h-2.3zM1755.9 508.3h2.3v15.5h-2.3zM1755.9 492.8h2.3v15.5h-2.3zM1755.9 477.3h2.3v15.5h-2.3zM1755.9 461.8h2.3v15.5h-2.3zM1755.9 446.3h2.3v15.5h-2.3zM1758.2 678.7h2.3v15.5h-2.3zM1758.2 663.2h2.3v15.5h-2.3zM1762.8 694.2h2.3v15.5h-2.3zM1762.8 678.7h2.3v15.5h-2.3zM1762.8 663.2h2.3v15.5h-2.3zM1762.8 647.7h2.3v15.5h-2.3zM1762.8 632.2h2.3v15.5h-2.3zM1762.8 616.7h2.3v15.5h-2.3zM1762.8 585.7h2.3v15.5h-2.3zM1762.8 570.2h2.3v15.5h-2.3zM1762.8 554.8h2.3v15.5h-2.3zM1762.8 477.3h2.3v15.5h-2.3zM1762.8 461.8h2.3v15.5h-2.3zM1762.8 446.3h2.3v15.5h-2.3zM1762.8 430.8h2.3v15.5h-2.3zM1767.5 694.2h2.3v15.5h-2.3zM1767.5 678.7h2.3v15.5h-2.3zM1767.5 663.2h2.3v15.5h-2.3zM1767.5 647.7h2.3v15.5h-2.3zM1767.5 632.2h2.3v15.5h-2.3zM1767.5 616.7h2.3v15.5h-2.3zM1767.5 601.2h2.3v15.5h-2.3zM1767.5 585.7h2.3v15.5h-2.3zM1767.5 570.2h2.3v15.5h-2.3zM1767.5 523.8h2.3v15.5h-2.3zM1767.5 508.3h2.3v15.5h-2.3zM1767.5 492.8h2.3v15.5h-2.3zM1767.5 477.3h2.3v15.5h-2.3zM1767.5 461.8h2.3v15.5h-2.3zM1767.5 446.3h2.3v15.5h-2.3zM1772.1 694.2h2.3v15.5h-2.3zM1772.1 678.7h2.3v15.5h-2.3zM1772.1 446.3h2.3v15.5h-2.3zM1772.1 430.8h2.3v15.5h-2.3zM1774.4 694.2h2.3v15.5h-2.3zM1776.8 678.7h2.3v15.5h-2.3zM1776.8 647.7h2.3v15.5h-2.3zM1776.8 632.2h2.3v15.5h-2.3zM1776.8 616.7h2.3v15.5h-2.3zM1776.8 601.2h2.3v15.5h-2.3zM1776.8 585.7h2.3v15.5h-2.3zM1776.8 570.2h2.3v15.5h-2.3zM1776.8 554.8h2.3v15.5h-2.3zM1776.8 539.3h2.3v15.5h-2.3zM1776.8 523.8h2.3v15.5h-2.3zM1776.8 508.3h2.3v15.5h-2.3zM1776.8 492.8h2.3v15.5h-2.3zM1776.8 477.3h2.3v15.5h-2.3zM1776.8 461.8h2.3v15.5h-2.3zM1776.8 446.3h2.3v15.5h-2.3zM1779.1 678.7h2.3v15.5h-2.3zM1779.1 663.2h2.3v15.5h-2.3zM1779.1 647.7h2.3v15.5h-2.3zM1779.1 632.2h2.3v15.5h-2.3zM1779.1 616.7h2.3v15.5h-2.3zM1779.1 601.2h2.3v15.5h-2.3zM1779.1 585.7h2.3v15.5h-2.3zM1779.1 570.2h2.3v15.5h-2.3zM1779.1 554.8h2.3v15.5h-2.3zM1779.1 539.3h2.3v15.5h-2.3zM1779.1 523.8h2.3v15.5h-2.3zM1779.1 492.8h2.3v15.5h-2.3zM1779.1 477.3h2.3v15.5h-2.3zM1781.4 632.2h2.3v15.5h-2.3zM1781.4 616.7h2.3v15.5h-2.3zM1781.4 601.2h2.3v15.5h-2.3zM1781.4 585.7h2.3v15.5h-2.3zM1781.4 570.2h2.3v15.5h-2.3zM1781.4 554.8h2.3v15.5h-2.3zM1781.4 539.3h2.3v15.5h-2.3zM1781.4 523.8h2.3v15.5h-2.3zM1781.4 508.3h2.3v15.5h-2.3zM1781.4 492.8h2.3v15.5h-2.3zM1781.4 477.3h2.3v15.5h-2.3zM1783.7 647.7h2.3v15.5h-2.3zM1783.7 632.2h2.3v15.5h-2.3zM1783.7 616.7h2.3v15.5h-2.3zM1783.7 601.2h2.3v15.5h-2.3zM1783.7 585.7h2.3v15.5h-2.3zM1783.7 570.2h2.3v15.5h-2.3zM1783.7 554.8h2.3v15.5h-2.3zM1783.7 539.3h2.3v15.5h-2.3zM1783.7 523.8h2.3v15.5h-2.3zM1783.7 508.3h2.3v15.5h-2.3zM1783.7 492.8h2.3v15.5h-2.3zM1783.7 477.3h2.3v15.5h-2.3zM1788.3 678.7h2.3v15.5h-2.3zM1788.3 663.2h2.3v15.5h-2.3zM1788.3 647.7h2.3v15.5h-2.3zM1788.3 632.2h2.3v15.5h-2.3zM1788.3 616.7h2.3v15.5h-2.3zM1788.3 601.2h2.3v15.5h-2.3zM1788.3 585.7h2.3v15.5h-2.3zM1788.3 570.2h2.3v15.5h-2.3zM1788.3 554.8h2.3v15.5h-2.3zM1788.3 539.3h2.3v15.5h-2.3zM1788.3 523.8h2.3v15.5h-2.3zM1788.3 508.3h2.3v15.5h-2.3zM1788.3 492.8h2.3v15.5h-2.3zM1788.3 477.3h2.3v15.5h-2.3zM1788.3 461.8h2.3v15.5h-2.3zM1788.3 446.3h2.3v15.5h-2.3zM1790.7 554.8h2.3v15.5h-2.3zM1790.7 539.3h2.3v15.5h-2.3zM1790.7 508.3h2.3v15.5h-2.3zM1793 694.2h2.3v15.5h-2.3zM1793 678.7h2.3v15.5h-2.3zM1793 663.2h2.3v15.5h-2.3zM1793 647.7h2.3v15.5h-2.3zM1793 632.2h2.3v15.5h-2.3zM1793 601.2h2.3v15.5h-2.3zM1793 570.2h2.3v15.5h-2.3zM1793 554.8h2.3v15.5h-2.3zM1793 461.8h2.3v15.5h-2.3zM1793 446.3h2.3v15.5h-2.3zM1793 430.8h2.3v15.5h-2.3zM1795.3 678.7h2.3v15.5h-2.3zM1795.3 663.2h2.3v15.5h-2.3zM1795.3 647.7h2.3v15.5h-2.3zM1795.3 632.2h2.3v15.5h-2.3zM1795.3 616.7h2.3v15.5h-2.3zM1795.3 601.2h2.3v15.5h-2.3zM1795.3 585.7h2.3v15.5h-2.3zM1795.3 570.2h2.3v15.5h-2.3zM1795.3 554.8h2.3v15.5h-2.3zM1795.3 539.3h2.3v15.5h-2.3zM1795.3 523.8h2.3v15.5h-2.3zM1795.3 508.3h2.3v15.5h-2.3zM1795.3 492.8h2.3v15.5h-2.3zM1795.3 477.3h2.3v15.5h-2.3zM1795.3 446.3h2.3v15.5h-2.3zM1797.6 616.7h2.3v15.5h-2.3zM1797.6 601.2h2.3v15.5h-2.3zM1797.6 570.2h2.3v15.5h-2.3zM1797.6 554.8h2.3v15.5h-2.3zM1797.6 539.3h2.3v15.5h-2.3zM1797.6 523.8h2.3v15.5h-2.3zM1797.6 508.3h2.3v15.5h-2.3zM1797.6 492.8h2.3v15.5h-2.3zM1799.9 678.7h2.3v15.5h-2.3zM1799.9 663.2h2.3v15.5h-2.3zM1799.9 647.7h2.3v15.5h-2.3zM1799.9 632.2h2.3v15.5h-2.3zM1799.9 616.7h2.3v15.5h-2.3zM1799.9 585.7h2.3v15.5h-2.3zM1799.9 477.3h2.3v15.5h-2.3zM1799.9 461.8h2.3v15.5h-2.3zM1799.9 446.3h2.3v15.5h-2.3zM1799.9 430.8h2.3v15.5h-2.3zM1818.5 632.2h2.3v15.5h-2.3zM1818.5 616.7h2.3v15.5h-2.3zM1818.5 585.7h2.3v15.5h-2.3zM1818.5 570.2h2.3v15.5h-2.3zM1818.5 554.8h2.3v15.5h-2.3zM1818.5 539.3h2.3v15.5h-2.3zM1818.5 523.8h2.3v15.5h-2.3zM1818.5 508.3h2.3v15.5h-2.3zM1818.5 492.8h2.3v15.5h-2.3zM1818.5 477.3h2.3v15.5h-2.3zM1830.1 632.2h2.3v15.5h-2.3zM1830.1 616.7h2.3v15.5h-2.3zM1830.1 585.7h2.3v15.5h-2.3zM1830.1 570.2h2.3v15.5h-2.3zM1830.1 554.8h2.3v15.5h-2.3zM1830.1 539.3h2.3v15.5h-2.3zM1830.1 523.8h2.3v15.5h-2.3zM1830.1 508.3h2.3v15.5h-2.3zM1830.1 492.8h2.3v15.5h-2.3zM1830.1 477.3h2.3v15.5h-2.3zM1830.1 461.8h2.3v15.5h-2.3zM1837 585.7h2.3v15.5h-2.3zM1837 570.2h2.3v15.5h-2.3zM1837 554.8h2.3v15.5h-2.3zM1837 539.3h2.3v15.5h-2.3zM1837 523.8h2.3v15.5h-2.3zM1837 508.3h2.3v15.5h-2.3zM1837 492.8h2.3v15.5h-2.3zM1837 477.3h2.3v15.5h-2.3zM1841.7 539.3h2.3v15.5h-2.3z"/>
<path fill="#eaddd8" shape-rendering="crispEdges" d="M1264.3 446.3h2.3v15.5h-2.3zM1266.6 694.2h2.3v15.5h-2.3zM1266.6 430.8h2.3v15.5h-2.3zM1271.3 694.2h2.3v15.5h-2.3zM1271.3 430.8h2.3v15.5h-2.3zM1275.9 694.2h2.3v15.5h-2.3zM1275.9 446.3h2.3v15.5h-2.3zM1280.5 694.2h2.3v15.5h-2.3zM1280.5 430.8h2.3v15.5h-2.3zM1287.5 694.2h2.3v15.5h-2.3zM1287.5 430.8h2.3v15.5h-2.3zM1289.8 694.2h2.3v15.5h-2.3zM1289.8 446.3h2.3v15.5h-2.3zM1289.8 430.8h2.3v15.5h-2.3zM1299.1 430.8h2.3v15.5h-2.3zM1301.4 694.2h2.3v15.5h-2.3zM1301.4 446.3h2.3v15.5h-2.3zM1303.7 430.8h2.3v15.5h-2.3zM1317.6 446.3h2.3v15.5h-2.3zM1320 616.7h2.3v15.5h-2.3zM1320 554.8h2.3v15.5h-2.3zM1320 539.3h2.3v15.5h-2.3zM1320 523.8h2.3v15.5h-2.3zM1320 508.3h2.3v15.5h-2.3zM1320 492.8h2.3v15.5h-2.3zM1322.3 585.7h2.3v15.5h-2.3zM1322.3 554.8h2.3v15.5h-2.3zM1322.3 539.3h2.3v15.5h-2.3zM1322.3 523.8h2.3v15.5h-2.3zM1322.3 508.3h2.3v15.5h-2.3zM1322.3 492.8h2.3v15.5h-2.3zM1326.9 663.2h2.3v15.5h-2.3zM1326.9 647.7h2.3v15.5h-2.3zM1326.9 632.2h2.3v15.5h-2.3zM1326.9 601.2h2.3v15.5h-2.3zM1326.9 461.8h2.3v15.5h-2.3zM1331.5 632.2h2.3v15.5h-2.3zM1331.5 616.7h2.3v15.5h-2.3zM1331.5 601.2h2.3v15.5h-2.3zM1331.5 477.3h2.3v15.5h-2.3zM1336.2 632.2h2.3v15.5h-2.3zM1336.2 616.7h2.3v15.5h-2.3zM1336.2 601.2h2.3v15.5h-2.3zM1336.2 477.3h2.3v15.5h-2.3zM1340.8 694.2h2.3v15.5h-2.3zM1340.8 678.7h2.3v15.5h-2.3zM1340.8 663.2h2.3v15.5h-2.3zM1340.8 446.3h2.3v15.5h-2.3zM1340.8 430.8h2.3v15.5h-2.3zM1343.1 523.8h2.3v15.5h-2.3zM1345.5 647.7h2.3v15.5h-2.3zM1345.5 632.2h2.3v15.5h-2.3zM1345.5 616.7h2.3v15.5h-2.3zM1345.5 601.2h2.3v15.5h-2.3zM1345.5 461.8h2.3v15.5h-2.3zM1350.1 539.3h2.3v15.5h-2.3zM1352.4 554.8h2.3v15.5h-2.3zM1352.4 539.3h2.3v15.5h-2.3zM1352.4 523.8h2.3v15.5h-2.3zM1352.4 508.3h2.3v15.5h-2.3zM1352.4 492.8h2.3v15.5h-2.3zM1357.1 539.3h2.3v15.5h-2.3zM1357.1 523.8h2.3v15.5h-2.3zM1373.3 694.2h2.3v15.5h-2.3zM1377.9 539.3h2.3v15.5h-2.3zM1377.9 492.8h2.3v15.5h-2.3zM1380.2 632.2h2.3v15.5h-2.3zM1380.2 616.7h2.3v15.5h-2.3zM1380.2 601.2h2.3v15.5h-2.3zM1380.2 477.3h2.3v15.5h-2.3zM1380.2 461.8h2.3v15.5h-2.3zM1384.9 446.3h2.3v15.5h-2.3zM1384.9 430.8h2.3v15.5h-2.3zM1387.2 694.2h2.3v15.5h-2.3zM1387.2 446.3h2.3v15.5h-2.3zM1387.2 430.8h2.3v15.5h-2.3zM1389.5 616.7h2.3v15.5h-2.3zM1389.5 601.2h2.3v15.5h-2.3zM1389.5 585.7h2.3v15.5h-2.3zM1389.5 570.2h2.3v15.5h-2.3zM1389.5 477.3h2.3v15.5h-2.3zM1391.8 539.3h2.3v15.5h-2.3zM1391.8 523.8h2.3v15.5h-2.3zM1394.2 678.7h2.3v15.5h-2.3zM1394.2 663.2h2.3v15.5h-2.3zM1394.2 461.8h2.3v15.5h-2.3zM1394.2 446.3h2.3v15.5h-2.3zM1396.5 632.2h2.3v15.5h-2.3zM1396.5 616.7h2.3v15.5h-2.3zM1396.5 601.2h2.3v15.5h-2.3zM1396.5 585.7h2.3v15.5h-2.3zM1396.5 477.3h2.3v15.5h-2.3zM1401.1 678.7h2.3v15.5h-2.3zM1401.1 663.2h2.3v15.5h-2.3zM1401.1 647.7h2.3v15.5h-2.3zM1401.1 461.8h2.3v15.5h-2.3zM1403.4 678.7h2.3v15.5h-2.3zM1403.4 663.2h2.3v15.5h-2.3zM1403.4 647.7h2.3v15.5h-2.3zM1403.4 461.8h2.3v15.5h-2.3zM1405.7 647.7h2.3v15.5h-2.3zM1405.7 632.2h2.3v15.5h-2.3zM1405.7 616.7h2.3v15.5h-2.3zM1408.1 678.7h2.3v15.5h-2.3zM1408.1 663.2h2.3v15.5h-2.3zM1408.1 461.8h2.3v15.5h-2.3zM1410.4 632.2h2.3v15.5h-2.3zM1410.4 616.7h2.3v15.5h-2.3zM1410.4 601.2h2.3v15.5h-2.3zM1410.4 585.7h2.3v15.5h-2.3zM1410.4 492.8h2.3v15.5h-2.3zM1410.4 477.3h2.3v15.5h-2.3zM1412.7 632.2h2.3v15.5h-2.3zM1412.7 616.7h2.3v15.5h-2.3zM1412.7 601.2h2.3v15.5h-2.3zM1412.7 585.7h2.3v15.5h-2.3zM1412.7 570.2h2.3v15.5h-2.3zM1412.7 477.3h2.3v15.5h-2.3zM1415 632.2h2.3v15.5h-2.3zM1415 601.2h2.3v15.5h-2.3zM1415 585.7h2.3v15.5h-2.3zM1415 570.2h2.3v15.5h-2.3zM1415 554.8h2.3v15.5h-2.3zM1415 477.3h2.3v15.5h-2.3zM1417.3 601.2h2.3v15.5h-2.3zM1417.3 585.7h2.3v15.5h-2.3zM1417.3 570.2h2.3v15.5h-2.3zM1417.3 554.8h2.3v15.5h-2.3zM1417.3 539.3h2.3v15.5h-2.3zM1417.3 508.3h2.3v15.5h-2.3zM1417.3 492.8h2.3v15.5h-2.3zM1424.3 647.7h2.3v15.5h-2.3zM1424.3 632.2h2.3v15.5h-2.3zM1424.3 616.7h2.3v15.5h-2.3zM1424.3 601.2h2.3v15.5h-2.3zM1424.3 585.7h2.3v15.5h-2.3zM1424.3 477.3h2.3v15.5h-2.3zM1426.6 601.2h2.3v15.5h-2.3zM1426.6 570.2h2.3v15.5h-2.3zM1426.6 554.8h2.3v15.5h-2.3zM1426.6 523.8h2.3v15.5h-2.3zM1426.6 492.8h2.3v15.5h-2.3zM1431.3 616.7h2.3v15.5h-2.3zM1431.3 601.2h2.3v15.5h-2.3zM1431.3 585.7h2.3v15.5h-2.3zM1431.3 570.2h2.3v15.5h-2.3zM1431.3 554.8h2.3v15.5h-2.3zM1431.3 492.8h2.3v15.5h-2.3zM1431.3 477.3h2.3v15.5h-2.3zM1433.6 601.2h2.3v15.5h-2.3zM1433.6 585.7h2.3v15.5h-2.3zM1433.6 570.2h2.3v15.5h-2.3zM1433.6 554.8h2.3v15.5h-2.3zM1433.6 508.3h2.3v15.5h-2.3zM1433.6 492.8h2.3v15.5h-2.3zM1433.6 477.3h2.3v15.5h-2.3zM1435.9 570.2h2.3v15.5h-2.3zM1435.9 554.8h2.3v15.5h-2.3zM1435.9 539.3h2.3v15.5h-2.3zM1435.9 523.8h2.3v15.5h-2.3zM1435.9 508.3h2.3v15.5h-2.3zM1438.2 694.2h2.3v15.5h-2.3zM1438.2 678.7h2.3v15.5h-2.3zM1438.2 446.3h2.3v15.5h-2.3zM1438.2 430.8h2.3v15.5h-2.3zM1440.5 694.2h2.3v15.5h-2.3zM1440.5 430.8h2.3v15.5h-2.3zM1442.8 616.7h2.3v15.5h-2.3zM1442.8 601.2h2.3v15.5h-2.3zM1442.8 585.7h2.3v15.5h-2.3zM1442.8 570.2h2.3v15.5h-2.3zM1442.8 554.8h2.3v15.5h-2.3zM1442.8 492.8h2.3v15.5h-2.3zM1442.8 477.3h2.3v15.5h-2.3zM1445.2 446.3h2.3v15.5h-2.3zM1445.2 430.8h2.3v15.5h-2.3zM1452.1 632.2h2.3v15.5h-2.3zM1452.1 616.7h2.3v15.5h-2.3zM1452.1 601.2h2.3v15.5h-2.3zM1452.1 585.7h2.3v15.5h-2.3zM1452.1 570.2h2.3v15.5h-2.3zM1452.1 477.3h2.3v15.5h-2.3zM1461.4 616.7h2.3v15.5h-2.3zM1461.4 570.2h2.3v15.5h-2.3zM1461.4 554.8h2.3v15.5h-2.3zM1461.4 508.3h2.3v15.5h-2.3zM1461.4 492.8h2.3v15.5h-2.3zM1461.4 477.3h2.3v15.5h-2.3zM1463.7 678.7h2.3v15.5h-2.3zM1463.7 663.2h2.3v15.5h-2.3zM1463.7 461.8h2.3v15.5h-2.3zM1463.7 446.3h2.3v15.5h-2.3zM1468.4 694.2h2.3v15.5h-2.3zM1468.4 446.3h2.3v15.5h-2.3zM1473 539.3h2.3v15.5h-2.3zM1473 508.3h2.3v15.5h-2.3zM1475.3 632.2h2.3v15.5h-2.3zM1475.3 616.7h2.3v15.5h-2.3zM1475.3 601.2h2.3v15.5h-2.3zM1475.3 461.8h2.3v15.5h-2.3zM1477.6 632.2h2.3v15.5h-2.3zM1477.6 616.7h2.3v15.5h-2.3zM1477.6 601.2h2.3v15.5h-2.3zM1477.6 585.7h2.3v15.5h-2.3zM1477.6 570.2h2.3v15.5h-2.3zM1477.6 477.3h2.3v15.5h-2.3zM1479.9 446.3h2.3v15.5h-2.3zM1479.9 430.8h2.3v15.5h-2.3zM1486.9 632.2h2.3v15.5h-2.3zM1486.9 616.7h2.3v15.5h-2.3zM1486.9 601.2h2.3v15.5h-2.3zM1486.9 477.3h2.3v15.5h-2.3zM1489.2 632.2h2.3v15.5h-2.3zM1489.2 616.7h2.3v15.5h-2.3zM1489.2 601.2h2.3v15.5h-2.3zM1489.2 585.7h2.3v15.5h-2.3zM1489.2 492.8h2.3v15.5h-2.3zM1489.2 477.3h2.3v15.5h-2.3zM1491.5 663.2h2.3v15.5h-2.3zM1491.5 647.7h2.3v15.5h-2.3zM1491.5 461.8h2.3v15.5h-2.3zM1493.9 694.2h2.3v15.5h-2.3zM1493.9 446.3h2.3v15.5h-2.3zM1496.2 539.3h2.3v15.5h-2.3zM1496.2 523.8h2.3v15.5h-2.3zM1498.5 554.8h2.3v15.5h-2.3zM1498.5 539.3h2.3v15.5h-2.3zM1498.5 523.8h2.3v15.5h-2.3zM1498.5 508.3h2.3v15.5h-2.3zM1498.5 492.8h2.3v15.5h-2.3zM1500.8 539.3h2.3v15.5h-2.3zM1500.8 523.8h2.3v15.5h-2.3zM1505.5 616.7h2.3v15.5h-2.3zM1505.5 570.2h2.3v15.5h-2.3zM1505.5 554.8h2.3v15.5h-2.3zM1505.5 523.8h2.3v15.5h-2.3zM1505.5 508.3h2.3v15.5h-2.3zM1505.5 492.8h2.3v15.5h-2.3zM1505.5 477.3h2.3v15.5h-2.3zM1507.8 430.8h2.3v15.5h-2.3zM1510.1 554.8h2.3v15.5h-2.3zM1510.1 539.3h2.3v15.5h-2.3zM1510.1 523.8h2.3v15.5h-2.3zM1510.1 508.3h2.3v15.5h-2.3zM1510.1 492.8h2.3v15.5h-2.3zM1531 554.8h2.3v15.5h-2.3zM1531 539.3h2.3v15.5h-2.3zM1531 523.8h2.3v15.5h-2.3zM1531 508.3h2.3v15.5h-2.3zM1531 492.8h2.3v15.5h-2.3zM1537.9 523.8h2.3v15.5h-2.3zM1540.2 616.7h2.3v15.5h-2.3zM1540.2 601.2h2.3v15.5h-2.3zM1540.2 585.7h2.3v15.5h-2.3zM1540.2 477.3h2.3v15.5h-2.3zM1542.6 570.2h2.3v15.5h-2.3zM1542.6 539.3h2.3v15.5h-2.3zM1542.6 523.8h2.3v15.5h-2.3zM1542.6 508.3h2.3v15.5h-2.3zM1542.6 492.8h2.3v15.5h-2.3zM1544.9 570.2h2.3v15.5h-2.3zM1544.9 554.8h2.3v15.5h-2.3zM1544.9 539.3h2.3v15.5h-2.3zM1544.9 523.8h2.3v15.5h-2.3zM1544.9 508.3h2.3v15.5h-2.3zM1544.9 492.8h2.3v15.5h-2.3zM1547.2 554.8h2.3v15.5h-2.3zM1547.2 539.3h2.3v15.5h-2.3zM1547.2 523.8h2.3v15.5h-2.3zM1547.2 508.3h2.3v15.5h-2.3zM1547.2 492.8h2.3v15.5h-2.3zM1549.5 585.7h2.3v15.5h-2.3zM1549.5 570.2h2.3v15.5h-2.3zM1549.5 492.8h2.3v15.5h-2.3zM1551.8 616.7h2.3v15.5h-2.3zM1551.8 601.2h2.3v15.5h-2.3zM1551.8 585.7h2.3v15.5h-2.3zM1551.8 492.8h2.3v15.5h-2.3zM1551.8 477.3h2.3v15.5h-2.3zM1633 523.8h2.3v15.5h-2.3zM1730.4 539.3h2.3v15.5h-2.3zM1730.4 508.3h2.3v15.5h-2.3zM1732.7 523.8h2.3v15.5h-2.3zM1737.3 616.7h2.3v15.5h-2.3zM1737.3 601.2h2.3v15.5h-2.3zM1737.3 585.7h2.3v15.5h-2.3zM1737.3 570.2h2.3v15.5h-2.3zM1737.3 554.8h2.3v15.5h-2.3zM1737.3 539.3h2.3v15.5h-2.3zM1737.3 523.8h2.3v15.5h-2.3zM1737.3 508.3h2.3v15.5h-2.3zM1737.3 492.8h2.3v15.5h-2.3zM1742 616.7h2.3v15.5h-2.3zM1742 554.8h2.3v15.5h-2.3zM1742 539.3h2.3v15.5h-2.3zM1742 523.8h2.3v15.5h-2.3zM1742 508.3h2.3v15.5h-2.3zM1742 492.8h2.3v15.5h-2.3zM1758.2 694.2h2.3v15.5h-2.3zM1758.2 647.7h2.3v15.5h-2.3zM1758.2 632.2h2.3v15.5h-2.3zM1758.2 585.7h2.3v15.5h-2.3zM1758.2 570.2h2.3v15.5h-2.3zM1758.2 477.3h2.3v15.5h-2.3zM1758.2 461.8h2.3v15.5h-2.3zM1758.2 446.3h2.3v15.5h-2.3zM1758.2 430.8h2.3v15.5h-2.3zM1762.8 601.2h2.3v15.5h-2.3zM1762.8 539.3h2.3v15.5h-2.3zM1762.8 523.8h2.3v15.5h-2.3zM1762.8 508.3h2.3v15.5h-2.3zM1762.8 492.8h2.3v15.5h-2.3zM1767.5 554.8h2.3v15.5h-2.3zM1767.5 539.3h2.3v15.5h-2.3zM1772.1 663.2h2.3v15.5h-2.3zM1772.1 647.7h2.3v15.5h-2.3zM1772.1 632.2h2.3v15.5h-2.3zM1772.1 616.7h2.3v15.5h-2.3zM1772.1 601.2h2.3v15.5h-2.3zM1772.1 585.7h2.3v15.5h-2.3zM1772.1 570.2h2.3v15.5h-2.3zM1772.1 554.8h2.3v15.5h-2.3zM1772.1 539.3h2.3v15.5h-2.3zM1772.1 492.8h2.3v15.5h-2.3zM1772.1 477.3h2.3v15.5h-2.3zM1772.1 461.8h2.3v15.5h-2.3zM1774.4 678.7h2.3v15.5h-2.3zM1774.4 663.2h2.3v15.5h-2.3zM1774.4 477.3h2.3v15.5h-2.3zM1774.4 461.8h2.3v15.5h-2.3zM1774.4 446.3h2.3v15.5h-2.3zM1774.4 430.8h2.3v15.5h-2.3zM1779.1 508.3h2.3v15.5h-2.3zM1793 616.7h2.3v15.5h-2.3zM1793 585.7h2.3v15.5h-2.3zM1793 539.3h2.3v15.5h-2.3zM1793 523.8h2.3v15.5h-2.3zM1793 508.3h2.3v15.5h-2.3zM1793 492.8h2.3v15.5h-2.3zM1793 477.3h2.3v15.5h-2.3zM1799.9 601.2h2.3v15.5h-2.3zM1799.9 570.2h2.3v15.5h-2.3zM1799.9 554.8h2.3v15.5h-2.3zM1799.9 539.3h2.3v15.5h-2.3zM1799.9 523.8h2.3v15.5h-2.3zM1799.9 508.3h2.3v15.5h-2.3zM1799.9 492.8h2.3v15.5h-2.3z"/>
<path fill="#e8d8d2" shape-rendering="crispEdges" d="M1264.3 678.7h2.3v15.5h-2.3zM1264.3 663.2h2.3v15.5h-2.3zM1264.3 647.7h2.3v15.5h-2.3zM1264.3 461.8h2.3v15.5h-2.3zM1266.6 446.3h2.3v15.5h-2.3zM1268.9 430.8h2.3v15.5h-2.3zM1271.3 446.3h2.3v15.5h-2.3zM1273.6 430.8h2.3v15.5h-2.3zM1275.9 678.7h2.3v15.5h-2.3zM1275.9 461.8h2.3v15.5h-2.3zM1278.2 694.2h2.3v15.5h-2.3zM1278.2 430.8h2.3v15.5h-2.3zM1280.5 446.3h2.3v15.5h-2.3zM1282.9 430.8h2.3v15.5h-2.3zM1287.5 446.3h2.3v15.5h-2.3zM1289.8 678.7h2.3v15.5h-2.3zM1289.8 663.2h2.3v15.5h-2.3zM1289.8 461.8h2.3v15.5h-2.3zM1292.1 694.2h2.3v15.5h-2.3zM1292.1 430.8h2.3v15.5h-2.3zM1294.4 694.2h2.3v15.5h-2.3zM1294.4 430.8h2.3v15.5h-2.3zM1296.8 694.2h2.3v15.5h-2.3zM1296.8 430.8h2.3v15.5h-2.3zM1299.1 694.2h2.3v15.5h-2.3zM1299.1 446.3h2.3v15.5h-2.3zM1301.4 663.2h2.3v15.5h-2.3zM1303.7 694.2h2.3v15.5h-2.3zM1303.7 446.3h2.3v15.5h-2.3zM1308.4 430.8h2.3v15.5h-2.3zM1317.6 678.7h2.3v15.5h-2.3zM1317.6 663.2h2.3v15.5h-2.3zM1317.6 647.7h2.3v15.5h-2.3zM1317.6 461.8h2.3v15.5h-2.3zM1326.9 616.7h2.3v15.5h-2.3zM1326.9 585.7h2.3v15.5h-2.3zM1326.9 554.8h2.3v15.5h-2.3zM1326.9 477.3h2.3v15.5h-2.3zM1331.5 585.7h2.3v15.5h-2.3zM1331.5 570.2h2.3v15.5h-2.3zM1331.5 554.8h2.3v15.5h-2.3zM1331.5 492.8h2.3v15.5h-2.3zM1336.2 585.7h2.3v15.5h-2.3zM1336.2 570.2h2.3v15.5h-2.3zM1336.2 554.8h2.3v15.5h-2.3zM1336.2 492.8h2.3v15.5h-2.3zM1340.8 647.7h2.3v15.5h-2.3zM1340.8 461.8h2.3v15.5h-2.3zM1345.5 585.7h2.3v15.5h-2.3zM1345.5 570.2h2.3v15.5h-2.3zM1345.5 554.8h2.3v15.5h-2.3zM1345.5 477.3h2.3v15.5h-2.3zM1359.4 694.2h2.3v15.5h-2.3zM1361.7 694.2h2.3v15.5h-2.3zM1373.3 678.7h2.3v15.5h-2.3zM1373.3 430.8h2.3v15.5h-2.3zM1380.2 585.7h2.3v15.5h-2.3zM1380.2 570.2h2.3v15.5h-2.3zM1380.2 554.8h2.3v15.5h-2.3zM1384.9 694.2h2.3v15.5h-2.3zM1384.9 678.7h2.3v15.5h-2.3zM1384.9 663.2h2.3v15.5h-2.3zM1384.9 461.8h2.3v15.5h-2.3zM1387.2 678.7h2.3v15.5h-2.3zM1387.2 663.2h2.3v15.5h-2.3zM1387.2 647.7h2.3v15.5h-2.3zM1389.5 554.8h2.3v15.5h-2.3zM1389.5 539.3h2.3v15.5h-2.3zM1389.5 508.3h2.3v15.5h-2.3zM1389.5 492.8h2.3v15.5h-2.3zM1394.2 647.7h2.3v15.5h-2.3zM1394.2 632.2h2.3v15.5h-2.3zM1394.2 616.7h2.3v15.5h-2.3zM1394.2 601.2h2.3v15.5h-2.3zM1396.5 570.2h2.3v15.5h-2.3zM1396.5 554.8h2.3v15.5h-2.3zM1396.5 492.8h2.3v15.5h-2.3zM1401.1 632.2h2.3v15.5h-2.3zM1403.4 632.2h2.3v15.5h-2.3zM1403.4 616.7h2.3v15.5h-2.3zM1403.4 601.2h2.3v15.5h-2.3zM1405.7 601.2h2.3v15.5h-2.3zM1405.7 585.7h2.3v15.5h-2.3zM1405.7 492.8h2.3v15.5h-2.3zM1405.7 477.3h2.3v15.5h-2.3zM1408.1 632.2h2.3v15.5h-2.3zM1408.1 616.7h2.3v15.5h-2.3zM1408.1 601.2h2.3v15.5h-2.3zM1408.1 585.7h2.3v15.5h-2.3zM1408.1 570.2h2.3v15.5h-2.3zM1408.1 492.8h2.3v15.5h-2.3zM1408.1 477.3h2.3v15.5h-2.3zM1410.4 570.2h2.3v15.5h-2.3zM1410.4 554.8h2.3v15.5h-2.3zM1410.4 539.3h2.3v15.5h-2.3zM1410.4 523.8h2.3v15.5h-2.3zM1410.4 508.3h2.3v15.5h-2.3zM1412.7 554.8h2.3v15.5h-2.3zM1412.7 539.3h2.3v15.5h-2.3zM1412.7 508.3h2.3v15.5h-2.3zM1412.7 492.8h2.3v15.5h-2.3zM1415 523.8h2.3v15.5h-2.3zM1415 508.3h2.3v15.5h-2.3zM1415 492.8h2.3v15.5h-2.3zM1417.3 523.8h2.3v15.5h-2.3zM1424.3 570.2h2.3v15.5h-2.3zM1424.3 554.8h2.3v15.5h-2.3zM1424.3 508.3h2.3v15.5h-2.3zM1424.3 492.8h2.3v15.5h-2.3zM1426.6 539.3h2.3v15.5h-2.3zM1426.6 508.3h2.3v15.5h-2.3zM1431.3 539.3h2.3v15.5h-2.3zM1431.3 523.8h2.3v15.5h-2.3zM1431.3 508.3h2.3v15.5h-2.3zM1433.6 539.3h2.3v15.5h-2.3zM1433.6 523.8h2.3v15.5h-2.3zM1438.2 663.2h2.3v15.5h-2.3zM1438.2 461.8h2.3v15.5h-2.3zM1440.5 663.2h2.3v15.5h-2.3zM1440.5 446.3h2.3v15.5h-2.3zM1442.8 539.3h2.3v15.5h-2.3zM1442.8 508.3h2.3v15.5h-2.3zM1445.2 694.2h2.3v15.5h-2.3zM1445.2 678.7h2.3v15.5h-2.3zM1445.2 663.2h2.3v15.5h-2.3zM1449.8 694.2h2.3v15.5h-2.3zM1449.8 446.3h2.3v15.5h-2.3zM1449.8 430.8h2.3v15.5h-2.3zM1452.1 554.8h2.3v15.5h-2.3zM1452.1 539.3h2.3v15.5h-2.3zM1452.1 508.3h2.3v15.5h-2.3zM1452.1 492.8h2.3v15.5h-2.3zM1461.4 539.3h2.3v15.5h-2.3zM1461.4 523.8h2.3v15.5h-2.3zM1463.7 647.7h2.3v15.5h-2.3zM1463.7 632.2h2.3v15.5h-2.3zM1466 694.2h2.3v15.5h-2.3zM1466 446.3h2.3v15.5h-2.3zM1466 430.8h2.3v15.5h-2.3zM1468.4 678.7h2.3v15.5h-2.3zM1468.4 663.2h2.3v15.5h-2.3zM1468.4 647.7h2.3v15.5h-2.3zM1468.4 632.2h2.3v15.5h-2.3zM1468.4 461.8h2.3v15.5h-2.3zM1475.3 585.7h2.3v15.5h-2.3zM1475.3 570.2h2.3v15.5h-2.3zM1475.3 492.8h2.3v15.5h-2.3zM1475.3 477.3h2.3v15.5h-2.3zM1477.6 554.8h2.3v15.5h-2.3zM1477.6 508.3h2.3v15.5h-2.3zM1477.6 492.8h2.3v15.5h-2.3zM1479.9 694.2h2.3v15.5h-2.3zM1479.9 678.7h2.3v15.5h-2.3zM1479.9 647.7h2.3v15.5h-2.3zM1479.9 461.8h2.3v15.5h-2.3zM1486.9 585.7h2.3v15.5h-2.3zM1486.9 570.2h2.3v15.5h-2.3zM1486.9 554.8h2.3v15.5h-2.3zM1486.9 523.8h2.3v15.5h-2.3zM1486.9 508.3h2.3v15.5h-2.3zM1486.9 492.8h2.3v15.5h-2.3zM1489.2 570.2h2.3v15.5h-2.3zM1489.2 554.8h2.3v15.5h-2.3zM1489.2 523.8h2.3v15.5h-2.3zM1489.2 508.3h2.3v15.5h-2.3zM1491.5 632.2h2.3v15.5h-2.3zM1491.5 616.7h2.3v15.5h-2.3zM1491.5 601.2h2.3v15.5h-2.3zM1491.5 585.7h2.3v15.5h-2.3zM1491.5 477.3h2.3v15.5h-2.3zM1493.9 678.7h2.3v15.5h-2.3zM1493.9 663.2h2.3v15.5h-2.3zM1493.9 647.7h2.3v15.5h-2.3zM1493.9 461.8h2.3v15.5h-2.3zM1503.1 430.8h2.3v15.5h-2.3zM1505.5 539.3h2.3v15.5h-2.3zM1507.8 446.3h2.3v15.5h-2.3zM1540.2 570.2h2.3v15.5h-2.3zM1540.2 554.8h2.3v15.5h-2.3zM1540.2 539.3h2.3v15.5h-2.3zM1540.2 523.8h2.3v15.5h-2.3zM1540.2 508.3h2.3v15.5h-2.3zM1540.2 492.8h2.3v15.5h-2.3zM1549.5 554.8h2.3v15.5h-2.3zM1549.5 539.3h2.3v15.5h-2.3zM1549.5 523.8h2.3v15.5h-2.3zM1549.5 508.3h2.3v15.5h-2.3zM1551.8 570.2h2.3v15.5h-2.3zM1551.8 554.8h2.3v15.5h-2.3zM1551.8 539.3h2.3v15.5h-2.3zM1551.8 523.8h2.3v15.5h-2.3zM1551.8 508.3h2.3v15.5h-2.3zM1605.2 694.2h2.3v15.5h-2.3zM1605.2 678.7h2.3v15.5h-2.3zM1605.2 663.2h2.3v15.5h-2.3zM1605.2 647.7h2.3v15.5h-2.3zM1605.2 632.2h2.3v15.5h-2.3zM1605.2 461.8h2.3v15.5h-2.3zM1605.2 446.3h2.3v15.5h-2.3zM1605.2 430.8h2.3v15.5h-2.3zM1758.2 616.7h2.3v15.5h-2.3zM1758.2 601.2h2.3v15.5h-2.3zM1758.2 554.8h2.3v15.5h-2.3zM1758.2 539.3h2.3v15.5h-2.3zM1758.2 523.8h2.3v15.5h-2.3zM1758.2 508.3h2.3v15.5h-2.3zM1758.2 492.8h2.3v15.5h-2.3zM1772.1 523.8h2.3v15.5h-2.3zM1772.1 508.3h2.3v15.5h-2.3zM1774.4 647.7h2.3v15.5h-2.3zM1774.4 632.2h2.3v15.5h-2.3zM1774.4 616.7h2.3v15.5h-2.3zM1774.4 601.2h2.3v15.5h-2.3zM1774.4 585.7h2.3v15.5h-2.3zM1774.4 570.2h2.3v15.5h-2.3zM1774.4 554.8h2.3v15.5h-2.3zM1774.4 539.3h2.3v15.5h-2.3zM1774.4 508.3h2.3v15.5h-2.3zM1774.4 492.8h2.3v15.5h-2.3z"/>
<path fill="#e6d3cc" shape-rendering="crispEdges" d="M1264.3 585.7h2.3v15.5h-2.3zM1264.3 570.2h2.3v15.5h-2.3zM1268.9 694.2h2.3v15.5h-2.3zM1268.9 446.3h2.3v15.5h-2.3zM1271.3 678.7h2.3v15.5h-2.3zM1271.3 461.8h2.3v15.5h-2.3zM1273.6 694.2h2.3v15.5h-2.3zM1273.6 446.3h2.3v15.5h-2.3zM1275.9 663.2h2.3v15.5h-2.3zM1275.9 647.7h2.3v15.5h-2.3zM1280.5 663.2h2.3v15.5h-2.3zM1280.5 461.8h2.3v15.5h-2.3zM1282.9 694.2h2.3v15.5h-2.3zM1282.9 446.3h2.3v15.5h-2.3zM1285.2 430.8h2.3v15.5h-2.3zM1287.5 678.7h2.3v15.5h-2.3zM1287.5 461.8h2.3v15.5h-2.3zM1289.8 647.7h2.3v15.5h-2.3zM1296.8 446.3h2.3v15.5h-2.3zM1301.4 678.7h2.3v15.5h-2.3zM1301.4 647.7h2.3v15.5h-2.3zM1301.4 461.8h2.3v15.5h-2.3zM1308.4 694.2h2.3v15.5h-2.3zM1310.7 430.8h2.3v15.5h-2.3zM1317.6 477.3h2.3v15.5h-2.3zM1326.9 570.2h2.3v15.5h-2.3zM1326.9 539.3h2.3v15.5h-2.3zM1326.9 523.8h2.3v15.5h-2.3zM1326.9 508.3h2.3v15.5h-2.3zM1326.9 492.8h2.3v15.5h-2.3zM1331.5 539.3h2.3v15.5h-2.3zM1331.5 523.8h2.3v15.5h-2.3zM1331.5 508.3h2.3v15.5h-2.3zM1336.2 539.3h2.3v15.5h-2.3zM1336.2 523.8h2.3v15.5h-2.3zM1336.2 508.3h2.3v15.5h-2.3zM1340.8 632.2h2.3v15.5h-2.3zM1340.8 616.7h2.3v15.5h-2.3zM1340.8 601.2h2.3v15.5h-2.3zM1340.8 585.7h2.3v15.5h-2.3zM1340.8 477.3h2.3v15.5h-2.3zM1345.5 539.3h2.3v15.5h-2.3zM1345.5 523.8h2.3v15.5h-2.3zM1345.5 508.3h2.3v15.5h-2.3zM1345.5 492.8h2.3v15.5h-2.3zM1359.4 678.7h2.3v15.5h-2.3zM1359.4 663.2h2.3v15.5h-2.3zM1359.4 446.3h2.3v15.5h-2.3zM1359.4 430.8h2.3v15.5h-2.3zM1361.7 678.7h2.3v15.5h-2.3zM1361.7 430.8h2.3v15.5h-2.3zM1364 694.2h2.3v15.5h-2.3zM1373.3 663.2h2.3v15.5h-2.3zM1373.3 446.3h2.3v15.5h-2.3zM1380.2 539.3h2.3v15.5h-2.3zM1380.2 523.8h2.3v15.5h-2.3zM1380.2 508.3h2.3v15.5h-2.3zM1380.2 492.8h2.3v15.5h-2.3zM1384.9 647.7h2.3v15.5h-2.3zM1387.2 616.7h2.3v15.5h-2.3zM1387.2 477.3h2.3v15.5h-2.3zM1387.2 461.8h2.3v15.5h-2.3zM1389.5 523.8h2.3v15.5h-2.3zM1394.2 585.7h2.3v15.5h-2.3zM1394.2 570.2h2.3v15.5h-2.3zM1394.2 554.8h2.3v15.5h-2.3zM1394.2 477.3h2.3v15.5h-2.3zM1396.5 539.3h2.3v15.5h-2.3zM1396.5 523.8h2.3v15.5h-2.3zM1396.5 508.3h2.3v15.5h-2.3zM1401.1 616.7h2.3v15.5h-2.3zM1401.1 601.2h2.3v15.5h-2.3zM1401.1 585.7h2.3v15.5h-2.3zM1401.1 492.8h2.3v15.5h-2.3zM1401.1 477.3h2.3v15.5h-2.3zM1403.4 585.7h2.3v15.5h-2.3zM1403.4 554.8h2.3v15.5h-2.3zM1403.4 492.8h2.3v15.5h-2.3zM1403.4 477.3h2.3v15.5h-2.3zM1405.7 570.2h2.3v15.5h-2.3zM1405.7 554.8h2.3v15.5h-2.3zM1405.7 539.3h2.3v15.5h-2.3zM1405.7 523.8h2.3v15.5h-2.3zM1405.7 508.3h2.3v15.5h-2.3zM1408.1 554.8h2.3v15.5h-2.3zM1408.1 539.3h2.3v15.5h-2.3zM1412.7 523.8h2.3v15.5h-2.3zM1415 539.3h2.3v15.5h-2.3zM1424.3 539.3h2.3v15.5h-2.3zM1424.3 523.8h2.3v15.5h-2.3zM1438.2 647.7h2.3v15.5h-2.3zM1438.2 632.2h2.3v15.5h-2.3zM1438.2 601.2h2.3v15.5h-2.3zM1440.5 678.7h2.3v15.5h-2.3zM1440.5 647.7h2.3v15.5h-2.3zM1440.5 461.8h2.3v15.5h-2.3zM1442.8 523.8h2.3v15.5h-2.3zM1445.2 647.7h2.3v15.5h-2.3zM1445.2 632.2h2.3v15.5h-2.3zM1445.2 461.8h2.3v15.5h-2.3zM1447.5 446.3h2.3v15.5h-2.3zM1447.5 430.8h2.3v15.5h-2.3zM1452.1 523.8h2.3v15.5h-2.3zM1454.4 430.8h2.3v15.5h-2.3zM1456.8 430.8h2.3v15.5h-2.3zM1459.1 446.3h2.3v15.5h-2.3zM1459.1 430.8h2.3v15.5h-2.3zM1463.7 616.7h2.3v15.5h-2.3zM1463.7 601.2h2.3v15.5h-2.3zM1463.7 585.7h2.3v15.5h-2.3zM1463.7 477.3h2.3v15.5h-2.3zM1466 678.7h2.3v15.5h-2.3zM1466 663.2h2.3v15.5h-2.3zM1468.4 616.7h2.3v15.5h-2.3zM1468.4 601.2h2.3v15.5h-2.3zM1468.4 585.7h2.3v15.5h-2.3zM1470.7 694.2h2.3v15.5h-2.3zM1470.7 430.8h2.3v15.5h-2.3zM1475.3 554.8h2.3v15.5h-2.3zM1475.3 539.3h2.3v15.5h-2.3zM1475.3 523.8h2.3v15.5h-2.3zM1475.3 508.3h2.3v15.5h-2.3zM1477.6 539.3h2.3v15.5h-2.3zM1477.6 523.8h2.3v15.5h-2.3zM1479.9 663.2h2.3v15.5h-2.3zM1486.9 539.3h2.3v15.5h-2.3zM1489.2 539.3h2.3v15.5h-2.3zM1491.5 570.2h2.3v15.5h-2.3zM1491.5 554.8h2.3v15.5h-2.3zM1493.9 632.2h2.3v15.5h-2.3zM1503.1 694.2h2.3v15.5h-2.3zM1503.1 446.3h2.3v15.5h-2.3zM1507.8 694.2h2.3v15.5h-2.3zM1507.8 678.7h2.3v15.5h-2.3zM1507.8 663.2h2.3v15.5h-2.3zM1605.2 616.7h2.3v15.5h-2.3zM1605.2 601.2h2.3v15.5h-2.3zM1605.2 570.2h2.3v15.5h-2.3zM1605.2 492.8h2.3v15.5h-2.3zM1605.2 477.3h2.3v15.5h-2.3zM1774.4 523.8h2.3v15.5h-2.3z"/>
<path fill="#e4cec6" shape-rendering="crispEdges" d="M1264.3 632.2h2.3v15.5h-2.3zM1264.3 616.7h2.3v15.5h-2.3zM1264.3 601.2h2.3v15.5h-2.3zM1264.3 554.8h2.3v15.5h-2.3zM1264.3 492.8h2.3v15.5h-2.3zM1264.3 477.3h2.3v15.5h-2.3zM1266.6 678.7h2.3v15.5h-2.3zM1266.6 663.2h2.3v15.5h-2.3zM1266.6 647.7h2.3v15.5h-2.3zM1266.6 461.8h2.3v15.5h-2.3zM1268.9 663.2h2.3v15.5h-2.3zM1271.3 663.2h2.3v15.5h-2.3zM1271.3 647.7h2.3v15.5h-2.3zM1275.9 616.7h2.3v15.5h-2.3zM1275.9 585.7h2.3v15.5h-2.3zM1278.2 678.7h2.3v15.5h-2.3zM1278.2 461.8h2.3v15.5h-2.3zM1278.2 446.3h2.3v15.5h-2.3zM1280.5 678.7h2.3v15.5h-2.3zM1280.5 647.7h2.3v15.5h-2.3zM1285.2 694.2h2.3v15.5h-2.3zM1285.2 446.3h2.3v15.5h-2.3zM1287.5 663.2h2.3v15.5h-2.3zM1289.8 601.2h2.3v15.5h-2.3zM1292.1 663.2h2.3v15.5h-2.3zM1292.1 446.3h2.3v15.5h-2.3zM1294.4 446.3h2.3v15.5h-2.3zM1299.1 663.2h2.3v15.5h-2.3zM1299.1 461.8h2.3v15.5h-2.3zM1301.4 632.2h2.3v15.5h-2.3zM1301.4 601.2h2.3v15.5h-2.3zM1303.7 647.7h2.3v15.5h-2.3zM1303.7 461.8h2.3v15.5h-2.3zM1306 694.2h2.3v15.5h-2.3zM1306 430.8h2.3v15.5h-2.3zM1308.4 446.3h2.3v15.5h-2.3zM1310.7 694.2h2.3v15.5h-2.3zM1315.3 430.8h2.3v15.5h-2.3zM1317.6 632.2h2.3v15.5h-2.3zM1317.6 601.2h2.3v15.5h-2.3zM1317.6 585.7h2.3v15.5h-2.3zM1317.6 570.2h2.3v15.5h-2.3zM1340.8 570.2h2.3v15.5h-2.3zM1340.8 554.8h2.3v15.5h-2.3zM1361.7 446.3h2.3v15.5h-2.3zM1364 678.7h2.3v15.5h-2.3zM1364 430.8h2.3v15.5h-2.3zM1366.3 694.2h2.3v15.5h-2.3zM1387.2 632.2h2.3v15.5h-2.3zM1387.2 601.2h2.3v15.5h-2.3zM1394.2 523.8h2.3v15.5h-2.3zM1394.2 492.8h2.3v15.5h-2.3zM1401.1 570.2h2.3v15.5h-2.3zM1401.1 554.8h2.3v15.5h-2.3zM1401.1 523.8h2.3v15.5h-2.3zM1403.4 570.2h2.3v15.5h-2.3zM1408.1 523.8h2.3v15.5h-2.3zM1408.1 508.3h2.3v15.5h-2.3zM1438.2 616.7h2.3v15.5h-2.3zM1438.2 585.7h2.3v15.5h-2.3zM1438.2 570.2h2.3v15.5h-2.3zM1445.2 616.7h2.3v15.5h-2.3zM1445.2 601.2h2.3v15.5h-2.3zM1445.2 585.7h2.3v15.5h-2.3zM1447.5 694.2h2.3v15.5h-2.3zM1447.5 678.7h2.3v15.5h-2.3zM1449.8 678.7h2.3v15.5h-2.3zM1449.8 663.2h2.3v15.5h-2.3zM1449.8 647.7h2.3v15.5h-2.3zM1449.8 461.8h2.3v15.5h-2.3zM1454.4 694.2h2.3v15.5h-2.3zM1454.4 678.7h2.3v15.5h-2.3zM1454.4 446.3h2.3v15.5h-2.3zM1459.1 694.2h2.3v15.5h-2.3zM1459.1 678.7h2.3v15.5h-2.3zM1463.7 570.2h2.3v15.5h-2.3zM1466 647.7h2.3v15.5h-2.3zM1466 632.2h2.3v15.5h-2.3zM1466 461.8h2.3v15.5h-2.3zM1468.4 570.2h2.3v15.5h-2.3zM1468.4 554.8h2.3v15.5h-2.3zM1468.4 492.8h2.3v15.5h-2.3zM1468.4 477.3h2.3v15.5h-2.3zM1470.7 678.7h2.3v15.5h-2.3zM1470.7 446.3h2.3v15.5h-2.3zM1479.9 632.2h2.3v15.5h-2.3zM1479.9 616.7h2.3v15.5h-2.3zM1482.3 694.2h2.3v15.5h-2.3zM1482.3 430.8h2.3v15.5h-2.3zM1491.5 539.3h2.3v15.5h-2.3zM1491.5 523.8h2.3v15.5h-2.3zM1491.5 508.3h2.3v15.5h-2.3zM1491.5 492.8h2.3v15.5h-2.3zM1493.9 616.7h2.3v15.5h-2.3zM1493.9 601.2h2.3v15.5h-2.3zM1493.9 477.3h2.3v15.5h-2.3zM1503.1 678.7h2.3v15.5h-2.3zM1503.1 663.2h2.3v15.5h-2.3zM1503.1 461.8h2.3v15.5h-2.3zM1507.8 647.7h2.3v15.5h-2.3zM1512.4 430.8h2.3v15.5h-2.3zM1514.7 694.2h2.3v15.5h-2.3zM1514.7 446.3h2.3v15.5h-2.3zM1514.7 430.8h2.3v15.5h-2.3zM1517 430.8h2.3v15.5h-2.3zM1521.7 430.8h2.3v15.5h-2.3zM1533.3 694.2h2.3v15.5h-2.3zM1605.2 585.7h2.3v15.5h-2.3zM1605.2 554.8h2.3v15.5h-2.3zM1605.2 539.3h2.3v15.5h-2.3zM1605.2 523.8h2.3v15.5h-2.3zM1607.5 694.2h2.3v15.5h-2.3zM1607.5 663.2h2.3v15.5h-2.3zM1616.8 678.7h2.3v15.5h-2.3zM1616.8 430.8h2.3v15.5h-2.3zM1716.5 694.2h2.3v15.5h-2.3zM1716.5 678.7h2.3v15.5h-2.3zM1716.5 446.3h2.3v15.5h-2.3z"/>
<path fill="#e3c9bf" shape-rendering="crispEdges" d="M1264.3 523.8h2.3v15.5h-2.3zM1268.9 678.7h2.3v15.5h-2.3zM1268.9 647.7h2.3v15.5h-2.3zM1268.9 461.8h2.3v15.5h-2.3zM1271.3 632.2h2.3v15.5h-2.3zM1273.6 678.7h2.3v15.5h-2.3zM1273.6 663.2h2.3v15.5h-2.3zM1273.6 461.8h2.3v15.5h-2.3zM1275.9 632.2h2.3v15.5h-2.3zM1275.9 601.2h2.3v15.5h-2.3zM1275.9 492.8h2.3v15.5h-2.3zM1275.9 477.3h2.3v15.5h-2.3zM1278.2 663.2h2.3v15.5h-2.3zM1282.9 678.7h2.3v15.5h-2.3zM1282.9 663.2h2.3v15.5h-2.3zM1287.5 647.7h2.3v15.5h-2.3zM1287.5 601.2h2.3v15.5h-2.3zM1289.8 632.2h2.3v15.5h-2.3zM1289.8 616.7h2.3v15.5h-2.3zM1289.8 585.7h2.3v15.5h-2.3zM1289.8 570.2h2.3v15.5h-2.3zM1289.8 477.3h2.3v15.5h-2.3zM1292.1 678.7h2.3v15.5h-2.3zM1292.1 461.8h2.3v15.5h-2.3zM1294.4 678.7h2.3v15.5h-2.3zM1294.4 663.2h2.3v15.5h-2.3zM1294.4 461.8h2.3v15.5h-2.3zM1296.8 461.8h2.3v15.5h-2.3zM1299.1 678.7h2.3v15.5h-2.3zM1299.1 647.7h2.3v15.5h-2.3zM1301.4 616.7h2.3v15.5h-2.3zM1301.4 585.7h2.3v15.5h-2.3zM1301.4 492.8h2.3v15.5h-2.3zM1301.4 477.3h2.3v15.5h-2.3zM1303.7 678.7h2.3v15.5h-2.3zM1303.7 663.2h2.3v15.5h-2.3zM1308.4 461.8h2.3v15.5h-2.3zM1310.7 446.3h2.3v15.5h-2.3zM1313 694.2h2.3v15.5h-2.3zM1313 430.8h2.3v15.5h-2.3zM1315.3 694.2h2.3v15.5h-2.3zM1317.6 616.7h2.3v15.5h-2.3zM1317.6 554.8h2.3v15.5h-2.3zM1317.6 539.3h2.3v15.5h-2.3zM1317.6 523.8h2.3v15.5h-2.3zM1317.6 508.3h2.3v15.5h-2.3zM1317.6 492.8h2.3v15.5h-2.3zM1340.8 492.8h2.3v15.5h-2.3zM1361.7 663.2h2.3v15.5h-2.3zM1364 663.2h2.3v15.5h-2.3zM1364 446.3h2.3v15.5h-2.3zM1366.3 678.7h2.3v15.5h-2.3zM1366.3 430.8h2.3v15.5h-2.3zM1373.3 461.8h2.3v15.5h-2.3zM1384.9 632.2h2.3v15.5h-2.3zM1384.9 616.7h2.3v15.5h-2.3zM1384.9 601.2h2.3v15.5h-2.3zM1384.9 585.7h2.3v15.5h-2.3zM1384.9 477.3h2.3v15.5h-2.3zM1387.2 585.7h2.3v15.5h-2.3zM1387.2 554.8h2.3v15.5h-2.3zM1394.2 539.3h2.3v15.5h-2.3zM1394.2 508.3h2.3v15.5h-2.3zM1401.1 539.3h2.3v15.5h-2.3zM1401.1 508.3h2.3v15.5h-2.3zM1403.4 539.3h2.3v15.5h-2.3zM1403.4 523.8h2.3v15.5h-2.3zM1403.4 508.3h2.3v15.5h-2.3zM1438.2 477.3h2.3v15.5h-2.3zM1440.5 632.2h2.3v15.5h-2.3zM1440.5 616.7h2.3v15.5h-2.3zM1440.5 601.2h2.3v15.5h-2.3zM1440.5 585.7h2.3v15.5h-2.3zM1445.2 477.3h2.3v15.5h-2.3zM1447.5 663.2h2.3v15.5h-2.3zM1447.5 647.7h2.3v15.5h-2.3zM1454.4 663.2h2.3v15.5h-2.3zM1456.8 446.3h2.3v15.5h-2.3zM1459.1 663.2h2.3v15.5h-2.3zM1459.1 647.7h2.3v15.5h-2.3zM1459.1 461.8h2.3v15.5h-2.3zM1463.7 554.8h2.3v15.5h-2.3zM1463.7 508.3h2.3v15.5h-2.3zM1463.7 492.8h2.3v15.5h-2.3zM1466 601.2h2.3v15.5h-2.3zM1466 477.3h2.3v15.5h-2.3zM1468.4 539.3h2.3v15.5h-2.3zM1470.7 663.2h2.3v15.5h-2.3zM1479.9 601.2h2.3v15.5h-2.3zM1479.9 585.7h2.3v15.5h-2.3zM1479.9 477.3h2.3v15.5h-2.3zM1484.6 694.2h2.3v15.5h-2.3zM1484.6 446.3h2.3v15.5h-2.3zM1484.6 430.8h2.3v15.5h-2.3zM1493.9 585.7h2.3v15.5h-2.3zM1493.9 570.2h2.3v15.5h-2.3zM1493.9 554.8h2.3v15.5h-2.3zM1503.1 647.7h2.3v15.5h-2.3zM1507.8 461.8h2.3v15.5h-2.3zM1512.4 694.2h2.3v15.5h-2.3zM1512.4 678.7h2.3v15.5h-2.3zM1512.4 446.3h2.3v15.5h-2.3zM1521.7 694.2h2.3v15.5h-2.3zM1533.3 446.3h2.3v15.5h-2.3zM1533.3 430.8h2.3v15.5h-2.3zM1605.2 508.3h2.3v15.5h-2.3zM1607.5 678.7h2.3v15.5h-2.3zM1607.5 647.7h2.3v15.5h-2.3zM1607.5 632.2h2.3v15.5h-2.3zM1607.5 461.8h2.3v15.5h-2.3zM1607.5 446.3h2.3v15.5h-2.3zM1607.5 430.8h2.3v15.5h-2.3zM1616.8 694.2h2.3v15.5h-2.3zM1616.8 663.2h2.3v15.5h-2.3zM1616.8 446.3h2.3v15.5h-2.3zM1716.5 663.2h2.3v15.5h-2.3zM1716.5 430.8h2.3v15.5h-2.3z"/>
<path fill="#e1c3b9" shape-rendering="crispEdges" d="M1264.3 539.3h2.3v15.5h-2.3zM1264.3 508.3h2.3v15.5h-2.3zM1266.6 632.2h2.3v15.5h-2.3zM1266.6 585.7h2.3v15.5h-2.3zM1266.6 477.3h2.3v15.5h-2.3zM1271.3 585.7h2.3v15.5h-2.3zM1271.3 570.2h2.3v15.5h-2.3zM1271.3 477.3h2.3v15.5h-2.3zM1275.9 570.2h2.3v15.5h-2.3zM1275.9 554.8h2.3v15.5h-2.3zM1275.9 508.3h2.3v15.5h-2.3zM1278.2 647.7h2.3v15.5h-2.3zM1280.5 601.2h2.3v15.5h-2.3zM1280.5 585.7h2.3v15.5h-2.3zM1280.5 477.3h2.3v15.5h-2.3zM1282.9 647.7h2.3v15.5h-2.3zM1282.9 461.8h2.3v15.5h-2.3zM1287.5 570.2h2.3v15.5h-2.3zM1287.5 477.3h2.3v15.5h-2.3zM1289.8 523.8h2.3v15.5h-2.3zM1289.8 492.8h2.3v15.5h-2.3zM1292.1 647.7h2.3v15.5h-2.3zM1294.4 647.7h2.3v15.5h-2.3zM1296.8 678.7h2.3v15.5h-2.3zM1296.8 663.2h2.3v15.5h-2.3zM1296.8 647.7h2.3v15.5h-2.3zM1299.1 632.2h2.3v15.5h-2.3zM1299.1 601.2h2.3v15.5h-2.3zM1301.4 570.2h2.3v15.5h-2.3zM1301.4 554.8h2.3v15.5h-2.3zM1303.7 477.3h2.3v15.5h-2.3zM1306 446.3h2.3v15.5h-2.3zM1308.4 678.7h2.3v15.5h-2.3zM1308.4 663.2h2.3v15.5h-2.3zM1310.7 678.7h2.3v15.5h-2.3zM1340.8 539.3h2.3v15.5h-2.3zM1340.8 523.8h2.3v15.5h-2.3zM1340.8 508.3h2.3v15.5h-2.3zM1359.4 647.7h2.3v15.5h-2.3zM1359.4 601.2h2.3v15.5h-2.3zM1359.4 461.8h2.3v15.5h-2.3zM1361.7 461.8h2.3v15.5h-2.3zM1366.3 663.2h2.3v15.5h-2.3zM1366.3 446.3h2.3v15.5h-2.3zM1368.6 694.2h2.3v15.5h-2.3zM1368.6 430.8h2.3v15.5h-2.3zM1373.3 601.2h2.3v15.5h-2.3zM1373.3 585.7h2.3v15.5h-2.3zM1384.9 570.2h2.3v15.5h-2.3zM1384.9 554.8h2.3v15.5h-2.3zM1384.9 492.8h2.3v15.5h-2.3zM1387.2 570.2h2.3v15.5h-2.3zM1387.2 508.3h2.3v15.5h-2.3zM1387.2 492.8h2.3v15.5h-2.3zM1438.2 554.8h2.3v15.5h-2.3zM1438.2 492.8h2.3v15.5h-2.3zM1440.5 570.2h2.3v15.5h-2.3zM1440.5 477.3h2.3v15.5h-2.3zM1445.2 570.2h2.3v15.5h-2.3zM1445.2 492.8h2.3v15.5h-2.3zM1447.5 461.8h2.3v15.5h-2.3zM1449.8 632.2h2.3v15.5h-2.3zM1449.8 616.7h2.3v15.5h-2.3zM1449.8 477.3h2.3v15.5h-2.3zM1454.4 647.7h2.3v15.5h-2.3zM1454.4 461.8h2.3v15.5h-2.3zM1456.8 694.2h2.3v15.5h-2.3zM1456.8 678.7h2.3v15.5h-2.3zM1456.8 663.2h2.3v15.5h-2.3zM1463.7 539.3h2.3v15.5h-2.3zM1463.7 523.8h2.3v15.5h-2.3zM1466 616.7h2.3v15.5h-2.3zM1466 585.7h2.3v15.5h-2.3zM1466 570.2h2.3v15.5h-2.3zM1468.4 523.8h2.3v15.5h-2.3zM1468.4 508.3h2.3v15.5h-2.3zM1470.7 647.7h2.3v15.5h-2.3zM1470.7 461.8h2.3v15.5h-2.3zM1479.9 570.2h2.3v15.5h-2.3zM1479.9 554.8h2.3v15.5h-2.3zM1479.9 508.3h2.3v15.5h-2.3zM1479.9 492.8h2.3v15.5h-2.3zM1482.3 678.7h2.3v15.5h-2.3zM1482.3 663.2h2.3v15.5h-2.3zM1482.3 446.3h2.3v15.5h-2.3zM1484.6 678.7h2.3v15.5h-2.3zM1484.6 663.2h2.3v15.5h-2.3zM1493.9 508.3h2.3v15.5h-2.3zM1493.9 492.8h2.3v15.5h-2.3zM1503.1 601.2h2.3v15.5h-2.3zM1507.8 632.2h2.3v15.5h-2.3zM1512.4 663.2h2.3v15.5h-2.3zM1514.7 678.7h2.3v15.5h-2.3zM1514.7 663.2h2.3v15.5h-2.3zM1517 694.2h2.3v15.5h-2.3zM1521.7 446.3h2.3v15.5h-2.3zM1533.3 678.7h2.3v15.5h-2.3zM1533.3 663.2h2.3v15.5h-2.3zM1607.5 601.2h2.3v15.5h-2.3zM1607.5 585.7h2.3v15.5h-2.3zM1607.5 477.3h2.3v15.5h-2.3zM1616.8 647.7h2.3v15.5h-2.3zM1616.8 632.2h2.3v15.5h-2.3zM1616.8 616.7h2.3v15.5h-2.3zM1616.8 585.7h2.3v15.5h-2.3zM1616.8 461.8h2.3v15.5h-2.3zM1716.5 647.7h2.3v15.5h-2.3zM1716.5 632.2h2.3v15.5h-2.3zM1716.5 570.2h2.3v15.5h-2.3zM1716.5 461.8h2.3v15.5h-2.3z"/>
<path fill="#e0beb2" shape-rendering="crispEdges" d="M1266.6 616.7h2.3v15.5h-2.3zM1266.6 601.2h2.3v15.5h-2.3zM1266.6 570.2h2.3v15.5h-2.3zM1268.9 632.2h2.3v15.5h-2.3zM1271.3 616.7h2.3v15.5h-2.3zM1271.3 601.2h2.3v15.5h-2.3zM1273.6 647.7h2.3v15.5h-2.3zM1275.9 539.3h2.3v15.5h-2.3zM1275.9 523.8h2.3v15.5h-2.3zM1280.5 632.2h2.3v15.5h-2.3zM1280.5 616.7h2.3v15.5h-2.3zM1285.2 678.7h2.3v15.5h-2.3zM1285.2 647.7h2.3v15.5h-2.3zM1285.2 461.8h2.3v15.5h-2.3zM1287.5 632.2h2.3v15.5h-2.3zM1287.5 616.7h2.3v15.5h-2.3zM1287.5 585.7h2.3v15.5h-2.3zM1287.5 492.8h2.3v15.5h-2.3zM1289.8 554.8h2.3v15.5h-2.3zM1289.8 508.3h2.3v15.5h-2.3zM1301.4 539.3h2.3v15.5h-2.3zM1301.4 523.8h2.3v15.5h-2.3zM1301.4 508.3h2.3v15.5h-2.3zM1303.7 585.7h2.3v15.5h-2.3zM1306 678.7h2.3v15.5h-2.3zM1308.4 647.7h2.3v15.5h-2.3zM1310.7 663.2h2.3v15.5h-2.3zM1310.7 647.7h2.3v15.5h-2.3zM1310.7 461.8h2.3v15.5h-2.3zM1315.3 446.3h2.3v15.5h-2.3zM1359.4 585.7h2.3v15.5h-2.3zM1359.4 570.2h2.3v15.5h-2.3zM1361.7 601.2h2.3v15.5h-2.3zM1368.6 678.7h2.3v15.5h-2.3zM1371 694.2h2.3v15.5h-2.3zM1371 430.8h2.3v15.5h-2.3zM1373.3 570.2h2.3v15.5h-2.3zM1384.9 539.3h2.3v15.5h-2.3zM1384.9 508.3h2.3v15.5h-2.3zM1387.2 539.3h2.3v15.5h-2.3zM1387.2 523.8h2.3v15.5h-2.3zM1438.2 539.3h2.3v15.5h-2.3zM1438.2 508.3h2.3v15.5h-2.3zM1440.5 554.8h2.3v15.5h-2.3zM1440.5 492.8h2.3v15.5h-2.3zM1445.2 554.8h2.3v15.5h-2.3zM1445.2 523.8h2.3v15.5h-2.3zM1445.2 508.3h2.3v15.5h-2.3zM1447.5 616.7h2.3v15.5h-2.3zM1447.5 601.2h2.3v15.5h-2.3zM1449.8 601.2h2.3v15.5h-2.3zM1449.8 585.7h2.3v15.5h-2.3zM1449.8 570.2h2.3v15.5h-2.3zM1456.8 461.8h2.3v15.5h-2.3zM1459.1 632.2h2.3v15.5h-2.3zM1459.1 616.7h2.3v15.5h-2.3zM1459.1 585.7h2.3v15.5h-2.3zM1466 492.8h2.3v15.5h-2.3zM1470.7 632.2h2.3v15.5h-2.3zM1479.9 539.3h2.3v15.5h-2.3zM1482.3 461.8h2.3v15.5h-2.3zM1484.6 461.8h2.3v15.5h-2.3zM1493.9 523.8h2.3v15.5h-2.3zM1503.1 632.2h2.3v15.5h-2.3zM1503.1 477.3h2.3v15.5h-2.3zM1507.8 616.7h2.3v15.5h-2.3zM1507.8 601.2h2.3v15.5h-2.3zM1507.8 585.7h2.3v15.5h-2.3zM1512.4 647.7h2.3v15.5h-2.3zM1512.4 461.8h2.3v15.5h-2.3zM1514.7 647.7h2.3v15.5h-2.3zM1517 446.3h2.3v15.5h-2.3zM1519.4 430.8h2.3v15.5h-2.3zM1521.7 678.7h2.3v15.5h-2.3zM1521.7 663.2h2.3v15.5h-2.3zM1607.5 616.7h2.3v15.5h-2.3zM1607.5 570.2h2.3v15.5h-2.3zM1607.5 492.8h2.3v15.5h-2.3zM1616.8 601.2h2.3v15.5h-2.3zM1616.8 570.2h2.3v15.5h-2.3zM1616.8 539.3h2.3v15.5h-2.3zM1616.8 508.3h2.3v15.5h-2.3zM1616.8 492.8h2.3v15.5h-2.3zM1616.8 477.3h2.3v15.5h-2.3zM1716.5 616.7h2.3v15.5h-2.3zM1716.5 601.2h2.3v15.5h-2.3zM1716.5 585.7h2.3v15.5h-2.3zM1716.5 554.8h2.3v15.5h-2.3zM1716.5 508.3h2.3v15.5h-2.3zM1716.5 492.8h2.3v15.5h-2.3zM1716.5 477.3h2.3v15.5h-2.3z"/>
<path fill="#deb9ac" shape-rendering="crispEdges" d="M1266.6 554.8h2.3v15.5h-2.3zM1266.6 523.8h2.3v15.5h-2.3zM1266.6 508.3h2.3v15.5h-2.3zM1268.9 601.2h2.3v15.5h-2.3zM1268.9 477.3h2.3v15.5h-2.3zM1271.3 554.8h2.3v15.5h-2.3zM1271.3 523.8h2.3v15.5h-2.3zM1271.3 508.3h2.3v15.5h-2.3zM1273.6 477.3h2.3v15.5h-2.3zM1278.2 632.2h2.3v15.5h-2.3zM1278.2 477.3h2.3v15.5h-2.3zM1280.5 570.2h2.3v15.5h-2.3zM1280.5 554.8h2.3v15.5h-2.3zM1280.5 539.3h2.3v15.5h-2.3zM1280.5 492.8h2.3v15.5h-2.3zM1282.9 601.2h2.3v15.5h-2.3zM1285.2 663.2h2.3v15.5h-2.3zM1287.5 554.8h2.3v15.5h-2.3zM1287.5 523.8h2.3v15.5h-2.3zM1289.8 539.3h2.3v15.5h-2.3zM1292.1 632.2h2.3v15.5h-2.3zM1292.1 477.3h2.3v15.5h-2.3zM1294.4 632.2h2.3v15.5h-2.3zM1296.8 632.2h2.3v15.5h-2.3zM1299.1 616.7h2.3v15.5h-2.3zM1299.1 585.7h2.3v15.5h-2.3zM1299.1 570.2h2.3v15.5h-2.3zM1299.1 554.8h2.3v15.5h-2.3zM1299.1 477.3h2.3v15.5h-2.3zM1303.7 632.2h2.3v15.5h-2.3zM1303.7 601.2h2.3v15.5h-2.3zM1303.7 570.2h2.3v15.5h-2.3zM1303.7 554.8h2.3v15.5h-2.3zM1303.7 492.8h2.3v15.5h-2.3zM1306 663.2h2.3v15.5h-2.3zM1306 647.7h2.3v15.5h-2.3zM1308.4 632.2h2.3v15.5h-2.3zM1313 446.3h2.3v15.5h-2.3zM1315.3 678.7h2.3v15.5h-2.3zM1359.4 477.3h2.3v15.5h-2.3zM1361.7 585.7h2.3v15.5h-2.3zM1364 601.2h2.3v15.5h-2.3zM1364 461.8h2.3v15.5h-2.3zM1384.9 523.8h2.3v15.5h-2.3zM1438.2 523.8h2.3v15.5h-2.3zM1447.5 632.2h2.3v15.5h-2.3zM1447.5 585.7h2.3v15.5h-2.3zM1447.5 477.3h2.3v15.5h-2.3zM1449.8 554.8h2.3v15.5h-2.3zM1454.4 632.2h2.3v15.5h-2.3zM1454.4 616.7h2.3v15.5h-2.3zM1454.4 601.2h2.3v15.5h-2.3zM1459.1 601.2h2.3v15.5h-2.3zM1466 539.3h2.3v15.5h-2.3zM1466 508.3h2.3v15.5h-2.3zM1470.7 616.7h2.3v15.5h-2.3zM1470.7 601.2h2.3v15.5h-2.3zM1470.7 477.3h2.3v15.5h-2.3zM1482.3 647.7h2.3v15.5h-2.3zM1493.9 539.3h2.3v15.5h-2.3zM1503.1 616.7h2.3v15.5h-2.3zM1507.8 570.2h2.3v15.5h-2.3zM1507.8 477.3h2.3v15.5h-2.3zM1514.7 461.8h2.3v15.5h-2.3zM1517 678.7h2.3v15.5h-2.3zM1517 461.8h2.3v15.5h-2.3zM1519.4 694.2h2.3v15.5h-2.3zM1519.4 446.3h2.3v15.5h-2.3zM1521.7 461.8h2.3v15.5h-2.3zM1533.3 461.8h2.3v15.5h-2.3zM1607.5 554.8h2.3v15.5h-2.3zM1607.5 523.8h2.3v15.5h-2.3zM1607.5 508.3h2.3v15.5h-2.3zM1616.8 554.8h2.3v15.5h-2.3zM1616.8 523.8h2.3v15.5h-2.3zM1716.5 539.3h2.3v15.5h-2.3zM1753.6 694.2h2.3v15.5h-2.3zM1753.6 678.7h2.3v15.5h-2.3zM1753.6 663.2h2.3v15.5h-2.3zM1753.6 461.8h2.3v15.5h-2.3zM1753.6 430.8h2.3v15.5h-2.3zM1779.1 461.8h2.3v15.5h-2.3zM1779.1 446.3h2.3v15.5h-2.3zM1779.1 430.8h2.3v15.5h-2.3z"/>
<path fill="#dcb4a5" shape-rendering="crispEdges" d="M1266.6 539.3h2.3v15.5h-2.3zM1266.6 492.8h2.3v15.5h-2.3zM1268.9 570.2h2.3v15.5h-2.3zM1271.3 539.3h2.3v15.5h-2.3zM1271.3 492.8h2.3v15.5h-2.3zM1273.6 616.7h2.3v15.5h-2.3zM1273.6 601.2h2.3v15.5h-2.3zM1278.2 616.7h2.3v15.5h-2.3zM1278.2 601.2h2.3v15.5h-2.3zM1278.2 585.7h2.3v15.5h-2.3zM1278.2 570.2h2.3v15.5h-2.3zM1280.5 523.8h2.3v15.5h-2.3zM1280.5 508.3h2.3v15.5h-2.3zM1282.9 632.2h2.3v15.5h-2.3zM1282.9 585.7h2.3v15.5h-2.3zM1282.9 477.3h2.3v15.5h-2.3zM1285.2 477.3h2.3v15.5h-2.3zM1292.1 601.2h2.3v15.5h-2.3zM1292.1 570.2h2.3v15.5h-2.3zM1294.4 616.7h2.3v15.5h-2.3zM1294.4 601.2h2.3v15.5h-2.3zM1294.4 585.7h2.3v15.5h-2.3zM1294.4 477.3h2.3v15.5h-2.3zM1296.8 616.7h2.3v15.5h-2.3zM1303.7 616.7h2.3v15.5h-2.3zM1308.4 601.2h2.3v15.5h-2.3zM1308.4 585.7h2.3v15.5h-2.3zM1308.4 477.3h2.3v15.5h-2.3zM1315.3 663.2h2.3v15.5h-2.3zM1315.3 647.7h2.3v15.5h-2.3zM1315.3 461.8h2.3v15.5h-2.3zM1361.7 570.2h2.3v15.5h-2.3zM1364 585.7h2.3v15.5h-2.3zM1364 570.2h2.3v15.5h-2.3zM1366.3 461.8h2.3v15.5h-2.3zM1368.6 663.2h2.3v15.5h-2.3zM1368.6 446.3h2.3v15.5h-2.3zM1371 678.7h2.3v15.5h-2.3zM1371 446.3h2.3v15.5h-2.3zM1373.3 477.3h2.3v15.5h-2.3zM1440.5 523.8h2.3v15.5h-2.3zM1440.5 508.3h2.3v15.5h-2.3zM1445.2 539.3h2.3v15.5h-2.3zM1447.5 570.2h2.3v15.5h-2.3zM1447.5 492.8h2.3v15.5h-2.3zM1454.4 585.7h2.3v15.5h-2.3zM1456.8 647.7h2.3v15.5h-2.3zM1456.8 632.2h2.3v15.5h-2.3zM1459.1 477.3h2.3v15.5h-2.3zM1466 554.8h2.3v15.5h-2.3zM1470.7 585.7h2.3v15.5h-2.3zM1479.9 523.8h2.3v15.5h-2.3zM1482.3 632.2h2.3v15.5h-2.3zM1484.6 647.7h2.3v15.5h-2.3zM1503.1 585.7h2.3v15.5h-2.3zM1507.8 508.3h2.3v15.5h-2.3zM1507.8 492.8h2.3v15.5h-2.3zM1512.4 632.2h2.3v15.5h-2.3zM1512.4 616.7h2.3v15.5h-2.3zM1512.4 601.2h2.3v15.5h-2.3zM1517 663.2h2.3v15.5h-2.3zM1517 647.7h2.3v15.5h-2.3zM1521.7 647.7h2.3v15.5h-2.3zM1533.3 647.7h2.3v15.5h-2.3zM1533.3 632.2h2.3v15.5h-2.3zM1607.5 539.3h2.3v15.5h-2.3zM1716.5 523.8h2.3v15.5h-2.3zM1753.6 647.7h2.3v15.5h-2.3zM1753.6 446.3h2.3v15.5h-2.3z"/>
<path fill="#dbae9e" shape-rendering="crispEdges" d="M1268.9 616.7h2.3v15.5h-2.3zM1268.9 585.7h2.3v15.5h-2.3zM1273.6 632.2h2.3v15.5h-2.3zM1273.6 585.7h2.3v15.5h-2.3zM1273.6 570.2h2.3v15.5h-2.3zM1278.2 492.8h2.3v15.5h-2.3zM1282.9 616.7h2.3v15.5h-2.3zM1285.2 601.2h2.3v15.5h-2.3zM1287.5 539.3h2.3v15.5h-2.3zM1287.5 508.3h2.3v15.5h-2.3zM1292.1 616.7h2.3v15.5h-2.3zM1292.1 585.7h2.3v15.5h-2.3zM1292.1 554.8h2.3v15.5h-2.3zM1292.1 492.8h2.3v15.5h-2.3zM1294.4 554.8h2.3v15.5h-2.3zM1296.8 601.2h2.3v15.5h-2.3zM1296.8 585.7h2.3v15.5h-2.3zM1296.8 570.2h2.3v15.5h-2.3zM1296.8 477.3h2.3v15.5h-2.3zM1299.1 539.3h2.3v15.5h-2.3zM1299.1 523.8h2.3v15.5h-2.3zM1299.1 492.8h2.3v15.5h-2.3zM1303.7 523.8h2.3v15.5h-2.3zM1306 461.8h2.3v15.5h-2.3zM1308.4 616.7h2.3v15.5h-2.3zM1308.4 492.8h2.3v15.5h-2.3zM1359.4 492.8h2.3v15.5h-2.3zM1371 663.2h2.3v15.5h-2.3zM1373.3 554.8h2.3v15.5h-2.3zM1440.5 539.3h2.3v15.5h-2.3zM1449.8 539.3h2.3v15.5h-2.3zM1449.8 508.3h2.3v15.5h-2.3zM1449.8 492.8h2.3v15.5h-2.3zM1454.4 477.3h2.3v15.5h-2.3zM1456.8 616.7h2.3v15.5h-2.3zM1459.1 554.8h2.3v15.5h-2.3zM1482.3 616.7h2.3v15.5h-2.3zM1482.3 601.2h2.3v15.5h-2.3zM1482.3 477.3h2.3v15.5h-2.3zM1503.1 570.2h2.3v15.5h-2.3zM1507.8 554.8h2.3v15.5h-2.3zM1512.4 477.3h2.3v15.5h-2.3zM1514.7 632.2h2.3v15.5h-2.3zM1514.7 477.3h2.3v15.5h-2.3zM1519.4 678.7h2.3v15.5h-2.3zM1519.4 663.2h2.3v15.5h-2.3zM1521.7 601.2h2.3v15.5h-2.3zM1533.3 477.3h2.3v15.5h-2.3z"/>
<path fill="#d9a998" shape-rendering="crispEdges" d="M1268.9 554.8h2.3v15.5h-2.3zM1268.9 523.8h2.3v15.5h-2.3zM1273.6 554.8h2.3v15.5h-2.3zM1273.6 492.8h2.3v15.5h-2.3zM1278.2 554.8h2.3v15.5h-2.3zM1278.2 523.8h2.3v15.5h-2.3zM1278.2 508.3h2.3v15.5h-2.3zM1282.9 570.2h2.3v15.5h-2.3zM1282.9 492.8h2.3v15.5h-2.3zM1285.2 585.7h2.3v15.5h-2.3zM1292.1 539.3h2.3v15.5h-2.3zM1294.4 570.2h2.3v15.5h-2.3zM1294.4 508.3h2.3v15.5h-2.3zM1294.4 492.8h2.3v15.5h-2.3zM1308.4 570.2h2.3v15.5h-2.3zM1308.4 554.8h2.3v15.5h-2.3zM1308.4 523.8h2.3v15.5h-2.3zM1310.7 601.2h2.3v15.5h-2.3zM1313 461.8h2.3v15.5h-2.3zM1359.4 554.8h2.3v15.5h-2.3zM1361.7 477.3h2.3v15.5h-2.3zM1366.3 601.2h2.3v15.5h-2.3zM1373.3 492.8h2.3v15.5h-2.3zM1447.5 554.8h2.3v15.5h-2.3zM1449.8 523.8h2.3v15.5h-2.3zM1456.8 601.2h2.3v15.5h-2.3zM1459.1 570.2h2.3v15.5h-2.3zM1466 523.8h2.3v15.5h-2.3zM1470.7 570.2h2.3v15.5h-2.3zM1484.6 632.2h2.3v15.5h-2.3zM1503.1 554.8h2.3v15.5h-2.3zM1503.1 539.3h2.3v15.5h-2.3zM1503.1 492.8h2.3v15.5h-2.3zM1507.8 539.3h2.3v15.5h-2.3zM1514.7 601.2h2.3v15.5h-2.3zM1517 632.2h2.3v15.5h-2.3zM1521.7 616.7h2.3v15.5h-2.3zM1533.3 601.2h2.3v15.5h-2.3zM1753.6 585.7h2.3v15.5h-2.3zM1753.6 570.2h2.3v15.5h-2.3z"/>
<path fill="#d8a391" shape-rendering="crispEdges" d="M1268.9 508.3h2.3v15.5h-2.3zM1268.9 492.8h2.3v15.5h-2.3zM1282.9 554.8h2.3v15.5h-2.3zM1282.9 508.3h2.3v15.5h-2.3zM1285.2 632.2h2.3v15.5h-2.3zM1285.2 554.8h2.3v15.5h-2.3zM1294.4 539.3h2.3v15.5h-2.3zM1296.8 554.8h2.3v15.5h-2.3zM1296.8 523.8h2.3v15.5h-2.3zM1296.8 508.3h2.3v15.5h-2.3zM1299.1 508.3h2.3v15.5h-2.3zM1303.7 539.3h2.3v15.5h-2.3zM1303.7 508.3h2.3v15.5h-2.3zM1306 632.2h2.3v15.5h-2.3zM1310.7 632.2h2.3v15.5h-2.3zM1310.7 616.7h2.3v15.5h-2.3zM1310.7 570.2h2.3v15.5h-2.3zM1310.7 477.3h2.3v15.5h-2.3zM1359.4 523.8h2.3v15.5h-2.3zM1361.7 554.8h2.3v15.5h-2.3zM1364 477.3h2.3v15.5h-2.3zM1366.3 585.7h2.3v15.5h-2.3zM1368.6 461.8h2.3v15.5h-2.3zM1373.3 539.3h2.3v15.5h-2.3zM1373.3 508.3h2.3v15.5h-2.3zM1454.4 570.2h2.3v15.5h-2.3zM1454.4 554.8h2.3v15.5h-2.3zM1454.4 492.8h2.3v15.5h-2.3zM1456.8 585.7h2.3v15.5h-2.3zM1459.1 508.3h2.3v15.5h-2.3zM1459.1 492.8h2.3v15.5h-2.3zM1470.7 539.3h2.3v15.5h-2.3zM1470.7 523.8h2.3v15.5h-2.3zM1470.7 492.8h2.3v15.5h-2.3zM1482.3 585.7h2.3v15.5h-2.3zM1484.6 616.7h2.3v15.5h-2.3zM1484.6 601.2h2.3v15.5h-2.3zM1484.6 585.7h2.3v15.5h-2.3zM1503.1 523.8h2.3v15.5h-2.3zM1503.1 508.3h2.3v15.5h-2.3zM1507.8 523.8h2.3v15.5h-2.3zM1512.4 585.7h2.3v15.5h-2.3zM1512.4 570.2h2.3v15.5h-2.3zM1512.4 554.8h2.3v15.5h-2.3zM1514.7 616.7h2.3v15.5h-2.3zM1517 477.3h2.3v15.5h-2.3zM1519.4 647.7h2.3v15.5h-2.3zM1519.4 461.8h2.3v15.5h-2.3zM1521.7 632.2h2.3v15.5h-2.3zM1521.7 477.3h2.3v15.5h-2.3zM1533.3 585.7h2.3v15.5h-2.3zM1753.6 601.2h2.3v15.5h-2.3zM1753.6 554.8h2.3v15.5h-2.3zM1753.6 523.8h2.3v15.5h-2.3zM1753.6 477.3h2.3v15.5h-2.3z"/>
<path fill="#d69e8a" shape-rendering="crispEdges" d="M1268.9 539.3h2.3v15.5h-2.3zM1273.6 523.8h2.3v15.5h-2.3zM1273.6 508.3h2.3v15.5h-2.3zM1278.2 539.3h2.3v15.5h-2.3zM1282.9 539.3h2.3v15.5h-2.3zM1285.2 616.7h2.3v15.5h-2.3zM1285.2 570.2h2.3v15.5h-2.3zM1285.2 492.8h2.3v15.5h-2.3zM1292.1 523.8h2.3v15.5h-2.3zM1292.1 508.3h2.3v15.5h-2.3zM1296.8 492.8h2.3v15.5h-2.3zM1306 601.2h2.3v15.5h-2.3zM1306 585.7h2.3v15.5h-2.3zM1306 477.3h2.3v15.5h-2.3zM1310.7 585.7h2.3v15.5h-2.3zM1310.7 492.8h2.3v15.5h-2.3zM1313 678.7h2.3v15.5h-2.3zM1313 663.2h2.3v15.5h-2.3zM1313 647.7h2.3v15.5h-2.3zM1315.3 632.2h2.3v15.5h-2.3zM1359.4 616.7h2.3v15.5h-2.3zM1361.7 523.8h2.3v15.5h-2.3zM1361.7 492.8h2.3v15.5h-2.3zM1364 492.8h2.3v15.5h-2.3zM1368.6 601.2h2.3v15.5h-2.3zM1373.3 523.8h2.3v15.5h-2.3zM1447.5 539.3h2.3v15.5h-2.3zM1447.5 508.3h2.3v15.5h-2.3zM1456.8 570.2h2.3v15.5h-2.3zM1456.8 477.3h2.3v15.5h-2.3zM1470.7 554.8h2.3v15.5h-2.3zM1484.6 477.3h2.3v15.5h-2.3zM1512.4 508.3h2.3v15.5h-2.3zM1512.4 492.8h2.3v15.5h-2.3zM1514.7 585.7h2.3v15.5h-2.3zM1517 601.2h2.3v15.5h-2.3zM1521.7 585.7h2.3v15.5h-2.3zM1521.7 570.2h2.3v15.5h-2.3zM1533.3 616.7h2.3v15.5h-2.3zM1753.6 539.3h2.3v15.5h-2.3z"/>
<path fill="#d49883" shape-rendering="crispEdges" d="M1282.9 523.8h2.3v15.5h-2.3zM1296.8 539.3h2.3v15.5h-2.3zM1306 570.2h2.3v15.5h-2.3zM1308.4 508.3h2.3v15.5h-2.3zM1315.3 585.7h2.3v15.5h-2.3zM1315.3 477.3h2.3v15.5h-2.3zM1359.4 508.3h2.3v15.5h-2.3zM1361.7 647.7h2.3v15.5h-2.3zM1364 647.7h2.3v15.5h-2.3zM1364 508.3h2.3v15.5h-2.3zM1366.3 647.7h2.3v15.5h-2.3zM1368.6 647.7h2.3v15.5h-2.3zM1371 647.7h2.3v15.5h-2.3zM1373.3 647.7h2.3v15.5h-2.3zM1454.4 523.8h2.3v15.5h-2.3zM1459.1 539.3h2.3v15.5h-2.3zM1470.7 508.3h2.3v15.5h-2.3zM1514.7 570.2h2.3v15.5h-2.3zM1514.7 492.8h2.3v15.5h-2.3zM1517 616.7h2.3v15.5h-2.3zM1519.4 601.2h2.3v15.5h-2.3zM1753.6 508.3h2.3v15.5h-2.3zM1753.6 492.8h2.3v15.5h-2.3z"/>
<path fill="#d2927c" shape-rendering="crispEdges" d="M1273.6 539.3h2.3v15.5h-2.3zM1294.4 523.8h2.3v15.5h-2.3zM1306 616.7h2.3v15.5h-2.3zM1306 554.8h2.3v15.5h-2.3zM1308.4 539.3h2.3v15.5h-2.3zM1310.7 508.3h2.3v15.5h-2.3zM1315.3 601.2h2.3v15.5h-2.3zM1315.3 570.2h2.3v15.5h-2.3zM1359.4 539.3h2.3v15.5h-2.3zM1361.7 539.3h2.3v15.5h-2.3zM1361.7 508.3h2.3v15.5h-2.3zM1364 554.8h2.3v15.5h-2.3zM1366.3 570.2h2.3v15.5h-2.3zM1371 461.8h2.3v15.5h-2.3zM1447.5 523.8h2.3v15.5h-2.3zM1454.4 539.3h2.3v15.5h-2.3zM1454.4 508.3h2.3v15.5h-2.3zM1456.8 554.8h2.3v15.5h-2.3zM1456.8 492.8h2.3v15.5h-2.3zM1459.1 523.8h2.3v15.5h-2.3zM1482.3 570.2h2.3v15.5h-2.3zM1482.3 492.8h2.3v15.5h-2.3zM1514.7 554.8h2.3v15.5h-2.3zM1517 585.7h2.3v15.5h-2.3zM1533.3 570.2h2.3v15.5h-2.3zM1533.3 554.8h2.3v15.5h-2.3z"/>
<path fill="#d18c76" shape-rendering="crispEdges" d="M1285.2 539.3h2.3v15.5h-2.3zM1310.7 554.8h2.3v15.5h-2.3zM1310.7 539.3h2.3v15.5h-2.3zM1313 632.2h2.3v15.5h-2.3zM1313 477.3h2.3v15.5h-2.3zM1315.3 492.8h2.3v15.5h-2.3zM1359.4 632.2h2.3v15.5h-2.3zM1364 523.8h2.3v15.5h-2.3zM1368.6 585.7h2.3v15.5h-2.3zM1371 601.2h2.3v15.5h-2.3zM1373.3 616.7h2.3v15.5h-2.3zM1456.8 508.3h2.3v15.5h-2.3zM1482.3 554.8h2.3v15.5h-2.3zM1482.3 539.3h2.3v15.5h-2.3zM1482.3 523.8h2.3v15.5h-2.3zM1482.3 508.3h2.3v15.5h-2.3zM1484.6 492.8h2.3v15.5h-2.3zM1519.4 477.3h2.3v15.5h-2.3zM1521.7 492.8h2.3v15.5h-2.3zM1753.6 616.7h2.3v15.5h-2.3z"/>
<path fill="#cf866f" shape-rendering="crispEdges" d="M1285.2 523.8h2.3v15.5h-2.3zM1285.2 508.3h2.3v15.5h-2.3zM1306 508.3h2.3v15.5h-2.3zM1306 492.8h2.3v15.5h-2.3zM1313 601.2h2.3v15.5h-2.3zM1313 585.7h2.3v15.5h-2.3zM1315.3 554.8h2.3v15.5h-2.3zM1366.3 554.8h2.3v15.5h-2.3zM1366.3 477.3h2.3v15.5h-2.3zM1368.6 477.3h2.3v15.5h-2.3zM1371 585.7h2.3v15.5h-2.3zM1484.6 570.2h2.3v15.5h-2.3zM1512.4 539.3h2.3v15.5h-2.3zM1512.4 523.8h2.3v15.5h-2.3zM1514.7 539.3h2.3v15.5h-2.3zM1517 570.2h2.3v15.5h-2.3zM1517 492.8h2.3v15.5h-2.3zM1521.7 554.8h2.3v15.5h-2.3zM1533.3 508.3h2.3v15.5h-2.3zM1533.3 492.8h2.3v15.5h-2.3z"/>
<path fill="#cd8068" shape-rendering="crispEdges" d="M1313 616.7h2.3v15.5h-2.3zM1313 570.2h2.3v15.5h-2.3zM1315.3 616.7h2.3v15.5h-2.3zM1315.3 539.3h2.3v15.5h-2.3zM1368.6 570.2h2.3v15.5h-2.3zM1371 570.2h2.3v15.5h-2.3zM1484.6 554.8h2.3v15.5h-2.3zM1514.7 508.3h2.3v15.5h-2.3zM1521.7 523.8h2.3v15.5h-2.3zM1521.7 508.3h2.3v15.5h-2.3zM1533.3 523.8h2.3v15.5h-2.3z"/>
<path fill="#cb7a62" shape-rendering="crispEdges" d="M1306 539.3h2.3v15.5h-2.3zM1310.7 523.8h2.3v15.5h-2.3zM1313 554.8h2.3v15.5h-2.3zM1364 539.3h2.3v15.5h-2.3zM1366.3 508.3h2.3v15.5h-2.3zM1366.3 492.8h2.3v15.5h-2.3zM1456.8 539.3h2.3v15.5h-2.3zM1484.6 539.3h2.3v15.5h-2.3zM1484.6 523.8h2.3v15.5h-2.3zM1484.6 508.3h2.3v15.5h-2.3zM1514.7 523.8h2.3v15.5h-2.3zM1517 554.8h2.3v15.5h-2.3zM1521.7 539.3h2.3v15.5h-2.3zM1533.3 539.3h2.3v15.5h-2.3z"/>
<path fill="#c8745b" shape-rendering="crispEdges" d="M1306 523.8h2.3v15.5h-2.3zM1313 492.8h2.3v15.5h-2.3zM1315.3 508.3h2.3v15.5h-2.3zM1366.3 523.8h2.3v15.5h-2.3zM1373.3 632.2h2.3v15.5h-2.3zM1456.8 523.8h2.3v15.5h-2.3zM1517 539.3h2.3v15.5h-2.3zM1517 523.8h2.3v15.5h-2.3zM1517 508.3h2.3v15.5h-2.3zM1519.4 585.7h2.3v15.5h-2.3zM1519.4 570.2h2.3v15.5h-2.3z"/>
<path fill="#c66e55" shape-rendering="crispEdges" d="M1368.6 492.8h2.3v15.5h-2.3z"/>
<path fill="#c3684e" shape-rendering="crispEdges" d="M1315.3 523.8h2.3v15.5h-2.3zM1519.4 492.8h2.3v15.5h-2.3z"/>
<path fill="#c16248" shape-rendering="crispEdges" d="M1313 539.3h2.3v15.5h-2.3zM1313 523.8h2.3v15.5h-2.3zM1313 508.3h2.3v15.5h-2.3zM1366.3 539.3h2.3v15.5h-2.3zM1368.6 554.8h2.3v15.5h-2.3zM1519.4 616.7h2.3v15.5h-2.3zM1519.4 508.3h2.3v15.5h-2.3z"/>
<path fill="#be5b42" shape-rendering="crispEdges" d="M1371 477.3h2.3v15.5h-2.3zM1519.4 554.8h2.3v15.5h-2.3z"/>
<path fill="#bb543d" shape-rendering="crispEdges" d="M1368.6 523.8h2.3v15.5h-2.3zM1519.4 539.3h2.3v15.5h-2.3z"/>
<path fill="#b84c37" shape-rendering="crispEdges" d="M1361.7 616.7h2.3v15.5h-2.3zM1371 554.8h2.3v15.5h-2.3zM1753.6 632.2h2.3v15.5h-2.3z"/>
<path fill="#b54532" shape-rendering="crispEdges" d="M1368.6 508.3h2.3v15.5h-2.3z"/>
<path fill="#b23e2c" shape-rendering="crispEdges" d="M1368.6 539.3h2.3v15.5h-2.3zM1371 523.8h2.3v15.5h-2.3zM1519.4 632.2h2.3v15.5h-2.3zM1519.4 523.8h2.3v15.5h-2.3z"/>
<path fill="#ad372d" shape-rendering="crispEdges" d="M1371 492.8h2.3v15.5h-2.3z"/>
<path fill="#a8302e" shape-rendering="crispEdges" d="M1361.7 632.2h2.3v15.5h-2.3zM1371 508.3h2.3v15.5h-2.3z"/>
<path fill="#901831" shape-rendering="crispEdges" d="M1371 539.3h2.3v15.5h-2.3z"/>
<path fill="#8a1631" shape-rendering="crispEdges" d="M1371 616.7h2.3v15.5h-2.3z"/>
<path fill="#801232" shape-rendering="crispEdges" d="M1368.6 616.7h2.3v15.5h-2.3z"/>
<path fill="#72102d" shape-rendering="crispEdges" d="M1371 632.2h2.3v15.5h-2.3z"/>
<path fill="#630e28" shape-rendering="crispEdges" d="M1364 632.2h2.3v15.5h-2.3z"/>
<path fill="#560c23" shape-rendering="crispEdges" d="M1368.6 632.2h2.3v15.5h-2.3z"/>
<path fill="#490b1e" shape-rendering="crispEdges" d="M1366.3 632.2h2.3v15.5h-2.3zM1366.3 616.7h2.3v15.5h-2.3z"/>
<path fill="#420a1b" shape-rendering="crispEdges" d="M1364 616.7h2.3v15.5h-2.3z"/>
</g></g>
<rect x="1264.3" y="430.8" width="579.7" height="278.9" fill="none" stroke="#000" stroke-width="1.5"/>
<line x1="1264.3" y1="702" x2="1270.3" y2="702" stroke="#000" stroke-width="1.5"/>
<text x="1253.2" y="712.9" font-size="33" text-anchor="end">0-4</text>
<line x1="1264.3" y1="624.5" x2="1270.3" y2="624.5" stroke="#000" stroke-width="1.5"/>
<text x="1253.2" y="635.4" font-size="33" text-anchor="end">25-29</text>
<line x1="1264.3" y1="547" x2="1270.3" y2="547" stroke="#000" stroke-width="1.5"/>
<text x="1253.2" y="557.9" font-size="33" text-anchor="end">50-54</text>
<line x1="1264.3" y1="469.5" x2="1270.3" y2="469.5" stroke="#000" stroke-width="1.5"/>
<text x="1253.2" y="480.4" font-size="33" text-anchor="end">75-79</text>
<line x1="1264.6" y1="709.7" x2="1264.6" y2="703.7" stroke="#000" stroke-width="1.5"/>
<text x="1264.6" y="744.3" font-size="33" text-anchor="middle">1</text>
<line x1="1379.1" y1="709.7" x2="1379.1" y2="703.7" stroke="#000" stroke-width="1.5"/>
<text x="1379.1" y="744.3" font-size="33" text-anchor="middle">50</text>
<line x1="1495" y1="709.7" x2="1495" y2="703.7" stroke="#000" stroke-width="1.5"/>
<text x="1495" y="744.3" font-size="33" text-anchor="middle">100</text>
<line x1="1611" y1="709.7" x2="1611" y2="703.7" stroke="#000" stroke-width="1.5"/>
<text x="1611" y="744.3" font-size="33" text-anchor="middle">150</text>
<line x1="1726.9" y1="709.7" x2="1726.9" y2="703.7" stroke="#000" stroke-width="1.5"/>
<text x="1726.9" y="744.3" font-size="33" text-anchor="middle">200</text>
<line x1="1843.7" y1="709.7" x2="1843.7" y2="703.7" stroke="#000" stroke-width="1.5"/>
<text x="1843.7" y="744.3" font-size="33" text-anchor="middle">250</text>
<text x="1554.2" y="781" font-size="33" text-anchor="middle">region</text>
<text x="1159" y="571.2" font-size="33" text-anchor="middle" transform="rotate(-90 1159 571.2)">age group</text>
<text x="1124.2" y="443.3" font-size="45">(f)</text>
<defs><linearGradient id="gf" x1="0" y1="0" x2="0" y2="1"><stop offset="0.000" stop-color="#3c0918"/><stop offset="0.100" stop-color="#5c0d26"/><stop offset="0.200" stop-color="#801232"/><stop offset="0.300" stop-color="#9a1c30"/><stop offset="0.400" stop-color="#b23e2c"/><stop offset="0.500" stop-color="#c16248"/><stop offset="0.600" stop-color="#cd8068"/><stop offset="0.700" stop-color="#d69e8a"/><stop offset="0.800" stop-color="#deb9ac"/><stop offset="0.900" stop-color="#e6d3cc"/><stop offset="1.000" stop-color="#f1eceb"/></linearGradient></defs>
<rect x="1861.2" y="432.1" width="24.9" height="278.4" fill="url(#gf)"/>
<line x1="1888" y1="430.6" x2="1888" y2="710.5" stroke="#000" stroke-width="1.4"/>
<line x1="1888" y1="709.8" x2="1898.5" y2="709.8" stroke="#000" stroke-width="1.4"/>
<text x="1899" y="720.7" font-size="33">0</text>
<line x1="1888" y1="681.9" x2="1890.2" y2="681.9" stroke="#333" stroke-width="0.9"/>
<line x1="1888" y1="654" x2="1890.2" y2="654" stroke="#333" stroke-width="0.9"/>
<line x1="1888" y1="626" x2="1890.2" y2="626" stroke="#333" stroke-width="0.9"/>
<line x1="1888" y1="598.1" x2="1898.5" y2="598.1" stroke="#000" stroke-width="1.4"/>
<text x="1899" y="609" font-size="33">0.002</text>
<line x1="1888" y1="570.2" x2="1890.2" y2="570.2" stroke="#333" stroke-width="0.9"/>
<line x1="1888" y1="542.3" x2="1890.2" y2="542.3" stroke="#333" stroke-width="0.9"/>
<line x1="1888" y1="514.4" x2="1890.2" y2="514.4" stroke="#333" stroke-width="0.9"/>
<line x1="1888" y1="486.4" x2="1898.5" y2="486.4" stroke="#000" stroke-width="1.4"/>
<text x="1899" y="497.3" font-size="33">0.004</text>
<line x1="1888" y1="458.5" x2="1890.2" y2="458.5" stroke="#333" stroke-width="0.9"/>
<line x1="1888" y1="430.6" x2="1890.2" y2="430.6" stroke="#333" stroke-width="0.9"/>
</g>
</svg></body></html>
